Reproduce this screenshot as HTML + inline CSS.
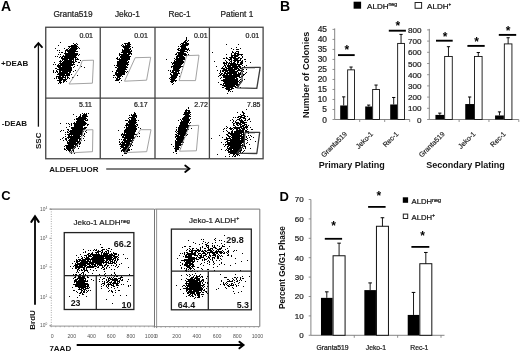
<!DOCTYPE html>
<html><head><meta charset="utf-8"><style>
html,body{margin:0;padding:0;background:#fff;}
svg{display:block;font-family:"Liberation Sans", sans-serif;filter:blur(0.3px);}
</style></head><body>
<svg width="520" height="352" viewBox="0 0 520 352">
<rect width="520" height="352" fill="#fff"/>
<text x="1" y="10.7" font-size="14" font-weight="bold" text-anchor="start" fill="#000" >A</text>
<text x="73" y="17.1" font-size="8.3" font-weight="normal" text-anchor="middle" fill="#222" stroke="#222" stroke-width="0.22" >Granta519</text>
<text x="127.4" y="17.1" font-size="8.3" font-weight="normal" text-anchor="middle" fill="#222" stroke="#222" stroke-width="0.22" >Jeko-1</text>
<text x="179.6" y="17.1" font-size="8.3" font-weight="normal" text-anchor="middle" fill="#222" stroke="#222" stroke-width="0.22" >Rec-1</text>
<text x="236.9" y="17.1" font-size="8.3" font-weight="normal" text-anchor="middle" fill="#222" stroke="#222" stroke-width="0.22" >Patient 1</text>
<text x="1" y="65.7" font-size="8" font-weight="bold" text-anchor="start" fill="#111" >+DEAB</text>
<text x="1.8" y="126.3" font-size="8" font-weight="bold" text-anchor="start" fill="#111" >-DEAB</text>
<path d="M68 58.5h1M63 69.5h1M64 70.5h1M66 60.5h1M74 55.5h1M63 76.5h1M75 50.5h1M73 54.5h1M59 74.5h1M65 65.5h1M75 49.5h1M61 74.5h1M69 78.5h1M66 63.5h1M65 61.5h1M66 73.5h1M74 51.5h1M60 79.5h1M69 55.5h1M73 51.5h1M74 52.5h1M66 72.5h1M65 63.5h1M69 62.5h1M63 76.5h1M76 45.5h1M60 54.5h1M67 55.5h1M64 62.5h1M68 57.5h1M59 81.5h1M70 64.5h1M76 46.5h1M71 52.5h1M65 67.5h1M75 58.5h1M65 63.5h1M67 65.5h1M73 60.5h1M65 70.5h1M57 69.5h1M71 56.5h1M68 57.5h1M63 70.5h1M72 59.5h1M68 65.5h1M70 55.5h1M73 55.5h1M67 65.5h1M69 59.5h1M67 65.5h1M64 72.5h1M69 56.5h1M72 49.5h1M63 72.5h1M68 53.5h1M62 63.5h1M75 51.5h1M72 51.5h1M69 57.5h1M75 44.5h1M61 75.5h1M74 47.5h1M70 55.5h1M63 65.5h1M68 67.5h1M60 72.5h1M75 49.5h1M62 58.5h1M65 58.5h1M72 57.5h1M62 74.5h1M67 58.5h1M62 76.5h1M66 56.5h1M70 55.5h1M61 57.5h1M71 50.5h1M65 60.5h1M68 66.5h1M62 79.5h1M63 64.5h1M72 65.5h1M67 57.5h1M68 46.5h1M69 47.5h1M71 67.5h1M67 61.5h1M60 73.5h1M63 65.5h1M69 51.5h1M77 46.5h1M71 52.5h1M65 79.5h1M66 63.5h1M66 50.5h1M66 71.5h1M62 72.5h1M73 47.5h1M77 46.5h1M70 54.5h1M66 73.5h1M72 52.5h1M64 62.5h1M66 68.5h1M64 64.5h1M63 80.5h1M73 55.5h1M68 60.5h1M66 69.5h1M74 50.5h1M70 53.5h1M66 72.5h1M72 49.5h1M64 74.5h1M63 64.5h1M72 52.5h1M66 67.5h1M69 53.5h1M60 76.5h1M63 67.5h1M69 65.5h1M58 78.5h1M74 49.5h1M71 65.5h1M63 73.5h1M62 60.5h1M69 59.5h1M71 62.5h1M65 64.5h1M70 64.5h1M75 47.5h1M70 58.5h1M64 66.5h1M60 74.5h1M72 51.5h1M68 61.5h1M65 70.5h1M61 79.5h1M64 66.5h1M63 72.5h1M62 76.5h1M68 50.5h1M66 59.5h1M59 74.5h1M71 53.5h1M61 74.5h1M68 57.5h1M62 65.5h1M70 61.5h1M65 69.5h1M60 64.5h1M62 73.5h1M60 70.5h1M76 53.5h1M73 47.5h1M72 48.5h1M70 56.5h1M69 55.5h1M66 65.5h1M70 69.5h1M71 56.5h1M68 68.5h1M71 63.5h1M67 55.5h1M68 73.5h1M71 59.5h1M70 64.5h1M65 60.5h1M75 50.5h1M73 50.5h1M71 50.5h1M78 55.5h1M71 57.5h1M64 67.5h1M73 51.5h1M75 47.5h1M67 72.5h1M64 73.5h1M69 67.5h1M73 59.5h1M69 50.5h1M68 57.5h1M61 68.5h1M68 62.5h1M63 80.5h1M66 70.5h1M63 64.5h1M71 52.5h1M76 48.5h1M63 67.5h1M71 52.5h1M70 59.5h1M63 56.5h1M71 58.5h1M66 69.5h1M70 61.5h1M62 66.5h1M72 48.5h1M70 53.5h1M74 47.5h1M66 66.5h1M70 56.5h1M78 47.5h1M75 53.5h1M62 67.5h1M59 76.5h1M64 79.5h1M64 67.5h1M64 79.5h1M72 64.5h1M63 67.5h1M62 71.5h1M61 77.5h1M65 60.5h1M64 61.5h1M70 52.5h1M72 57.5h1M65 63.5h1M71 53.5h1M67 58.5h1M61 64.5h1M72 62.5h1M56 70.5h1M65 62.5h1M70 60.5h1M65 57.5h1M74 50.5h1M68 71.5h1M72 48.5h1M69 60.5h1M66 56.5h1M66 68.5h1M65 68.5h1M66 68.5h1M69 69.5h1M66 69.5h1M70 67.5h1M71 58.5h1M58 76.5h1M65 68.5h1M66 69.5h1M62 62.5h1M70 66.5h1M66 65.5h1M67 66.5h1M60 71.5h1M67 63.5h1M64 71.5h1M73 46.5h1M61 78.5h1M68 48.5h1M70 66.5h1M66 56.5h1M58 65.5h1M69 52.5h1M63 64.5h1M60 82.5h1M68 54.5h1M75 45.5h1M66 58.5h1M76 57.5h1M74 51.5h1M65 80.5h1M58 76.5h1M66 71.5h1M65 60.5h1M62 78.5h1M72 56.5h1M71 45.5h1M61 68.5h1M60 68.5h1M61 63.5h1M63 64.5h1M66 58.5h1M60 65.5h1M68 61.5h1M69 63.5h1M60 67.5h1M70 51.5h1M70 56.5h1M72 51.5h1M71 48.5h1M66 71.5h1M67 70.5h1M73 52.5h1M63 71.5h1M69 73.5h1M75 56.5h1M59 78.5h1M65 67.5h1M65 75.5h1M62 67.5h1M68 63.5h1M63 72.5h1M67 57.5h1M68 57.5h1M66 53.5h1M62 69.5h1M71 46.5h1M65 80.5h1M63 80.5h1M67 73.5h1M68 62.5h1M72 58.5h1M70 66.5h1M73 55.5h1M76 45.5h1M61 68.5h1M61 78.5h1M60 74.5h1M70 50.5h1M65 57.5h1M71 56.5h1M68 70.5h1M66 54.5h1M73 64.5h1M76 49.5h1M62 70.5h1M65 64.5h1M67 62.5h1M75 50.5h1M60 75.5h1M63 63.5h1M76 43.5h1M60 61.5h1M60 79.5h1M66 73.5h1M68 62.5h1M74 52.5h1M71 58.5h1M66 70.5h1M70 58.5h1M72 46.5h1M71 52.5h1M71 52.5h1M74 54.5h1M72 64.5h1M61 78.5h1M57 80.5h1M58 78.5h1M65 65.5h1M61 82.5h1M62 76.5h1M67 61.5h1M60 71.5h1M65 73.5h1M72 53.5h1M67 62.5h1M71 54.5h1M64 80.5h1M66 62.5h1M73 62.5h1M75 51.5h1M64 69.5h1M74 52.5h1M66 63.5h1M64 62.5h1M71 52.5h1M68 54.5h1M69 62.5h1M74 47.5h1M71 57.5h1M68 67.5h1M64 48.5h1M66 67.5h1M65 53.5h1M65 69.5h1M68 54.5h1M67 63.5h1M73 59.5h1M56 77.5h1M72 53.5h1M65 66.5h1M69 46.5h1M74 51.5h1M74 46.5h1M70 52.5h1M70 50.5h1M79 54.5h1M68 57.5h1M57 72.5h1M67 56.5h1M59 77.5h1M73 48.5h1M70 56.5h1M59 73.5h1M74 48.5h1M70 52.5h1M56 78.5h1M64 62.5h1M72 50.5h1M71 61.5h1M61 78.5h1M59 77.5h1M67 62.5h1M73 50.5h1M71 70.5h1M64 63.5h1M69 61.5h1M63 77.5h1M65 59.5h1M71 54.5h1M70 56.5h1M60 76.5h1M68 65.5h1M70 65.5h1M76 48.5h1M75 44.5h1M67 64.5h1M77 53.5h1M67 54.5h1M72 51.5h1M69 64.5h1M62 75.5h1M73 54.5h1M72 53.5h1M68 66.5h1M67 73.5h1M72 50.5h1M67 63.5h1M71 53.5h1M69 54.5h1M68 60.5h1M65 58.5h1M76 46.5h1M76 51.5h1M75 56.5h1M76 48.5h1M58 77.5h1M63 79.5h1M69 53.5h1M63 71.5h1M70 72.5h1M65 59.5h1M65 73.5h1M66 66.5h1M65 66.5h1M64 62.5h1M63 74.5h1M59 78.5h1M69 66.5h1M70 67.5h1M60 68.5h1M70 53.5h1M67 60.5h1M68 52.5h1M60 70.5h1M61 77.5h1M64 67.5h1M67 51.5h1M70 53.5h1M73 51.5h1M63 61.5h1M69 53.5h1M71 67.5h1M72 61.5h1M63 59.5h1M61 65.5h1M63 74.5h1M60 70.5h1M71 52.5h1M70 52.5h1M69 62.5h1M68 46.5h1M58 64.5h1M66 55.5h1M70 64.5h1M69 57.5h1M62 59.5h1M72 53.5h1M74 51.5h1M67 61.5h1M66 61.5h1M65 70.5h1M72 61.5h1M70 57.5h1M62 77.5h1M64 69.5h1M63 68.5h1M65 60.5h1M70 58.5h1M72 49.5h1M74 46.5h1M68 69.5h1M66 68.5h1M72 56.5h1M57 74.5h1M67 67.5h1M69 53.5h1M59 75.5h1M58 78.5h1M66 74.5h1M68 66.5h1M59 75.5h1M65 58.5h1M60 79.5h1M58 80.5h1M75 56.5h1M70 48.5h1M71 46.5h1M62 73.5h1M65 67.5h1M71 55.5h1M63 76.5h1M74 64.5h1M70 54.5h1M59 76.5h1M60 63.5h1M70 58.5h1M73 54.5h1M66 62.5h1M67 72.5h1M62 74.5h1M75 54.5h1M76 43.5h1M64 60.5h1M68 56.5h1M64 57.5h1M65 54.5h1M72 52.5h1M70 63.5h1M76 53.5h1M65 67.5h1M59 80.5h1M64 60.5h1M71 62.5h1M66 67.5h1M63 67.5h1M62 78.5h1M69 63.5h1M71 45.5h1M72 56.5h1M65 68.5h1M71 50.5h1M65 64.5h1M73 64.5h1M70 68.5h1M73 64.5h1M63 62.5h1M70 51.5h1M75 49.5h1M67 54.5h1M62 69.5h1M67 49.5h1M68 75.5h1M76 47.5h1M72 55.5h1M69 59.5h1M70 52.5h1M69 55.5h1M67 67.5h1M73 46.5h1M70 65.5h1M64 66.5h1M61 68.5h1M73 56.5h1M59 79.5h1M72 54.5h1M62 71.5h1M56 68.5h1M68 65.5h1M59 71.5h1M73 54.5h1M64 57.5h1M58 67.5h1M69 61.5h1M69 62.5h1M67 64.5h1M63 62.5h1M71 61.5h1M65 56.5h1M66 60.5h1M62 68.5h1M60 75.5h1M65 73.5h1M63 67.5h1M74 51.5h1M74 50.5h1M59 67.5h1M72 46.5h1M64 67.5h1M62 69.5h1M62 76.5h1M63 56.5h1M68 67.5h1M72 55.5h1M66 63.5h1M59 69.5h1M74 46.5h1M69 55.5h1M69 63.5h1M62 72.5h1M67 67.5h1M63 67.5h1M74 57.5h1M61 58.5h1M71 49.5h1M69 61.5h1M57 74.5h1M66 70.5h1M66 54.5h1M71 54.5h1M62 66.5h1M63 68.5h1M62 75.5h1M71 53.5h1M70 54.5h1M75 61.5h1M71 53.5h1M61 67.5h1M67 69.5h1M72 56.5h1M70 65.5h1M71 68.5h1M66 58.5h1M74 52.5h1M67 72.5h1M61 77.5h1M64 71.5h1M55 64.5h1M73 47.5h1M70 71.5h1M58 69.5h1M69 53.5h1M67 64.5h1M75 47.5h1M70 69.5h1M67 50.5h1M66 65.5h1M70 63.5h1M63 61.5h1M67 61.5h1M70 71.5h1M66 75.5h1M66 69.5h1M65 50.5h1M67 61.5h1M66 68.5h1M68 57.5h1M73 49.5h1M78 59.5h1M69 57.5h1M63 64.5h1M72 52.5h1M64 66.5h1M64 66.5h1M62 74.5h1M74 49.5h1M60 79.5h1M60 68.5h1M73 47.5h1M72 54.5h1M61 73.5h1M70 66.5h1M61 80.5h1M61 68.5h1M67 65.5h1M71 69.5h1M67 74.5h1M66 64.5h1M72 59.5h1M60 74.5h1M63 61.5h1M75 48.5h1M71 54.5h1M66 69.5h1M70 54.5h1M66 68.5h1M66 61.5h1M74 50.5h1M66 72.5h1M59 79.5h1M71 59.5h1M62 59.5h1M60 72.5h1M73 59.5h1M73 63.5h1M65 68.5h1M69 56.5h1M66 55.5h1M67 65.5h1M63 77.5h1M65 56.5h1M65 72.5h1M63 75.5h1M63 75.5h1M60 69.5h1M67 68.5h1M63 59.5h1M73 59.5h1M73 50.5h1M59 73.5h1M71 64.5h1M64 77.5h1M63 67.5h1M68 77.5h1M67 55.5h1M69 60.5h1M76 46.5h1M62 56.5h1M72 59.5h1M69 57.5h1M64 69.5h1M60 69.5h1M71 54.5h1M66 56.5h1M60 71.5h1M67 58.5h1M68 51.5h1M71 67.5h1M68 51.5h1M72 48.5h1M71 51.5h1M68 60.5h1M73 54.5h1M63 77.5h1M68 57.5h1M65 63.5h1M69 58.5h1M62 79.5h1M73 53.5h1M62 68.5h1M57 69.5h1M77 54.5h1M66 72.5h1M66 67.5h1M66 67.5h1M65 62.5h1M60 70.5h1M66 61.5h1M59 79.5h1M61 72.5h1M65 55.5h1M69 54.5h1M64 74.5h1M58 80.5h1M60 79.5h1M59 63.5h1M63 70.5h1M66 64.5h1M57 76.5h1M62 59.5h1M69 61.5h1M62 66.5h1M64 72.5h1M67 58.5h1M66 69.5h1M62 70.5h1M64 56.5h1M70 55.5h1M71 51.5h1M61 80.5h1M71 50.5h1M66 61.5h1M67 69.5h1M71 64.5h1M65 73.5h1M70 64.5h1M73 51.5h1M68 67.5h1M69 64.5h1M70 59.5h1M67 63.5h1M71 55.5h1M66 79.5h1M65 68.5h1M62 71.5h1M62 71.5h1M70 55.5h1M63 73.5h1M64 59.5h1M57 69.5h1M69 59.5h1M59 66.5h1M69 60.5h1M63 73.5h1M67 71.5h1M69 72.5h1M71 55.5h1M65 62.5h1M60 69.5h1M72 47.5h1M63 71.5h1M62 57.5h1M72 51.5h1M74 47.5h1M63 77.5h1M72 48.5h1M69 59.5h1M69 53.5h1M68 57.5h1M67 51.5h1M62 74.5h1M71 65.5h1M74 48.5h1M65 69.5h1M62 64.5h1M63 80.5h1M72 48.5h1M73 53.5h1M64 70.5h1M71 49.5h1M71 61.5h1M73 49.5h1M75 45.5h1M66 68.5h1M66 65.5h1M73 46.5h1M62 76.5h1M67 59.5h1M71 55.5h1M60 73.5h1M65 55.5h1M66 60.5h1M66 61.5h1M68 61.5h1M71 63.5h1M62 60.5h1M64 70.5h1M56 71.5h1M70 49.5h1M61 72.5h1M65 51.5h1M67 50.5h1M74 48.5h1M66 65.5h1M69 57.5h1M59 74.5h1M69 74.5h1M66 64.5h1M66 57.5h1M71 67.5h1M69 63.5h1M63 69.5h1M76 47.5h1M70 56.5h1M63 77.5h1M74 47.5h1M63 63.5h1M68 68.5h1M71 55.5h1M71 47.5h1M73 45.5h1M73 54.5h1M66 61.5h1M60 78.5h1M70 60.5h1M65 68.5h1M62 60.5h1M68 66.5h1M66 72.5h1M67 69.5h1M72 64.5h1M73 51.5h1M72 56.5h1M63 81.5h1M63 70.5h1M75 57.5h1M67 76.5h1M74 52.5h1M70 70.5h1M70 63.5h1M71 49.5h1M69 67.5h1M71 55.5h1M71 56.5h1M70 56.5h1M65 75.5h1M66 69.5h1M59 77.5h1M74 49.5h1M70 61.5h1M73 45.5h1M67 58.5h1M68 57.5h1M67 57.5h1M67 65.5h1M74 53.5h1M74 62.5h1M70 65.5h1M71 61.5h1M67 72.5h1M72 62.5h1M66 62.5h1M62 78.5h1M65 70.5h1M74 46.5h1M71 50.5h1M69 54.5h1M69 57.5h1M68 51.5h1M70 60.5h1M63 72.5h1M60 78.5h1M73 51.5h1M71 58.5h1M60 74.5h1M69 57.5h1M63 58.5h1M69 47.5h1M57 69.5h1M77 48.5h1M62 59.5h1M65 71.5h1M75 55.5h1M74 44.5h1M70 69.5h1M76 55.5h1M76 47.5h1M76 61.5h1M64 74.5h1M64 63.5h1M64 73.5h1M71 50.5h1M62 63.5h1M64 58.5h1M74 66.5h1M62 68.5h1M61 75.5h1M64 64.5h1M73 50.5h1M63 69.5h1M70 54.5h1M58 77.5h1M65 55.5h1M61 70.5h1M71 57.5h1M73 67.5h1M71 63.5h1M75 56.5h1M70 61.5h1M67 61.5h1M67 53.5h1M63 71.5h1M65 52.5h1M67 60.5h1M63 82.5h1M66 67.5h1M74 53.5h1M73 46.5h1M69 49.5h1M60 76.5h1M62 72.5h1M69 68.5h1M77 51.5h1M65 61.5h1M68 58.5h1M67 61.5h1M68 57.5h1M60 68.5h1M64 70.5h1M73 51.5h1M69 60.5h1M64 58.5h1M67 62.5h1M70 48.5h1M72 59.5h1M63 63.5h1M73 47.5h1M61 74.5h1M65 62.5h1M70 50.5h1M57 71.5h1M75 56.5h1M63 73.5h1M69 59.5h1M67 78.5h1M66 65.5h1M68 64.5h1M61 75.5h1M77 46.5h1M73 52.5h1M62 76.5h1M66 63.5h1M72 53.5h1M75 51.5h1M60 61.5h1M67 61.5h1M62 69.5h1M74 45.5h1M60 62.5h1M69 65.5h1M69 52.5h1M72 49.5h1M63 67.5h1M66 53.5h1M63 69.5h1M70 46.5h1M58 76.5h1M68 57.5h1M69 57.5h1M73 49.5h1M66 64.5h1M76 54.5h1M66 67.5h1M62 63.5h1M70 52.5h1M68 56.5h1M63 71.5h1M63 67.5h1M63 64.5h1M68 73.5h1M65 67.5h1M72 48.5h1M64 67.5h1M69 57.5h1M66 75.5h1M60 82.5h1M74 53.5h1M53 70.5h1M74 49.5h1M67 71.5h1M75 60.5h1M73 48.5h1M60 64.5h1M69 62.5h1M62 70.5h1M57 71.5h1M67 58.5h1M76 48.5h1M70 65.5h1M73 53.5h1M66 57.5h1M76 59.5h1M58 76.5h1M75 44.5h1M60 65.5h1M76 49.5h1M74 49.5h1M71 60.5h1M69 59.5h1M72 52.5h1M66 66.5h1M66 53.5h1M66 72.5h1M67 71.5h1M69 54.5h1M64 70.5h1M61 77.5h1M73 61.5h1M72 54.5h1M69 58.5h1M70 53.5h1M61 63.5h1M58 80.5h1M60 78.5h1M72 50.5h1M69 58.5h1M67 68.5h1M68 64.5h1M60 80.5h1M71 58.5h1M62 74.5h1M64 70.5h1M66 69.5h1M61 61.5h1M71 64.5h1M64 58.5h1M72 58.5h1M70 57.5h1M69 68.5h1M68 61.5h1M70 50.5h1M67 72.5h1M69 59.5h1M70 58.5h1M64 70.5h1M69 67.5h1M77 44.5h1M61 78.5h1M64 58.5h1M60 77.5h1M71 54.5h1M68 74.5h1M70 59.5h1M71 52.5h1M65 76.5h1M70 54.5h1M63 71.5h1M72 52.5h1M58 73.5h1M67 70.5h1M66 68.5h1M63 70.5h1M67 54.5h1M75 46.5h1M69 70.5h1M66 59.5h1M65 59.5h1M63 75.5h1M56 76.5h1M64 53.5h1M68 56.5h1M72 48.5h1M74 46.5h1M63 66.5h1M66 68.5h1M69 56.5h1M68 56.5h1M69 55.5h1M72 56.5h1M67 70.5h1M73 57.5h1M74 50.5h1M53 71.5h1M62 66.5h1M72 49.5h1M64 71.5h1M59 68.5h1M75 54.5h1M72 53.5h1M70 53.5h1M67 64.5h1M74 45.5h1M73 45.5h1M71 57.5h1M63 67.5h1M58 73.5h1M72 49.5h1M71 52.5h1M68 53.5h1M63 79.5h1M59 72.5h1M67 75.5h1M66 72.5h1M68 55.5h1M70 56.5h1M65 75.5h1M69 57.5h1M68 53.5h1M67 64.5h1M65 80.5h1M59 68.5h1M60 81.5h1M71 53.5h1M67 61.5h1M69 55.5h1M59 80.5h1M62 79.5h1M75 48.5h1M63 63.5h1M69 71.5h1M59 70.5h1M69 64.5h1M68 61.5h1M74 55.5h1M72 55.5h1M75 50.5h1M60 78.5h1M74 51.5h1M62 76.5h1M75 59.5h1M58 78.5h1M65 77.5h1M62 77.5h1M66 66.5h1M69 55.5h1M70 60.5h1M66 54.5h1M58 74.5h1M73 52.5h1M61 63.5h1M65 78.5h1M69 56.5h1M72 52.5h1M70 57.5h1M62 77.5h1M65 66.5h1M64 67.5h1M65 66.5h1M65 76.5h1M69 68.5h1M66 74.5h1M66 68.5h1M74 46.5h1M65 55.5h1M75 49.5h1M67 71.5h1M68 58.5h1M65 73.5h1M75 53.5h1M74 46.5h1M72 59.5h1M62 76.5h1M73 43.5h1M66 60.5h1M68 57.5h1M63 76.5h1M69 52.5h1M69 55.5h1M65 59.5h1M71 54.5h1M67 63.5h1M71 62.5h1M69 66.5h1M67 64.5h1M62 76.5h1M72 51.5h1M75 46.5h1M58 66.5h1M66 62.5h1M65 57.5h1M57 65.5h1M66 81.5h1M53 64.5h1M64 81.5h1M57 65.5h1M60 78.5h1M79 62.5h1M54 62.5h1M59 61.5h1M70 72.5h1M69 59.5h1M65 59.5h1M69 56.5h1M66 53.5h1M69 57.5h1M67 77.5h1M73 46.5h1M72 50.5h1M76 51.5h1M77 65.5h1M62 64.5h1M68 64.5h1M63 63.5h1M63 62.5h1M64 63.5h1M58 76.5h1M59 57.5h1M61 52.5h1M72 45.5h1M58 83.5h1M71 69.5h1M60 71.5h1M62 71.5h1M66 71.5h1M73 57.5h1M70 54.5h1M64 67.5h1M79 48.5h1M62 68.5h1M65 59.5h1M62 52.5h1M63 76.5h1M64 65.5h1M75 70.5h1M63 66.5h1M67 72.5h1M74 55.5h1M73 71.5h1M56 70.5h1M76 59.5h1M67 61.5h1M69 55.5h1M58 78.5h1M66 59.5h1M67 58.5h1M59 52.5h1M72 56.5h1M66 63.5h1M65 54.5h1M64 68.5h1M80 60.5h1M62 77.5h1M68 54.5h1M77 59.5h1M59 68.5h1M61 73.5h1M60 69.5h1M68 55.5h1M64 75.5h1M68 67.5h1M61 65.5h1M63 68.5h1M68 61.5h1M63 65.5h1M63 69.5h1M65 57.5h1M60 67.5h1M63 72.5h1M61 61.5h1M75 45.5h1M73 45.5h1M60 63.5h1M70 49.5h1M59 74.5h1M59 79.5h1M72 52.5h1M65 63.5h1M70 48.5h1M68 77.5h1M66 74.5h1M70 56.5h1M67 73.5h1M71 56.5h1M63 67.5h1M63 72.5h1M77 75.5h1M65 77.5h1M75 56.5h1M61 69.5h1M72 58.5h1M73 77.5h1M66 70.5h1M69 72.5h1M75 56.5h1M64 75.5h1M77 58.5h1M63 72.5h1M64 73.5h1M65 58.5h1M81 66.5h1M72 53.5h1M70 56.5h1M75 60.5h1M66 56.5h1M69 57.5h1M57 76.5h1M62 73.5h1M61 70.5h1M66 71.5h1M70 52.5h1M61 67.5h1M60 74.5h1M64 67.5h1M71 49.5h1M75 53.5h1M66 73.5h1M70 55.5h1M61 58.5h1M64 73.5h1M54 78.5h1M63 72.5h1M72 50.5h1M70 50.5h1M68 50.5h1M63 61.5h1M78 62.5h1M66 60.5h1M58 80.5h1M64 77.5h1M74 49.5h1M73 62.5h1M63 55.5h1M59 65.5h1M84 67.5h1M74 45.5h1M73 46.5h1M63 72.5h1M74 56.5h1M60 60.5h1M59 82.5h1M59 78.5h1M63 77.5h1M66 66.5h1M65 58.5h1M62 60.5h1M55 56.5h1M70 69.5h1M55 68.5h1M61 70.5h1M71 74.5h1M63 66.5h1M72 58.5h1M72 49.5h1M70 65.5h1M73 48.5h1M62 65.5h1M76 54.5h1M60 73.5h1M55 72.5h1M64 64.5h1M70 62.5h1M60 62.5h1M68 69.5h1M73 58.5h1M72 77.5h1M62 64.5h1M69 65.5h1M58 64.5h1M59 50.5h1M53 72.5h1M63 58.5h1M60 65.5h1M60 42.5h1M62 66.5h1M61 75.5h1M58 45.5h1M67 77.5h1M59 68.5h1M63 58.5h1M66 50.5h1M58 74.5h1M60 66.5h1M57 69.5h1M64 62.5h1M59 57.5h1M56 71.5h1M64 56.5h1M63 72.5h1M57 50.5h1M64 56.5h1M61 52.5h1M69 75.5h1M66 49.5h1M58 54.5h1M59 70.5h1M57 66.5h1M60 83.5h1M60 80.5h1M62 69.5h1M60 70.5h1M55 48.5h1M57 56.5h1M65 61.5h1M64 62.5h1M59 52.5h1M60 56.5h1M59 57.5h1" stroke="#000" stroke-width="1" fill="none" opacity="1.0"/>
<path d="M129 53.5h1M127 55.5h1M127 60.5h1M121 59.5h1M118 75.5h1M129 46.5h1M120 72.5h1M128 49.5h1M123 61.5h1M124 54.5h1M129 54.5h1M123 70.5h1M118 62.5h1M123 55.5h1M124 56.5h1M118 80.5h1M123 60.5h1M126 43.5h1M123 66.5h1M124 57.5h1M121 75.5h1M122 67.5h1M120 76.5h1M122 70.5h1M129 46.5h1M124 53.5h1M126 61.5h1M127 49.5h1M124 49.5h1M122 61.5h1M116 80.5h1M122 66.5h1M127 54.5h1M123 51.5h1M124 63.5h1M126 51.5h1M119 65.5h1M126 58.5h1M120 62.5h1M117 71.5h1M120 74.5h1M121 72.5h1M126 46.5h1M127 56.5h1M124 66.5h1M118 73.5h1M126 69.5h1M119 74.5h1M120 74.5h1M117 59.5h1M125 59.5h1M124 53.5h1M126 56.5h1M121 54.5h1M128 56.5h1M124 68.5h1M128 62.5h1M116 58.5h1M127 51.5h1M127 49.5h1M123 45.5h1M120 64.5h1M128 44.5h1M129 52.5h1M122 58.5h1M123 63.5h1M123 60.5h1M126 53.5h1M124 55.5h1M125 62.5h1M127 56.5h1M123 52.5h1M123 71.5h1M128 42.5h1M119 71.5h1M128 54.5h1M126 52.5h1M125 58.5h1M128 52.5h1M127 52.5h1M125 51.5h1M125 48.5h1M129 47.5h1M129 44.5h1M126 54.5h1M120 70.5h1M119 78.5h1M124 59.5h1M120 59.5h1M128 46.5h1M125 57.5h1M126 57.5h1M127 44.5h1M119 69.5h1M120 73.5h1M122 61.5h1M125 52.5h1M122 71.5h1M124 60.5h1M128 61.5h1M117 80.5h1M125 68.5h1M124 67.5h1M131 54.5h1M121 67.5h1M128 45.5h1M124 69.5h1M119 68.5h1M120 66.5h1M128 48.5h1M124 61.5h1M117 68.5h1M126 52.5h1M121 66.5h1M127 47.5h1M122 65.5h1M124 55.5h1M129 49.5h1M126 55.5h1M119 72.5h1M119 73.5h1M127 55.5h1M128 51.5h1M119 82.5h1M120 69.5h1M122 67.5h1M129 58.5h1M120 70.5h1M128 59.5h1M123 69.5h1M126 48.5h1M123 51.5h1M127 54.5h1M122 60.5h1M121 61.5h1M118 61.5h1M127 59.5h1M128 46.5h1M125 56.5h1M123 64.5h1M120 74.5h1M123 61.5h1M126 57.5h1M125 52.5h1M124 43.5h1M120 75.5h1M126 54.5h1M118 77.5h1M123 73.5h1M122 54.5h1M117 57.5h1M128 58.5h1M120 74.5h1M119 61.5h1M128 43.5h1M126 55.5h1M118 67.5h1M127 52.5h1M125 71.5h1M128 56.5h1M123 60.5h1M123 63.5h1M125 48.5h1M122 65.5h1M127 47.5h1M122 55.5h1M119 64.5h1M127 64.5h1M124 59.5h1M122 55.5h1M123 57.5h1M129 54.5h1M129 57.5h1M118 73.5h1M127 49.5h1M122 72.5h1M124 54.5h1M118 68.5h1M121 60.5h1M122 65.5h1M120 63.5h1M118 68.5h1M123 59.5h1M122 71.5h1M126 56.5h1M124 55.5h1M122 76.5h1M123 55.5h1M123 62.5h1M123 51.5h1M129 46.5h1M122 64.5h1M121 54.5h1M117 77.5h1M130 53.5h1M121 74.5h1M123 64.5h1M129 47.5h1M125 46.5h1M119 69.5h1M117 73.5h1M120 64.5h1M120 69.5h1M125 61.5h1M126 60.5h1M129 50.5h1M131 54.5h1M118 73.5h1M126 51.5h1M124 63.5h1M119 66.5h1M123 58.5h1M128 46.5h1M126 46.5h1M126 57.5h1M128 53.5h1M118 69.5h1M115 67.5h1M124 59.5h1M122 57.5h1M125 55.5h1M124 54.5h1M125 57.5h1M128 56.5h1M119 78.5h1M118 74.5h1M124 51.5h1M119 54.5h1M117 62.5h1M119 66.5h1M124 60.5h1M127 44.5h1M128 43.5h1M117 65.5h1M116 71.5h1M119 59.5h1M119 77.5h1M119 58.5h1M122 71.5h1M121 59.5h1M123 65.5h1M123 64.5h1M126 57.5h1M125 65.5h1M117 73.5h1M127 43.5h1M116 79.5h1M120 65.5h1M122 70.5h1M122 62.5h1M126 51.5h1M122 69.5h1M118 72.5h1M128 50.5h1M117 64.5h1M127 51.5h1M121 71.5h1M124 52.5h1M128 43.5h1M124 64.5h1M122 59.5h1M117 64.5h1M118 66.5h1M123 69.5h1M124 52.5h1M126 63.5h1M128 56.5h1M123 57.5h1M118 79.5h1M126 46.5h1M121 64.5h1M122 58.5h1M123 64.5h1M116 74.5h1M119 71.5h1M125 56.5h1M121 71.5h1M115 74.5h1M117 63.5h1M120 61.5h1M125 52.5h1M121 68.5h1M122 66.5h1M130 53.5h1M122 68.5h1M128 47.5h1M118 75.5h1M124 64.5h1M127 51.5h1M118 79.5h1M117 78.5h1M124 63.5h1M130 46.5h1M116 78.5h1M119 54.5h1M126 57.5h1M123 65.5h1M117 77.5h1M120 66.5h1M131 53.5h1M123 56.5h1M120 61.5h1M121 61.5h1M123 63.5h1M122 58.5h1M121 62.5h1M122 66.5h1M122 59.5h1M120 70.5h1M127 46.5h1M122 56.5h1M123 61.5h1M121 57.5h1M122 70.5h1M117 71.5h1M122 61.5h1M124 46.5h1M126 47.5h1M121 55.5h1M127 60.5h1M126 51.5h1M125 59.5h1M115 73.5h1M119 63.5h1M123 60.5h1M120 59.5h1M125 64.5h1M122 59.5h1M125 55.5h1M122 67.5h1M125 53.5h1M128 50.5h1M121 61.5h1M121 69.5h1M121 75.5h1M125 57.5h1M125 54.5h1M126 50.5h1M124 59.5h1M121 72.5h1M126 48.5h1M119 59.5h1M119 73.5h1M120 70.5h1M123 66.5h1M124 59.5h1M128 57.5h1M126 45.5h1M124 51.5h1M123 65.5h1M125 48.5h1M125 57.5h1M122 64.5h1M116 70.5h1M128 49.5h1M123 72.5h1M125 54.5h1M118 63.5h1M128 49.5h1M117 74.5h1M125 52.5h1M125 58.5h1M119 65.5h1M122 50.5h1M119 73.5h1M122 62.5h1M122 57.5h1M120 65.5h1M122 69.5h1M118 76.5h1M123 56.5h1M119 68.5h1M129 43.5h1M123 62.5h1M125 51.5h1M125 47.5h1M120 67.5h1M120 66.5h1M122 65.5h1M126 61.5h1M125 62.5h1M125 61.5h1M117 79.5h1M118 74.5h1M120 73.5h1M121 62.5h1M126 48.5h1M124 52.5h1M120 69.5h1M125 52.5h1M127 62.5h1M127 51.5h1M126 47.5h1M121 71.5h1M118 74.5h1M123 69.5h1M123 67.5h1M126 72.5h1M119 62.5h1M124 58.5h1M126 51.5h1M126 51.5h1M120 74.5h1M120 60.5h1M119 66.5h1M125 55.5h1M124 65.5h1M124 50.5h1M125 45.5h1M124 66.5h1M123 66.5h1M121 73.5h1M121 58.5h1M121 66.5h1M123 62.5h1M126 53.5h1M118 74.5h1M128 43.5h1M124 65.5h1M124 54.5h1M117 75.5h1M125 52.5h1M117 76.5h1M123 61.5h1M119 73.5h1M121 64.5h1M128 55.5h1M118 77.5h1M123 57.5h1M128 51.5h1M118 73.5h1M124 57.5h1M126 49.5h1M118 74.5h1M125 51.5h1M123 62.5h1M126 43.5h1M123 56.5h1M125 56.5h1M125 57.5h1M128 45.5h1M124 73.5h1M126 55.5h1M124 57.5h1M118 75.5h1M125 55.5h1M124 60.5h1M122 61.5h1M126 64.5h1M121 57.5h1M122 69.5h1M121 70.5h1M123 52.5h1M129 43.5h1M125 57.5h1M118 71.5h1M130 56.5h1M124 61.5h1M124 56.5h1M120 66.5h1M123 55.5h1M121 67.5h1M125 54.5h1M120 59.5h1M119 63.5h1M123 54.5h1M125 51.5h1M124 56.5h1M122 57.5h1M122 68.5h1M119 78.5h1M123 60.5h1M117 61.5h1M117 79.5h1M123 66.5h1M127 48.5h1M123 62.5h1M121 67.5h1M116 75.5h1M119 53.5h1M119 78.5h1M119 68.5h1M124 61.5h1M121 65.5h1M120 67.5h1M123 70.5h1M121 56.5h1M125 53.5h1M119 65.5h1M127 47.5h1M127 49.5h1M125 58.5h1M124 58.5h1M116 73.5h1M121 68.5h1M123 67.5h1M128 51.5h1M124 74.5h1M121 70.5h1M119 64.5h1M119 70.5h1M127 48.5h1M128 52.5h1M117 69.5h1M123 67.5h1M127 50.5h1M121 60.5h1M124 62.5h1M126 45.5h1M121 68.5h1M119 72.5h1M124 58.5h1M122 55.5h1M124 61.5h1M120 54.5h1M119 69.5h1M117 76.5h1M129 53.5h1M125 57.5h1M118 74.5h1M120 61.5h1M125 53.5h1M122 58.5h1M121 80.5h1M113 75.5h1M124 59.5h1M113 77.5h1M127 55.5h1M123 53.5h1M124 70.5h1M122 60.5h1M122 72.5h1M121 67.5h1M125 63.5h1M127 47.5h1M114 65.5h1M121 60.5h1M116 75.5h1M123 68.5h1M123 64.5h1M119 74.5h1M121 70.5h1M126 51.5h1M119 69.5h1M129 56.5h1M123 63.5h1M126 50.5h1M123 51.5h1M117 77.5h1M120 68.5h1M127 47.5h1M121 61.5h1M119 73.5h1M126 45.5h1M121 68.5h1M120 56.5h1M123 54.5h1M125 49.5h1M124 65.5h1M125 57.5h1M127 48.5h1M118 69.5h1M123 58.5h1M122 70.5h1M126 62.5h1M124 48.5h1M123 56.5h1M124 59.5h1M121 69.5h1M119 73.5h1M125 58.5h1M121 57.5h1M129 49.5h1M118 65.5h1M121 66.5h1M120 72.5h1M126 59.5h1M127 55.5h1M125 60.5h1M127 55.5h1M119 72.5h1M124 63.5h1M128 57.5h1M120 62.5h1M123 52.5h1M121 57.5h1M128 55.5h1M129 46.5h1M118 72.5h1M124 60.5h1M125 58.5h1M126 61.5h1M123 47.5h1M122 60.5h1M121 64.5h1M123 63.5h1M121 69.5h1M123 59.5h1M127 50.5h1M117 58.5h1M127 71.5h1M126 56.5h1M121 72.5h1M119 69.5h1M126 52.5h1M123 74.5h1M125 69.5h1M118 77.5h1M116 73.5h1M122 66.5h1M124 54.5h1M121 72.5h1M123 51.5h1M126 50.5h1M119 76.5h1M125 51.5h1M125 63.5h1M121 58.5h1M117 74.5h1M126 49.5h1M122 70.5h1M119 72.5h1M117 78.5h1M129 45.5h1M119 74.5h1M124 54.5h1M126 52.5h1M121 66.5h1M119 76.5h1M127 49.5h1M125 50.5h1M120 67.5h1M122 61.5h1M125 56.5h1M124 60.5h1M127 43.5h1M126 50.5h1M119 76.5h1M126 60.5h1M128 45.5h1M127 64.5h1M119 75.5h1M123 66.5h1M122 60.5h1M120 61.5h1M119 74.5h1M126 56.5h1M119 76.5h1M123 61.5h1M117 78.5h1M123 54.5h1M120 69.5h1M122 68.5h1M124 66.5h1M112 71.5h1M121 70.5h1M126 61.5h1M122 72.5h1M119 75.5h1M123 67.5h1M122 58.5h1M124 56.5h1M119 77.5h1M125 46.5h1M123 55.5h1M123 61.5h1M117 69.5h1M118 76.5h1M120 56.5h1M121 69.5h1M121 66.5h1M118 73.5h1M116 78.5h1M119 68.5h1M116 65.5h1M123 57.5h1M120 70.5h1M125 65.5h1M122 60.5h1M118 76.5h1M129 53.5h1M124 71.5h1M119 70.5h1M126 60.5h1M126 61.5h1M126 53.5h1M123 54.5h1M119 65.5h1M121 70.5h1M130 56.5h1M118 75.5h1M129 52.5h1M127 64.5h1M119 62.5h1M119 69.5h1M127 60.5h1M121 75.5h1M123 65.5h1M121 67.5h1M125 59.5h1M118 70.5h1M128 64.5h1M119 63.5h1M120 56.5h1M122 66.5h1M127 60.5h1M122 61.5h1M120 70.5h1M125 48.5h1M121 66.5h1M120 61.5h1M124 50.5h1M124 48.5h1M118 73.5h1M126 66.5h1M124 56.5h1M124 60.5h1M127 67.5h1M120 64.5h1M120 62.5h1M128 47.5h1M117 68.5h1M126 54.5h1M122 72.5h1M125 47.5h1M119 71.5h1M127 64.5h1M121 58.5h1M118 70.5h1M126 51.5h1M124 56.5h1M120 61.5h1M125 67.5h1M117 77.5h1M126 54.5h1M122 60.5h1M124 57.5h1M124 49.5h1M127 55.5h1M124 53.5h1M127 59.5h1M122 55.5h1M123 56.5h1M123 65.5h1M118 77.5h1M125 49.5h1M125 54.5h1M118 64.5h1M128 46.5h1M125 43.5h1M124 60.5h1M126 62.5h1M123 67.5h1M125 59.5h1M123 57.5h1M121 70.5h1M122 61.5h1M125 54.5h1M121 66.5h1M122 44.5h1M120 76.5h1M119 76.5h1M128 50.5h1M125 47.5h1M121 73.5h1M124 60.5h1M118 59.5h1M119 60.5h1M120 71.5h1M119 68.5h1M120 71.5h1M117 78.5h1M120 78.5h1M122 49.5h1M117 71.5h1M116 79.5h1M121 56.5h1M123 57.5h1M121 67.5h1M118 64.5h1M123 63.5h1M125 66.5h1M127 57.5h1M130 53.5h1M120 76.5h1M119 74.5h1M125 69.5h1M125 58.5h1M128 59.5h1M122 63.5h1M119 54.5h1M125 47.5h1M124 57.5h1M123 66.5h1M122 62.5h1M120 76.5h1M118 65.5h1M126 46.5h1M119 79.5h1M123 62.5h1M125 55.5h1M128 54.5h1M127 58.5h1M119 66.5h1M125 55.5h1M117 66.5h1M121 68.5h1M123 63.5h1M116 72.5h1M123 71.5h1M130 52.5h1M122 67.5h1M122 70.5h1M124 69.5h1M124 54.5h1M121 74.5h1M122 68.5h1M119 59.5h1M122 55.5h1M120 64.5h1M123 69.5h1M125 55.5h1M124 66.5h1M121 64.5h1M123 50.5h1M127 67.5h1M132 47.5h1M122 65.5h1M120 69.5h1M126 61.5h1M118 67.5h1M117 79.5h1M123 50.5h1M126 56.5h1M122 67.5h1M118 75.5h1M118 70.5h1M119 59.5h1M117 75.5h1M122 74.5h1M124 54.5h1M127 58.5h1M119 65.5h1M122 64.5h1M122 59.5h1M122 62.5h1M122 69.5h1M121 52.5h1M129 47.5h1M118 79.5h1M128 45.5h1M124 59.5h1M127 47.5h1M128 49.5h1M127 47.5h1M119 68.5h1M119 73.5h1M121 74.5h1M126 53.5h1M127 48.5h1M124 58.5h1M125 52.5h1M128 42.5h1M122 51.5h1M120 70.5h1M124 65.5h1M125 52.5h1M121 60.5h1M126 57.5h1M121 69.5h1M129 42.5h1M125 59.5h1M121 71.5h1M126 51.5h1M122 58.5h1M120 78.5h1M118 76.5h1M118 70.5h1M126 51.5h1M127 58.5h1M115 77.5h1M123 70.5h1M120 70.5h1M127 64.5h1M122 68.5h1M124 56.5h1M120 78.5h1M121 75.5h1M118 75.5h1M122 65.5h1M119 69.5h1M123 69.5h1M119 60.5h1M125 52.5h1M120 54.5h1M122 68.5h1M119 55.5h1M118 67.5h1M119 75.5h1M121 64.5h1M119 71.5h1M115 80.5h1M123 58.5h1M117 65.5h1M128 45.5h1M126 59.5h1M124 64.5h1M128 43.5h1M124 66.5h1M121 71.5h1M128 51.5h1M128 48.5h1M124 58.5h1M124 50.5h1M123 46.5h1M128 49.5h1M121 67.5h1M130 49.5h1M115 72.5h1M123 67.5h1M119 64.5h1M122 63.5h1M122 57.5h1M128 46.5h1M119 72.5h1M128 48.5h1M127 47.5h1M123 64.5h1M123 70.5h1M128 47.5h1M121 66.5h1M123 71.5h1M121 66.5h1M125 57.5h1M120 69.5h1M120 64.5h1M122 46.5h1M121 73.5h1M117 70.5h1M120 76.5h1M128 59.5h1M118 66.5h1M122 70.5h1M125 54.5h1M125 57.5h1M124 49.5h1M125 53.5h1M119 74.5h1M128 56.5h1M126 67.5h1M124 59.5h1M124 55.5h1M130 51.5h1M121 65.5h1M122 64.5h1M123 60.5h1M125 59.5h1M124 63.5h1M120 65.5h1M123 58.5h1M127 65.5h1M129 51.5h1M127 50.5h1M125 55.5h1M122 61.5h1M127 54.5h1M122 60.5h1M118 77.5h1M127 45.5h1M124 53.5h1M122 63.5h1M127 47.5h1M121 63.5h1M124 58.5h1M126 50.5h1M122 58.5h1M128 43.5h1M127 48.5h1M126 58.5h1M125 64.5h1M119 76.5h1M121 64.5h1M124 56.5h1M130 48.5h1M128 51.5h1M122 55.5h1M122 65.5h1M122 59.5h1M118 74.5h1M115 77.5h1M122 64.5h1M120 57.5h1M119 70.5h1M129 53.5h1M125 64.5h1M117 75.5h1M120 63.5h1M121 60.5h1M125 44.5h1M125 48.5h1M125 53.5h1M123 54.5h1M124 64.5h1M124 56.5h1M124 55.5h1M126 64.5h1M124 62.5h1M121 67.5h1M127 62.5h1M130 44.5h1M119 68.5h1M120 74.5h1M124 54.5h1M123 52.5h1M124 72.5h1M126 64.5h1M120 61.5h1M126 55.5h1M117 66.5h1M126 59.5h1M120 71.5h1M123 58.5h1M124 68.5h1M124 57.5h1M126 51.5h1M124 64.5h1M124 54.5h1M120 75.5h1M120 71.5h1M128 49.5h1M122 68.5h1M124 64.5h1M121 60.5h1M129 56.5h1M123 58.5h1M127 63.5h1M124 52.5h1M121 65.5h1M123 57.5h1M124 68.5h1M124 53.5h1M126 54.5h1M119 61.5h1M122 58.5h1M122 66.5h1M118 77.5h1M116 70.5h1M121 70.5h1M127 44.5h1M125 69.5h1M129 59.5h1M118 70.5h1M120 59.5h1M121 56.5h1M126 51.5h1M120 62.5h1M126 49.5h1M118 75.5h1M126 67.5h1M114 75.5h1M123 61.5h1M121 55.5h1M118 67.5h1M131 50.5h1M121 73.5h1M118 70.5h1M120 73.5h1M120 67.5h1M123 72.5h1M124 51.5h1M124 62.5h1M127 46.5h1M120 69.5h1M120 65.5h1M118 66.5h1M123 60.5h1M122 72.5h1M123 52.5h1M121 60.5h1M120 71.5h1M119 60.5h1M126 62.5h1M123 68.5h1M121 45.5h1M116 73.5h1M116 67.5h1M120 75.5h1M126 64.5h1M125 44.5h1M117 69.5h1M120 66.5h1M124 51.5h1M123 69.5h1M126 62.5h1M127 52.5h1M125 66.5h1M125 66.5h1M124 54.5h1M119 67.5h1M117 68.5h1M127 55.5h1M122 73.5h1M130 46.5h1M123 54.5h1M123 55.5h1M124 59.5h1M128 59.5h1M126 55.5h1M122 64.5h1M122 52.5h1M121 71.5h1M119 76.5h1M124 47.5h1M131 51.5h1M118 62.5h1M128 54.5h1M124 54.5h1M124 59.5h1M118 63.5h1M122 55.5h1" stroke="#000" stroke-width="1" fill="none" opacity="1.0"/>
<path d="M180 49.5h1M171 81.5h1M182 46.5h1M182 52.5h1M175 67.5h1M171 62.5h1M178 69.5h1M175 67.5h1M171 77.5h1M172 71.5h1M172 76.5h1M172 72.5h1M177 65.5h1M179 61.5h1M174 73.5h1M182 52.5h1M176 64.5h1M179 63.5h1M182 50.5h1M175 73.5h1M176 71.5h1M181 52.5h1M180 65.5h1M181 59.5h1M178 60.5h1M176 77.5h1M182 61.5h1M174 64.5h1M178 48.5h1M178 58.5h1M186 42.5h1M184 49.5h1M186 42.5h1M175 69.5h1M180 64.5h1M175 74.5h1M184 42.5h1M178 64.5h1M182 59.5h1M173 72.5h1M181 50.5h1M171 80.5h1M175 78.5h1M184 49.5h1M184 51.5h1M172 77.5h1M184 44.5h1M185 49.5h1M178 59.5h1M178 69.5h1M173 78.5h1M182 51.5h1M186 42.5h1M182 57.5h1M176 76.5h1M178 59.5h1M186 49.5h1M173 72.5h1M178 58.5h1M172 64.5h1M179 64.5h1M178 71.5h1M177 58.5h1M175 68.5h1M175 69.5h1M171 78.5h1M185 41.5h1M172 80.5h1M179 57.5h1M178 55.5h1M179 60.5h1M184 47.5h1M173 67.5h1M185 42.5h1M183 51.5h1M171 66.5h1M176 70.5h1M177 75.5h1M174 66.5h1M181 62.5h1M175 71.5h1M184 50.5h1M180 56.5h1M177 57.5h1M171 75.5h1M187 52.5h1M181 46.5h1M182 48.5h1M178 71.5h1M175 72.5h1M181 54.5h1M171 72.5h1M178 58.5h1M173 71.5h1M175 59.5h1M178 64.5h1M176 73.5h1M180 52.5h1M177 62.5h1M178 66.5h1M183 53.5h1M173 71.5h1M176 74.5h1M178 68.5h1M175 71.5h1M175 62.5h1M181 58.5h1M177 69.5h1M184 55.5h1M174 69.5h1M187 45.5h1M183 47.5h1M184 47.5h1M186 39.5h1M177 66.5h1M186 49.5h1M177 60.5h1M182 55.5h1M179 58.5h1M182 52.5h1M180 53.5h1M174 76.5h1M177 52.5h1M175 71.5h1M179 65.5h1M173 81.5h1M178 52.5h1M177 57.5h1M175 68.5h1M184 58.5h1M181 51.5h1M174 74.5h1M175 68.5h1M182 53.5h1M176 61.5h1M185 44.5h1M179 62.5h1M176 73.5h1M180 52.5h1M175 75.5h1M185 54.5h1M177 70.5h1M185 45.5h1M178 48.5h1M179 68.5h1M178 73.5h1M179 66.5h1M181 58.5h1M179 64.5h1M176 80.5h1M184 41.5h1M183 44.5h1M178 68.5h1M176 71.5h1M178 48.5h1M177 67.5h1M178 64.5h1M176 60.5h1M183 49.5h1M185 42.5h1M172 71.5h1M176 72.5h1M173 83.5h1M182 63.5h1M176 61.5h1M177 56.5h1M176 69.5h1M175 72.5h1M178 54.5h1M179 55.5h1M175 78.5h1M180 59.5h1M178 69.5h1M181 54.5h1M179 66.5h1M175 68.5h1M183 46.5h1M174 67.5h1M178 49.5h1M181 51.5h1M175 61.5h1M179 58.5h1M183 50.5h1M180 59.5h1M175 73.5h1M182 49.5h1M181 54.5h1M184 54.5h1M178 60.5h1M182 50.5h1M180 44.5h1M180 50.5h1M181 60.5h1M173 71.5h1M177 58.5h1M181 62.5h1M181 47.5h1M178 69.5h1M183 46.5h1M173 74.5h1M181 43.5h1M183 57.5h1M181 43.5h1M177 57.5h1M186 45.5h1M179 52.5h1M178 65.5h1M174 75.5h1M174 73.5h1M179 53.5h1M180 51.5h1M185 43.5h1M181 47.5h1M185 44.5h1M174 76.5h1M181 57.5h1M180 59.5h1M185 45.5h1M172 82.5h1M182 55.5h1M172 81.5h1M181 57.5h1M175 64.5h1M180 46.5h1M178 64.5h1M185 48.5h1M181 48.5h1M173 66.5h1M181 51.5h1M181 57.5h1M175 75.5h1M181 51.5h1M173 70.5h1M173 76.5h1M178 66.5h1M179 59.5h1M181 61.5h1M182 47.5h1M182 57.5h1M185 51.5h1M173 72.5h1M181 48.5h1M173 81.5h1M188 54.5h1M175 74.5h1M177 65.5h1M178 71.5h1M172 78.5h1M176 58.5h1M176 62.5h1M188 40.5h1M173 67.5h1M177 55.5h1M176 73.5h1M180 58.5h1M183 57.5h1M180 51.5h1M172 76.5h1M176 66.5h1M170 81.5h1M181 53.5h1M185 40.5h1M180 62.5h1M176 69.5h1M172 79.5h1M183 50.5h1M181 61.5h1M181 61.5h1M185 42.5h1M181 50.5h1M173 74.5h1M171 75.5h1M175 70.5h1M184 45.5h1M187 43.5h1M178 65.5h1M184 49.5h1M182 61.5h1M173 65.5h1M176 64.5h1M178 62.5h1M179 60.5h1M173 73.5h1M176 74.5h1M180 62.5h1M181 56.5h1M183 52.5h1M171 79.5h1M182 57.5h1M179 54.5h1M173 63.5h1M172 81.5h1M184 48.5h1M176 64.5h1M176 56.5h1M182 44.5h1M173 76.5h1M171 66.5h1M186 44.5h1M179 67.5h1M182 49.5h1M182 57.5h1M181 51.5h1M175 62.5h1M180 61.5h1M182 53.5h1M175 63.5h1M176 58.5h1M180 51.5h1M182 59.5h1M176 65.5h1M175 81.5h1M173 74.5h1M176 73.5h1M181 57.5h1M176 66.5h1M185 45.5h1M180 50.5h1M179 58.5h1M172 72.5h1M175 54.5h1M184 46.5h1M171 80.5h1M174 67.5h1M184 49.5h1M176 67.5h1M174 75.5h1M183 59.5h1M179 62.5h1M176 71.5h1M183 43.5h1M174 77.5h1M176 73.5h1M172 75.5h1M178 66.5h1M181 57.5h1M174 72.5h1M173 77.5h1M188 44.5h1M172 78.5h1M173 76.5h1M185 42.5h1M174 75.5h1M175 59.5h1M178 66.5h1M185 47.5h1M176 75.5h1M175 66.5h1M183 42.5h1M184 49.5h1M176 61.5h1M176 68.5h1M182 49.5h1M172 81.5h1M172 76.5h1M174 78.5h1M180 51.5h1M187 50.5h1M183 53.5h1M177 60.5h1M176 62.5h1M180 55.5h1M182 48.5h1M175 65.5h1M179 67.5h1M186 43.5h1M174 66.5h1M179 63.5h1M173 77.5h1M174 78.5h1M175 65.5h1M183 62.5h1M181 54.5h1M185 55.5h1M177 61.5h1M177 74.5h1M177 66.5h1M175 80.5h1M178 61.5h1M173 71.5h1M183 43.5h1M180 53.5h1M179 65.5h1M184 47.5h1M177 65.5h1M174 79.5h1M177 75.5h1M173 70.5h1M176 73.5h1M187 49.5h1M175 68.5h1M181 50.5h1M184 48.5h1M173 77.5h1M175 68.5h1M173 77.5h1M180 67.5h1M181 60.5h1M172 77.5h1M174 62.5h1M173 69.5h1M172 80.5h1M178 58.5h1M172 77.5h1M184 50.5h1M175 68.5h1M182 47.5h1M174 75.5h1M177 73.5h1M183 49.5h1M180 61.5h1M178 62.5h1M181 63.5h1M171 79.5h1M174 67.5h1M181 50.5h1M175 80.5h1M182 62.5h1M184 41.5h1M179 56.5h1M179 62.5h1M181 55.5h1M177 70.5h1M174 70.5h1M172 72.5h1M182 55.5h1M179 68.5h1M181 45.5h1M174 60.5h1M176 66.5h1M177 52.5h1M184 47.5h1M176 59.5h1M181 58.5h1M182 49.5h1M185 44.5h1M177 69.5h1M186 37.5h1M174 68.5h1M178 70.5h1M175 61.5h1M176 74.5h1M173 74.5h1M182 47.5h1M184 49.5h1M177 69.5h1M182 55.5h1M174 65.5h1M183 42.5h1M179 61.5h1M180 60.5h1M171 82.5h1M180 65.5h1M178 61.5h1M183 53.5h1M175 76.5h1M178 64.5h1M181 53.5h1M177 71.5h1M173 80.5h1M186 42.5h1M182 47.5h1M177 69.5h1M185 54.5h1M176 67.5h1M183 50.5h1M173 75.5h1M181 59.5h1M176 54.5h1M187 44.5h1M178 65.5h1M177 63.5h1M178 64.5h1M181 63.5h1M183 51.5h1M184 48.5h1M177 73.5h1M185 44.5h1M182 55.5h1M183 58.5h1M178 66.5h1M178 59.5h1M182 57.5h1M178 73.5h1M176 67.5h1M179 63.5h1M180 60.5h1M176 72.5h1M174 73.5h1M181 53.5h1M186 51.5h1M183 52.5h1M180 54.5h1M185 48.5h1M183 49.5h1M181 64.5h1M173 66.5h1M178 63.5h1M182 57.5h1M178 55.5h1M173 74.5h1M185 46.5h1M176 69.5h1M176 66.5h1M172 80.5h1M179 52.5h1M177 60.5h1M183 59.5h1M183 43.5h1M183 51.5h1M183 46.5h1M175 75.5h1M185 45.5h1M183 52.5h1M180 64.5h1M177 67.5h1M172 70.5h1M179 55.5h1M183 59.5h1M178 69.5h1M181 51.5h1M173 67.5h1M177 60.5h1M177 75.5h1M179 67.5h1M174 80.5h1M173 66.5h1M174 65.5h1M183 45.5h1M171 76.5h1M180 58.5h1M177 59.5h1M184 49.5h1M180 54.5h1M178 58.5h1M181 59.5h1M178 64.5h1M173 78.5h1M174 72.5h1M173 78.5h1M179 48.5h1M174 61.5h1M177 62.5h1M181 56.5h1M188 43.5h1M180 60.5h1M173 73.5h1M180 54.5h1M181 48.5h1M181 53.5h1M174 74.5h1M181 54.5h1M182 52.5h1M178 70.5h1M182 57.5h1M177 58.5h1M176 74.5h1M173 71.5h1M182 54.5h1M178 65.5h1M183 58.5h1M176 67.5h1M180 57.5h1M176 66.5h1M174 79.5h1M180 59.5h1M186 38.5h1M181 61.5h1M188 44.5h1M184 57.5h1M182 62.5h1M183 44.5h1M185 43.5h1M181 55.5h1M174 63.5h1M187 45.5h1M175 61.5h1M182 53.5h1M174 65.5h1M179 60.5h1M174 79.5h1M178 66.5h1M178 56.5h1M179 55.5h1M175 76.5h1M180 56.5h1M181 54.5h1M179 66.5h1M174 58.5h1M181 55.5h1M183 58.5h1M186 49.5h1M182 56.5h1M182 48.5h1M184 50.5h1M181 66.5h1M172 77.5h1M173 73.5h1M179 58.5h1M174 72.5h1M174 61.5h1M170 74.5h1M174 67.5h1M172 78.5h1M179 63.5h1M178 58.5h1M175 73.5h1M176 76.5h1M189 50.5h1M178 70.5h1M176 62.5h1M183 54.5h1M177 66.5h1M175 74.5h1M184 51.5h1M177 69.5h1M183 43.5h1M175 65.5h1M173 79.5h1M182 55.5h1M186 54.5h1M179 65.5h1M182 49.5h1M173 75.5h1M177 62.5h1M177 56.5h1M174 66.5h1M180 53.5h1M182 51.5h1M176 63.5h1M174 75.5h1M184 44.5h1M184 45.5h1M178 60.5h1M183 49.5h1M180 57.5h1M171 67.5h1M175 73.5h1M174 75.5h1M183 43.5h1M176 70.5h1M172 78.5h1M182 53.5h1M180 50.5h1M173 80.5h1M178 64.5h1M171 74.5h1M174 70.5h1M173 81.5h1M183 50.5h1M177 67.5h1M181 46.5h1M174 72.5h1M177 67.5h1M180 58.5h1M179 61.5h1M181 50.5h1M174 72.5h1M179 56.5h1M181 48.5h1M181 46.5h1M180 50.5h1M176 59.5h1M180 59.5h1M184 49.5h1M173 81.5h1M181 48.5h1M180 51.5h1M185 44.5h1M177 63.5h1M179 59.5h1M185 40.5h1M179 50.5h1M186 48.5h1M180 49.5h1M175 59.5h1M176 72.5h1M177 57.5h1M183 53.5h1M175 73.5h1M173 78.5h1M173 76.5h1M177 56.5h1M180 50.5h1M176 69.5h1M181 53.5h1M171 77.5h1M182 45.5h1M175 67.5h1M177 64.5h1M181 56.5h1M185 49.5h1M175 70.5h1M180 67.5h1M174 78.5h1M176 74.5h1M173 72.5h1M184 49.5h1M180 63.5h1M179 48.5h1M185 48.5h1M177 67.5h1M186 45.5h1M176 68.5h1M183 56.5h1M179 57.5h1M180 53.5h1M185 46.5h1M179 65.5h1M171 78.5h1M183 56.5h1M178 69.5h1M181 62.5h1M177 61.5h1M179 68.5h1M176 72.5h1M184 50.5h1M183 46.5h1M178 60.5h1M184 41.5h1M176 64.5h1M186 43.5h1M173 74.5h1M180 53.5h1M181 56.5h1M176 68.5h1M172 66.5h1M180 51.5h1M175 68.5h1M173 83.5h1M179 65.5h1M175 65.5h1M177 58.5h1M173 74.5h1M180 59.5h1M174 70.5h1M184 49.5h1M177 57.5h1M178 66.5h1M184 54.5h1M169 78.5h1M183 47.5h1M182 54.5h1M177 69.5h1M176 70.5h1M185 42.5h1M175 72.5h1M184 44.5h1M174 75.5h1M172 84.5h1M184 51.5h1M173 80.5h1M173 73.5h1M181 51.5h1M179 67.5h1M175 65.5h1M183 53.5h1M173 70.5h1M184 59.5h1M174 80.5h1M183 45.5h1M182 48.5h1M173 62.5h1M182 49.5h1M186 44.5h1M179 63.5h1M185 42.5h1M179 70.5h1M181 57.5h1M185 45.5h1M172 79.5h1M174 76.5h1M188 49.5h1M186 42.5h1M178 50.5h1M183 48.5h1M186 48.5h1M176 75.5h1M181 49.5h1M177 68.5h1M174 64.5h1M185 45.5h1M181 48.5h1M181 50.5h1M182 46.5h1M177 60.5h1M178 72.5h1M180 67.5h1M180 53.5h1M174 75.5h1M185 55.5h1M181 53.5h1M171 81.5h1M175 66.5h1M175 77.5h1M179 62.5h1M177 65.5h1M180 54.5h1M173 72.5h1M186 42.5h1M175 67.5h1M175 70.5h1M176 56.5h1M179 52.5h1M182 48.5h1M172 79.5h1M174 65.5h1M177 62.5h1M172 79.5h1M172 63.5h1M177 68.5h1M180 55.5h1M171 75.5h1M178 61.5h1M175 73.5h1M176 69.5h1M182 51.5h1M182 52.5h1M181 58.5h1M177 57.5h1M183 45.5h1M178 66.5h1M172 79.5h1M180 51.5h1M179 57.5h1M176 63.5h1M177 65.5h1M176 57.5h1M174 62.5h1M182 43.5h1M184 45.5h1M179 73.5h1M185 48.5h1M182 59.5h1M179 60.5h1M185 53.5h1M174 75.5h1M183 49.5h1M184 53.5h1M178 53.5h1M181 43.5h1M171 76.5h1M181 63.5h1M179 66.5h1M181 55.5h1M181 51.5h1M177 65.5h1M184 47.5h1M175 65.5h1M185 47.5h1M175 63.5h1M185 49.5h1M174 73.5h1M175 64.5h1M175 70.5h1M178 55.5h1M176 66.5h1M173 66.5h1M183 45.5h1M177 65.5h1M176 71.5h1M175 67.5h1M185 49.5h1M170 77.5h1M173 76.5h1M175 70.5h1M173 77.5h1M183 47.5h1M175 76.5h1M180 58.5h1M175 67.5h1M186 54.5h1M183 47.5h1M184 44.5h1M183 54.5h1M180 53.5h1M179 57.5h1M177 71.5h1M178 54.5h1M179 55.5h1M182 58.5h1M183 62.5h1M174 74.5h1M179 58.5h1M175 76.5h1M175 62.5h1M179 55.5h1M175 66.5h1M173 63.5h1M178 46.5h1M175 68.5h1M184 51.5h1M180 60.5h1M182 61.5h1M170 70.5h1M174 72.5h1M182 60.5h1M179 54.5h1M175 64.5h1M184 46.5h1M176 67.5h1M180 61.5h1M175 70.5h1M185 51.5h1M186 42.5h1M179 62.5h1M178 60.5h1M185 45.5h1M181 49.5h1M181 59.5h1M181 61.5h1M179 66.5h1M176 61.5h1M178 64.5h1M179 63.5h1M178 68.5h1M171 76.5h1M180 52.5h1M180 57.5h1M182 60.5h1M175 68.5h1M176 74.5h1M184 46.5h1M177 75.5h1M182 54.5h1M172 70.5h1M181 51.5h1M177 68.5h1M187 41.5h1M176 72.5h1M179 58.5h1M179 52.5h1M176 69.5h1M186 40.5h1M185 49.5h1M179 66.5h1M182 43.5h1M177 49.5h1M173 74.5h1M184 45.5h1M171 78.5h1M172 78.5h1M183 57.5h1M185 47.5h1M174 63.5h1M172 82.5h1M178 63.5h1M177 64.5h1M178 67.5h1M176 72.5h1M177 57.5h1M183 46.5h1M179 56.5h1M178 55.5h1M176 74.5h1M179 76.5h1M179 63.5h1M175 69.5h1M183 42.5h1M176 53.5h1M174 78.5h1M183 53.5h1M173 68.5h1M183 50.5h1M176 58.5h1M186 55.5h1M178 63.5h1M172 81.5h1M188 48.5h1M168 70.5h1M182 56.5h1M176 70.5h1M176 65.5h1M179 60.5h1M182 66.5h1M174 66.5h1M175 63.5h1M182 69.5h1M183 61.5h1M173 79.5h1M175 78.5h1M178 63.5h1M177 62.5h1M176 68.5h1M174 76.5h1M175 65.5h1M172 64.5h1M173 77.5h1M175 75.5h1M173 76.5h1M179 67.5h1M182 54.5h1M180 66.5h1M178 65.5h1M182 50.5h1M177 71.5h1M180 67.5h1M182 46.5h1M170 79.5h1M187 49.5h1M176 61.5h1M180 62.5h1M173 74.5h1M183 50.5h1M175 80.5h1M181 72.5h1M170 73.5h1M170 71.5h1M166 59.5h1M183 54.5h1" stroke="#000" stroke-width="1" fill="none" opacity="1.0"/>
<path d="M236 65.5h1M229 79.5h1M228 69.5h1M233 74.5h1M230 84.5h1M226 83.5h1M230 79.5h1M236 74.5h1M230 86.5h1M231 74.5h1M235 64.5h1M229 71.5h1M234 63.5h1M235 63.5h1M227 78.5h1M230 81.5h1M233 82.5h1M236 76.5h1M223 66.5h1M225 82.5h1M237 71.5h1M233 77.5h1M230 86.5h1M225 76.5h1M231 77.5h1M238 57.5h1M234 75.5h1M233 58.5h1M228 79.5h1M231 81.5h1M229 87.5h1M239 70.5h1M222 80.5h1M234 57.5h1M240 62.5h1M231 58.5h1M236 58.5h1M240 67.5h1M226 88.5h1M235 69.5h1M242 70.5h1M225 76.5h1M224 64.5h1M239 65.5h1M229 76.5h1M237 51.5h1M236 58.5h1M236 79.5h1M230 73.5h1M236 78.5h1M235 76.5h1M231 75.5h1M239 57.5h1M234 72.5h1M229 83.5h1M240 87.5h1M222 70.5h1M230 59.5h1M226 85.5h1M228 81.5h1M236 60.5h1M233 62.5h1M243 75.5h1M228 81.5h1M227 70.5h1M230 82.5h1M228 79.5h1M234 57.5h1M236 74.5h1M230 86.5h1M238 72.5h1M226 77.5h1M232 81.5h1M231 79.5h1M227 83.5h1M225 66.5h1M228 87.5h1M226 73.5h1M238 58.5h1M232 80.5h1M232 82.5h1M246 72.5h1M237 76.5h1M222 70.5h1M234 77.5h1M231 80.5h1M233 74.5h1M229 74.5h1M237 70.5h1M218 76.5h1M229 59.5h1M237 61.5h1M231 80.5h1M236 74.5h1M234 58.5h1M230 70.5h1M237 67.5h1M230 83.5h1M224 69.5h1M237 70.5h1M230 61.5h1M239 57.5h1M230 82.5h1M231 86.5h1M233 86.5h1M231 57.5h1M237 62.5h1M235 59.5h1M232 68.5h1M230 81.5h1M231 64.5h1M234 65.5h1M237 56.5h1M229 72.5h1M240 54.5h1M234 67.5h1M232 56.5h1M233 78.5h1M237 60.5h1M224 83.5h1M232 78.5h1M229 75.5h1M234 71.5h1M231 74.5h1M235 68.5h1M230 83.5h1M225 60.5h1M230 80.5h1M232 82.5h1M237 66.5h1M238 75.5h1M238 52.5h1M238 75.5h1M237 68.5h1M229 74.5h1M227 81.5h1M239 70.5h1M238 55.5h1M224 68.5h1M226 78.5h1M240 54.5h1M235 64.5h1M223 79.5h1M234 74.5h1M234 81.5h1M236 71.5h1M232 70.5h1M233 62.5h1M230 69.5h1M229 73.5h1M235 64.5h1M242 80.5h1M246 65.5h1M229 82.5h1M226 67.5h1M234 62.5h1M229 77.5h1M229 79.5h1M228 59.5h1M233 65.5h1M230 68.5h1M230 80.5h1M224 72.5h1M229 86.5h1M229 62.5h1M227 79.5h1M233 58.5h1M229 75.5h1M230 68.5h1M229 74.5h1M235 54.5h1M234 55.5h1M227 84.5h1M231 68.5h1M239 82.5h1M235 77.5h1M227 87.5h1M226 67.5h1M235 81.5h1M233 67.5h1M238 51.5h1M236 78.5h1M223 70.5h1M227 83.5h1M235 63.5h1M241 62.5h1M232 69.5h1M230 82.5h1M232 69.5h1M231 75.5h1M230 84.5h1M233 58.5h1M236 49.5h1M230 75.5h1M237 63.5h1M239 67.5h1M229 86.5h1M233 63.5h1M237 75.5h1M234 73.5h1M238 64.5h1M229 83.5h1M231 69.5h1M233 79.5h1M233 64.5h1M232 87.5h1M230 63.5h1M237 58.5h1M232 73.5h1M227 71.5h1M228 85.5h1M227 70.5h1M227 86.5h1M233 62.5h1M245 73.5h1M227 70.5h1M234 75.5h1M230 71.5h1M235 68.5h1M234 56.5h1M228 73.5h1M240 68.5h1M239 65.5h1M223 81.5h1M234 60.5h1M230 74.5h1M225 69.5h1M233 72.5h1M233 77.5h1M230 81.5h1M231 84.5h1M241 71.5h1M227 86.5h1M238 74.5h1M243 71.5h1M226 54.5h1M233 64.5h1M235 82.5h1M237 58.5h1M229 71.5h1M237 79.5h1M238 65.5h1M225 67.5h1M234 79.5h1M230 80.5h1M233 73.5h1M228 65.5h1M233 78.5h1M236 58.5h1M227 72.5h1M232 67.5h1M236 83.5h1M240 72.5h1M224 81.5h1M236 65.5h1M229 77.5h1M231 65.5h1M235 64.5h1M241 54.5h1M236 69.5h1M226 83.5h1M232 72.5h1M235 67.5h1M233 86.5h1M230 79.5h1M233 69.5h1M236 58.5h1M237 64.5h1M225 63.5h1M240 64.5h1M231 81.5h1M235 60.5h1M227 70.5h1M235 65.5h1M243 67.5h1M228 78.5h1M232 52.5h1M237 58.5h1M228 90.5h1M234 65.5h1M224 75.5h1M234 71.5h1M232 84.5h1M214 61.5h1M231 81.5h1M231 89.5h1M231 58.5h1M226 58.5h1M236 56.5h1M235 87.5h1M231 83.5h1M244 66.5h1M233 75.5h1M230 77.5h1M230 64.5h1M239 73.5h1M225 77.5h1M228 79.5h1M232 63.5h1M230 85.5h1M230 81.5h1M224 82.5h1M227 70.5h1M242 67.5h1M235 61.5h1M233 70.5h1M231 68.5h1M234 68.5h1M230 64.5h1M234 85.5h1M236 73.5h1M231 77.5h1M236 74.5h1M232 68.5h1M229 79.5h1M234 81.5h1M233 67.5h1M227 78.5h1M242 65.5h1M234 61.5h1M235 71.5h1M241 64.5h1M226 73.5h1M229 81.5h1M238 64.5h1M236 51.5h1M232 63.5h1M230 77.5h1M237 49.5h1M235 54.5h1M233 76.5h1M236 55.5h1M240 74.5h1M237 54.5h1M237 83.5h1M235 61.5h1M242 61.5h1M232 68.5h1M236 79.5h1M229 86.5h1M236 84.5h1M229 68.5h1M227 89.5h1M234 73.5h1M226 79.5h1M237 81.5h1M237 51.5h1M235 72.5h1M232 87.5h1M231 87.5h1M227 83.5h1M225 73.5h1M226 62.5h1M226 86.5h1M231 63.5h1M228 72.5h1M232 81.5h1M226 71.5h1M225 69.5h1M234 68.5h1M242 65.5h1M226 87.5h1M231 73.5h1M231 76.5h1M236 78.5h1M237 71.5h1M230 74.5h1M232 85.5h1M232 76.5h1M230 89.5h1M236 85.5h1M221 77.5h1M225 73.5h1M227 65.5h1M227 68.5h1M230 83.5h1M233 70.5h1M241 70.5h1M234 85.5h1M235 64.5h1M229 81.5h1M233 81.5h1M229 88.5h1M228 83.5h1M237 63.5h1M230 71.5h1M231 76.5h1M232 70.5h1M227 82.5h1M228 76.5h1M230 81.5h1M235 57.5h1M233 52.5h1M242 56.5h1M242 65.5h1M240 73.5h1M240 60.5h1M235 58.5h1M230 61.5h1M228 67.5h1M223 79.5h1M232 66.5h1M223 76.5h1M231 80.5h1M233 72.5h1M227 84.5h1M229 73.5h1M230 81.5h1M236 66.5h1M227 89.5h1M241 68.5h1M226 89.5h1M230 66.5h1M228 83.5h1M230 78.5h1M233 73.5h1M238 53.5h1M232 67.5h1M239 76.5h1M223 75.5h1M233 72.5h1M234 62.5h1M225 85.5h1M224 86.5h1M231 79.5h1M238 70.5h1M229 89.5h1M232 71.5h1M232 65.5h1M231 65.5h1M229 78.5h1M230 87.5h1M235 80.5h1M232 81.5h1M228 75.5h1M238 55.5h1M235 79.5h1M227 58.5h1M233 74.5h1M228 78.5h1M238 49.5h1M226 70.5h1M229 62.5h1M233 66.5h1M234 55.5h1M229 71.5h1M229 66.5h1M232 79.5h1M239 66.5h1M236 47.5h1M235 65.5h1M235 54.5h1M231 79.5h1M235 80.5h1M230 83.5h1M234 60.5h1M227 70.5h1M239 57.5h1M240 72.5h1M224 64.5h1M238 55.5h1M231 72.5h1M228 63.5h1M239 77.5h1M235 71.5h1M235 87.5h1M229 66.5h1M228 80.5h1M223 80.5h1M235 60.5h1M224 70.5h1M231 67.5h1M236 77.5h1M232 82.5h1M234 81.5h1M233 70.5h1M234 77.5h1M229 80.5h1M225 79.5h1M234 73.5h1M230 81.5h1M226 89.5h1M226 84.5h1M239 67.5h1M224 80.5h1M228 72.5h1M232 78.5h1M231 84.5h1M233 70.5h1M224 75.5h1M232 86.5h1M233 66.5h1M224 75.5h1M234 83.5h1M228 89.5h1M223 84.5h1M219 73.5h1M232 68.5h1M227 81.5h1M236 58.5h1M231 77.5h1M234 54.5h1M236 60.5h1M235 61.5h1M226 81.5h1M232 84.5h1M233 69.5h1M236 53.5h1M235 65.5h1M230 63.5h1M228 69.5h1M234 62.5h1M227 72.5h1M239 74.5h1M236 56.5h1M236 69.5h1M242 69.5h1M240 60.5h1M237 85.5h1M229 67.5h1M241 55.5h1M229 74.5h1M231 70.5h1M235 65.5h1M236 56.5h1M235 58.5h1M236 59.5h1M241 63.5h1M231 48.5h1M224 81.5h1M225 84.5h1M235 63.5h1M233 69.5h1M233 75.5h1M242 67.5h1M231 78.5h1M225 82.5h1M238 54.5h1M239 80.5h1M242 73.5h1M233 65.5h1M229 88.5h1M231 81.5h1M234 77.5h1M228 88.5h1M228 80.5h1M240 54.5h1M240 70.5h1M229 83.5h1M230 69.5h1M234 53.5h1M226 75.5h1M226 69.5h1M229 80.5h1M229 69.5h1M236 58.5h1M233 58.5h1M227 78.5h1M228 85.5h1M223 62.5h1M233 74.5h1M231 72.5h1M238 73.5h1M235 53.5h1M230 75.5h1M229 65.5h1M237 84.5h1M233 73.5h1M236 78.5h1M232 65.5h1M235 73.5h1M231 57.5h1M231 64.5h1M234 60.5h1M227 76.5h1M237 63.5h1M239 54.5h1M232 86.5h1M226 88.5h1M228 80.5h1M230 79.5h1M236 66.5h1M225 80.5h1M232 67.5h1M234 81.5h1M232 75.5h1M232 69.5h1M225 82.5h1M230 71.5h1M235 72.5h1M234 82.5h1M226 63.5h1M232 80.5h1M227 88.5h1M231 60.5h1M242 54.5h1M236 67.5h1M226 86.5h1M225 84.5h1M229 87.5h1M226 67.5h1M228 83.5h1M230 87.5h1M225 78.5h1M232 73.5h1M235 67.5h1M232 57.5h1M233 76.5h1M234 74.5h1M233 75.5h1M229 71.5h1M238 61.5h1M230 74.5h1M235 63.5h1M231 78.5h1M231 76.5h1M222 71.5h1M239 60.5h1M234 74.5h1M233 70.5h1M234 74.5h1M233 60.5h1M229 80.5h1M232 79.5h1M222 67.5h1M229 69.5h1M228 75.5h1M228 81.5h1M228 76.5h1M226 80.5h1M231 78.5h1M238 53.5h1M231 82.5h1M230 91.5h1M231 83.5h1M239 73.5h1M241 61.5h1M229 73.5h1M227 76.5h1M235 52.5h1M232 63.5h1M231 85.5h1M235 71.5h1M234 66.5h1M233 55.5h1M229 73.5h1M231 72.5h1M229 87.5h1M217 70.5h1M236 59.5h1M230 85.5h1M229 69.5h1M236 82.5h1M233 79.5h1M234 78.5h1M223 85.5h1M236 72.5h1M230 82.5h1M233 71.5h1M220 75.5h1M224 73.5h1M232 64.5h1M225 82.5h1M234 84.5h1M227 70.5h1M237 64.5h1M237 55.5h1M238 86.5h1M230 80.5h1M237 80.5h1M229 74.5h1M225 80.5h1M232 79.5h1M240 58.5h1M228 79.5h1M235 79.5h1M234 74.5h1M233 66.5h1M233 73.5h1M230 82.5h1M229 73.5h1M229 87.5h1M237 55.5h1M230 66.5h1M223 58.5h1M237 61.5h1M227 85.5h1M237 59.5h1M227 72.5h1M230 86.5h1M232 67.5h1M229 77.5h1M231 74.5h1M235 66.5h1M224 65.5h1M239 69.5h1M235 77.5h1M234 68.5h1M224 73.5h1M235 75.5h1M235 57.5h1M241 64.5h1M230 68.5h1M229 79.5h1M238 66.5h1M222 68.5h1M229 74.5h1M233 65.5h1M221 80.5h1M228 67.5h1M235 63.5h1M231 82.5h1M236 82.5h1M238 62.5h1M231 55.5h1M234 79.5h1M235 69.5h1M235 60.5h1M225 77.5h1M242 65.5h1M242 60.5h1M229 89.5h1M228 70.5h1M231 56.5h1M231 59.5h1M230 89.5h1M225 65.5h1M239 64.5h1M231 72.5h1M234 68.5h1M235 75.5h1M243 74.5h1M233 82.5h1M229 82.5h1M237 55.5h1M234 64.5h1M231 78.5h1M231 77.5h1M226 81.5h1M235 63.5h1M227 65.5h1M238 69.5h1M236 49.5h1M229 62.5h1M231 86.5h1M238 60.5h1M233 70.5h1M224 74.5h1M225 76.5h1M233 76.5h1M238 84.5h1M231 81.5h1M231 82.5h1M238 55.5h1M229 66.5h1M238 68.5h1M227 86.5h1M235 60.5h1M226 79.5h1M225 75.5h1M229 69.5h1M229 63.5h1M234 57.5h1M234 86.5h1M237 53.5h1M227 84.5h1M237 55.5h1M228 75.5h1M240 63.5h1M232 85.5h1M232 65.5h1M230 78.5h1M229 84.5h1M225 88.5h1M228 66.5h1M232 67.5h1M227 76.5h1M235 59.5h1M232 85.5h1M229 82.5h1M232 81.5h1M241 70.5h1M228 79.5h1M240 70.5h1M226 83.5h1M231 57.5h1M231 78.5h1M234 59.5h1M224 77.5h1M236 79.5h1M237 67.5h1M226 81.5h1M230 77.5h1M231 76.5h1M225 86.5h1M230 84.5h1M229 60.5h1M232 51.5h1M233 88.5h1M228 78.5h1M230 64.5h1M230 76.5h1M227 84.5h1M243 69.5h1M237 60.5h1M236 71.5h1M231 87.5h1M242 76.5h1M222 85.5h1M237 67.5h1M230 82.5h1M229 85.5h1M233 84.5h1M234 74.5h1M223 76.5h1M229 87.5h1M235 56.5h1M233 85.5h1M222 87.5h1M236 69.5h1M231 81.5h1M233 80.5h1M236 60.5h1M224 63.5h1M236 68.5h1M231 76.5h1M230 65.5h1M236 75.5h1M230 80.5h1M241 68.5h1M236 78.5h1M226 76.5h1M236 71.5h1M234 65.5h1M235 59.5h1M230 77.5h1M238 68.5h1M230 63.5h1M236 65.5h1M227 62.5h1M234 70.5h1M225 76.5h1M230 58.5h1M232 70.5h1M226 80.5h1M236 77.5h1M232 55.5h1M237 82.5h1M235 75.5h1M231 76.5h1M231 86.5h1M234 67.5h1M236 87.5h1M235 68.5h1M228 77.5h1M230 84.5h1M230 74.5h1M234 63.5h1M229 72.5h1M231 65.5h1M237 67.5h1M235 58.5h1M236 71.5h1M232 65.5h1M233 64.5h1M232 63.5h1M240 66.5h1M237 82.5h1M233 66.5h1M233 83.5h1M225 84.5h1M226 70.5h1M231 86.5h1M226 61.5h1M237 87.5h1M237 74.5h1M236 84.5h1M234 62.5h1M231 54.5h1M229 67.5h1M226 84.5h1M233 82.5h1M226 74.5h1M227 80.5h1M241 61.5h1M231 55.5h1M228 76.5h1M236 80.5h1M245 61.5h1M233 49.5h1M220 72.5h1M233 57.5h1M233 71.5h1M232 73.5h1M227 82.5h1M225 73.5h1M237 68.5h1M229 72.5h1M227 85.5h1M230 82.5h1M241 58.5h1M235 64.5h1M241 81.5h1M235 55.5h1M236 67.5h1M221 73.5h1M234 55.5h1M235 57.5h1M228 77.5h1M227 85.5h1M227 85.5h1M228 66.5h1M228 81.5h1M236 58.5h1M236 64.5h1M226 77.5h1M231 73.5h1M227 76.5h1M240 48.5h1M235 87.5h1M236 60.5h1M238 53.5h1M228 84.5h1M232 82.5h1M229 81.5h1M225 76.5h1M235 83.5h1M244 59.5h1M232 84.5h1M231 76.5h1M237 58.5h1M242 57.5h1M227 85.5h1M231 87.5h1M231 79.5h1M224 62.5h1M228 86.5h1M236 66.5h1M232 80.5h1M231 74.5h1M228 64.5h1M234 69.5h1M234 68.5h1M234 76.5h1M242 62.5h1M234 67.5h1M236 77.5h1M231 84.5h1M244 79.5h1M231 84.5h1M246 69.5h1M227 76.5h1M225 81.5h1M237 60.5h1M235 57.5h1M236 82.5h1M238 60.5h1M234 80.5h1M227 77.5h1M235 61.5h1M237 71.5h1M230 68.5h1M233 69.5h1M239 70.5h1M235 58.5h1M229 87.5h1M238 73.5h1M237 64.5h1M231 53.5h1M235 65.5h1M234 67.5h1M236 64.5h1M244 74.5h1M236 80.5h1M229 89.5h1M230 68.5h1M237 70.5h1M230 86.5h1M239 75.5h1M234 71.5h1M232 88.5h1M231 62.5h1M231 74.5h1M234 65.5h1M227 85.5h1M234 75.5h1M229 78.5h1M233 60.5h1M229 71.5h1M230 80.5h1M224 85.5h1M232 85.5h1M234 75.5h1M233 82.5h1M240 59.5h1M233 76.5h1M233 62.5h1M234 85.5h1M229 78.5h1M230 86.5h1M226 83.5h1M233 81.5h1M232 69.5h1M232 72.5h1M234 79.5h1M228 73.5h1M237 74.5h1M229 79.5h1M233 76.5h1M238 74.5h1M228 70.5h1M231 88.5h1M229 70.5h1M230 75.5h1M231 83.5h1M229 77.5h1M230 72.5h1M233 71.5h1M224 83.5h1M227 81.5h1M228 67.5h1M224 70.5h1M231 80.5h1M228 85.5h1M226 74.5h1M224 82.5h1M226 69.5h1M231 69.5h1M225 71.5h1M233 80.5h1M232 78.5h1M231 81.5h1M223 68.5h1M227 86.5h1M234 75.5h1M228 91.5h1M227 78.5h1M227 68.5h1M231 77.5h1M222 73.5h1M234 85.5h1M231 78.5h1M226 83.5h1M232 73.5h1M219 73.5h1M225 78.5h1M231 78.5h1M236 72.5h1M225 80.5h1M224 83.5h1M229 75.5h1M230 75.5h1M227 75.5h1M226 80.5h1M236 76.5h1M226 79.5h1M223 83.5h1M228 76.5h1M235 76.5h1M232 76.5h1M229 85.5h1M224 76.5h1M229 77.5h1M241 76.5h1M232 82.5h1M234 79.5h1M223 71.5h1M228 82.5h1M227 79.5h1M237 83.5h1M228 80.5h1M229 77.5h1M228 72.5h1M218 82.5h1M234 83.5h1M222 73.5h1M227 77.5h1M223 79.5h1M227 76.5h1M228 79.5h1M228 75.5h1M235 74.5h1M225 83.5h1M228 68.5h1M232 80.5h1M228 73.5h1M227 77.5h1M237 74.5h1M233 78.5h1M226 74.5h1M231 78.5h1M226 70.5h1M231 72.5h1M224 76.5h1M233 80.5h1M231 73.5h1M231 87.5h1M230 75.5h1M230 81.5h1M226 68.5h1M230 72.5h1M232 72.5h1M231 71.5h1M226 69.5h1M232 75.5h1M225 73.5h1M227 85.5h1M226 77.5h1M227 78.5h1M229 66.5h1M232 85.5h1M234 85.5h1M231 71.5h1M227 72.5h1M233 73.5h1M234 84.5h1M226 70.5h1M225 72.5h1M229 69.5h1M237 78.5h1M228 81.5h1M229 72.5h1M232 83.5h1M225 78.5h1M225 73.5h1M229 80.5h1M233 83.5h1M228 83.5h1M227 80.5h1M223 84.5h1M236 77.5h1M224 79.5h1M235 86.5h1M227 76.5h1M234 73.5h1M236 71.5h1M226 74.5h1M232 67.5h1M232 72.5h1M235 71.5h1M228 76.5h1M234 70.5h1M230 76.5h1M225 77.5h1M234 81.5h1M235 82.5h1M229 85.5h1M229 76.5h1M233 70.5h1M236 81.5h1M225 79.5h1M234 75.5h1M238 81.5h1M226 87.5h1M232 79.5h1M230 75.5h1M231 78.5h1M235 72.5h1M223 87.5h1M227 71.5h1M224 72.5h1M228 82.5h1M237 76.5h1M225 71.5h1M228 82.5h1M227 83.5h1M231 69.5h1M228 80.5h1M226 82.5h1M226 87.5h1M229 80.5h1M225 81.5h1M220 78.5h1M234 81.5h1M230 86.5h1M227 81.5h1M229 74.5h1M232 77.5h1M226 87.5h1M230 71.5h1M227 74.5h1M234 74.5h1M220 84.5h1M224 73.5h1M235 75.5h1M225 77.5h1M226 80.5h1M225 80.5h1M220 71.5h1M229 71.5h1M232 70.5h1M231 83.5h1M225 76.5h1M227 78.5h1M236 77.5h1M229 70.5h1M226 69.5h1M233 71.5h1M228 87.5h1M222 75.5h1M226 80.5h1M233 72.5h1M229 90.5h1M229 78.5h1M232 69.5h1M226 75.5h1M223 79.5h1M229 82.5h1M227 75.5h1M229 80.5h1M227 79.5h1M226 78.5h1M224 75.5h1M231 79.5h1M237 83.5h1M224 77.5h1M234 75.5h1M232 91.5h1M227 81.5h1M225 80.5h1M232 70.5h1M228 83.5h1M228 69.5h1M228 83.5h1M237 79.5h1M223 75.5h1M231 74.5h1M237 78.5h1M230 75.5h1M238 68.5h1M230 82.5h1M230 69.5h1M233 76.5h1M227 75.5h1M230 85.5h1M232 69.5h1M227 82.5h1M231 79.5h1M234 62.5h1M225 70.5h1M229 74.5h1M231 72.5h1M227 78.5h1M234 80.5h1M235 82.5h1M227 73.5h1M231 80.5h1M227 76.5h1M229 80.5h1M231 77.5h1M229 77.5h1M230 75.5h1M228 80.5h1M234 78.5h1M233 72.5h1M227 66.5h1M232 82.5h1M240 81.5h1M228 77.5h1M235 83.5h1M240 77.5h1M229 76.5h1M233 75.5h1M221 84.5h1M235 86.5h1M232 76.5h1M233 74.5h1M230 82.5h1M234 82.5h1M234 80.5h1M233 70.5h1M229 79.5h1M229 78.5h1M230 76.5h1M229 79.5h1M226 76.5h1M225 79.5h1M229 77.5h1M226 76.5h1M228 86.5h1M225 77.5h1M224 80.5h1M228 82.5h1M229 72.5h1M238 76.5h1M229 73.5h1M234 76.5h1M232 71.5h1M231 82.5h1M228 77.5h1M232 71.5h1M232 80.5h1M224 72.5h1M232 70.5h1M229 79.5h1M223 77.5h1M227 73.5h1M233 81.5h1M233 79.5h1M229 78.5h1M238 44.5h1M233 83.5h1M240 79.5h1M233 78.5h1M233 76.5h1M227 62.5h1M226 64.5h1M229 57.5h1M227 93.5h1M216 66.5h1M235 71.5h1M245 59.5h1M244 67.5h1M228 75.5h1M223 74.5h1M226 57.5h1M234 79.5h1M227 62.5h1M237 53.5h1M233 80.5h1M220 74.5h1M221 68.5h1M237 62.5h1M237 79.5h1M230 67.5h1M242 63.5h1M230 76.5h1M228 73.5h1M230 57.5h1M235 84.5h1M212 52.5h1M231 61.5h1M231 74.5h1M223 69.5h1M223 79.5h1M240 77.5h1M226 44.5h1M228 85.5h1M238 65.5h1M220 70.5h1M250 62.5h1M224 58.5h1M225 77.5h1M219 75.5h1M225 73.5h1M223 63.5h1M226 88.5h1M221 74.5h1" stroke="#000" stroke-width="1" fill="none" opacity="1.0"/>
<path d="M79 129.5h1M77 124.5h1M72 139.5h1M78 126.5h1M80 138.5h1M73 143.5h1M79 140.5h1M74 138.5h1M70 148.5h1M75 134.5h1M77 131.5h1M87 120.5h1M82 131.5h1M75 139.5h1M74 122.5h1M73 137.5h1M73 147.5h1M78 133.5h1M80 122.5h1M82 125.5h1M75 140.5h1M76 127.5h1M77 132.5h1M77 139.5h1M78 136.5h1M77 130.5h1M81 118.5h1M72 143.5h1M81 126.5h1M79 130.5h1M81 132.5h1M72 140.5h1M81 121.5h1M76 133.5h1M78 132.5h1M71 137.5h1M82 130.5h1M76 131.5h1M81 133.5h1M77 145.5h1M71 133.5h1M77 133.5h1M75 142.5h1M80 125.5h1M74 143.5h1M83 114.5h1M83 124.5h1M73 144.5h1M78 127.5h1M80 115.5h1M80 130.5h1M71 133.5h1M82 131.5h1M76 144.5h1M77 123.5h1M75 126.5h1M73 145.5h1M81 132.5h1M73 143.5h1M78 133.5h1M73 142.5h1M78 143.5h1M76 139.5h1M69 143.5h1M86 116.5h1M79 137.5h1M82 120.5h1M76 133.5h1M83 131.5h1M80 129.5h1M78 129.5h1M78 141.5h1M82 118.5h1M77 131.5h1M66 147.5h1M76 131.5h1M88 124.5h1M66 148.5h1M68 143.5h1M84 121.5h1M68 148.5h1M84 118.5h1M85 124.5h1M78 126.5h1M72 139.5h1M85 117.5h1M77 136.5h1M77 144.5h1M80 124.5h1M86 113.5h1M74 135.5h1M75 126.5h1M77 124.5h1M81 118.5h1M77 144.5h1M75 143.5h1M70 150.5h1M76 134.5h1M72 142.5h1M85 118.5h1M74 138.5h1M67 143.5h1M73 139.5h1M74 125.5h1M79 123.5h1M73 134.5h1M70 133.5h1M76 122.5h1M79 127.5h1M79 131.5h1M73 146.5h1M82 117.5h1M77 125.5h1M70 148.5h1M78 138.5h1M84 122.5h1M69 151.5h1M79 120.5h1M76 141.5h1M75 139.5h1M80 121.5h1M70 138.5h1M71 143.5h1M82 128.5h1M82 130.5h1M78 126.5h1M77 132.5h1M86 120.5h1M79 119.5h1M79 124.5h1M80 122.5h1M76 138.5h1M78 119.5h1M83 120.5h1M73 130.5h1M75 143.5h1M78 128.5h1M72 139.5h1M84 119.5h1M72 143.5h1M79 121.5h1M85 117.5h1M79 124.5h1M84 117.5h1M83 128.5h1M77 121.5h1M80 129.5h1M72 149.5h1M87 125.5h1M71 130.5h1M78 137.5h1M86 127.5h1M74 143.5h1M75 136.5h1M69 149.5h1M69 137.5h1M84 124.5h1M75 126.5h1M80 115.5h1M85 115.5h1M85 120.5h1M75 144.5h1M82 127.5h1M77 124.5h1M78 127.5h1M78 126.5h1M75 128.5h1M82 123.5h1M78 123.5h1M77 131.5h1M76 144.5h1M70 149.5h1M82 118.5h1M84 121.5h1M67 147.5h1M73 145.5h1M84 122.5h1M75 141.5h1M81 117.5h1M71 151.5h1M84 114.5h1M77 137.5h1M69 144.5h1M75 127.5h1M82 131.5h1M79 126.5h1M70 146.5h1M76 124.5h1M80 120.5h1M75 146.5h1M72 147.5h1M76 133.5h1M79 116.5h1M78 136.5h1M74 143.5h1M84 123.5h1M70 145.5h1M82 122.5h1M71 141.5h1M73 129.5h1M70 131.5h1M73 147.5h1M71 142.5h1M81 122.5h1M73 127.5h1M75 147.5h1M76 130.5h1M68 137.5h1M70 137.5h1M75 130.5h1M82 126.5h1M77 136.5h1M79 132.5h1M71 141.5h1M77 137.5h1M76 133.5h1M82 127.5h1M70 141.5h1M70 142.5h1M74 131.5h1M75 130.5h1M80 119.5h1M77 136.5h1M79 122.5h1M75 124.5h1M74 134.5h1M77 125.5h1M77 119.5h1M80 126.5h1M72 145.5h1M82 118.5h1M84 124.5h1M71 132.5h1M74 144.5h1M84 116.5h1M70 139.5h1M85 119.5h1M69 142.5h1M78 129.5h1M75 140.5h1M79 124.5h1M80 121.5h1M80 131.5h1M73 149.5h1M76 129.5h1M80 136.5h1M80 127.5h1M73 131.5h1M82 124.5h1M74 139.5h1M70 144.5h1M73 144.5h1M77 133.5h1M80 119.5h1M75 131.5h1M74 144.5h1M83 120.5h1M85 122.5h1M82 119.5h1M82 122.5h1M75 128.5h1M79 143.5h1M73 144.5h1M82 123.5h1M79 137.5h1M77 138.5h1M75 130.5h1M74 135.5h1M81 133.5h1M81 123.5h1M76 131.5h1M78 128.5h1M81 132.5h1M69 142.5h1M78 129.5h1M72 150.5h1M80 134.5h1M80 119.5h1M79 127.5h1M75 139.5h1M78 132.5h1M81 121.5h1M78 124.5h1M76 132.5h1M81 123.5h1M70 149.5h1M78 142.5h1M78 132.5h1M79 134.5h1M79 133.5h1M83 115.5h1M77 140.5h1M78 125.5h1M77 140.5h1M84 119.5h1M83 116.5h1M81 128.5h1M74 135.5h1M72 149.5h1M74 130.5h1M75 137.5h1M74 148.5h1M74 134.5h1M68 136.5h1M68 147.5h1M85 115.5h1M74 137.5h1M80 116.5h1M73 138.5h1M81 119.5h1M80 114.5h1M73 137.5h1M77 129.5h1M78 126.5h1M78 126.5h1M79 137.5h1M74 127.5h1M77 127.5h1M81 132.5h1M76 135.5h1M80 117.5h1M81 125.5h1M64 146.5h1M73 135.5h1M81 127.5h1M74 126.5h1M80 131.5h1M83 118.5h1M74 138.5h1M78 148.5h1M79 133.5h1M77 133.5h1M77 120.5h1M75 125.5h1M77 129.5h1M80 125.5h1M77 136.5h1M74 130.5h1M82 116.5h1M71 148.5h1M80 116.5h1M72 144.5h1M82 126.5h1M74 136.5h1M77 133.5h1M80 126.5h1M80 127.5h1M82 122.5h1M72 141.5h1M78 126.5h1M77 128.5h1M79 132.5h1M71 138.5h1M81 133.5h1M64 148.5h1M81 126.5h1M77 146.5h1M82 119.5h1M74 143.5h1M82 121.5h1M84 140.5h1M74 147.5h1M79 140.5h1M81 120.5h1M81 123.5h1M84 113.5h1M70 147.5h1M74 132.5h1M80 125.5h1M74 132.5h1M82 125.5h1M76 136.5h1M75 142.5h1M74 134.5h1M77 135.5h1M87 124.5h1M79 135.5h1M81 128.5h1M71 151.5h1M82 130.5h1M83 129.5h1M69 148.5h1M79 124.5h1M72 145.5h1M82 132.5h1M74 146.5h1M78 126.5h1M74 144.5h1M81 127.5h1M73 139.5h1M80 122.5h1M71 130.5h1M77 122.5h1M80 118.5h1M79 142.5h1M70 149.5h1M79 136.5h1M81 125.5h1M73 140.5h1M84 127.5h1M78 129.5h1M80 132.5h1M75 140.5h1M77 127.5h1M70 145.5h1M76 139.5h1M72 141.5h1M81 134.5h1M80 121.5h1M74 144.5h1M81 124.5h1M71 146.5h1M77 136.5h1M69 149.5h1M74 132.5h1M78 124.5h1M74 141.5h1M75 139.5h1M76 144.5h1M83 119.5h1M79 134.5h1M83 122.5h1M71 146.5h1M80 133.5h1M72 138.5h1M66 145.5h1M67 129.5h1M75 135.5h1M80 134.5h1M83 115.5h1M61 130.5h1M81 133.5h1M77 143.5h1M83 114.5h1M73 145.5h1M76 145.5h1M84 113.5h1M80 120.5h1M73 144.5h1M75 143.5h1M77 132.5h1M78 132.5h1M83 120.5h1M76 137.5h1M80 129.5h1M70 140.5h1M78 117.5h1M74 135.5h1M77 126.5h1M68 136.5h1M73 150.5h1M76 128.5h1M78 137.5h1M76 127.5h1M74 142.5h1M76 136.5h1M81 125.5h1M77 131.5h1M72 142.5h1M79 126.5h1M74 153.5h1M82 130.5h1M74 132.5h1M79 127.5h1M77 122.5h1M82 134.5h1M73 147.5h1M78 129.5h1M73 132.5h1M71 139.5h1M75 133.5h1M71 143.5h1M76 131.5h1M76 132.5h1M69 142.5h1M75 139.5h1M78 129.5h1M78 135.5h1M68 146.5h1M78 136.5h1M77 141.5h1M80 127.5h1M76 126.5h1M71 140.5h1M77 131.5h1M74 142.5h1M81 126.5h1M74 140.5h1M71 132.5h1M74 136.5h1M74 139.5h1M77 127.5h1M75 140.5h1M76 143.5h1M68 144.5h1M75 141.5h1M76 127.5h1M81 117.5h1M70 148.5h1M85 123.5h1M74 143.5h1M72 141.5h1M78 138.5h1M79 127.5h1M82 122.5h1M73 132.5h1M70 140.5h1M67 145.5h1M81 130.5h1M78 121.5h1M75 147.5h1M67 148.5h1M80 125.5h1M84 115.5h1M68 143.5h1M68 136.5h1M79 123.5h1M87 116.5h1M81 135.5h1M73 130.5h1M81 121.5h1M77 130.5h1M81 133.5h1M79 131.5h1M76 127.5h1M83 138.5h1M76 141.5h1M79 120.5h1M72 150.5h1M73 146.5h1M79 138.5h1M67 149.5h1M77 132.5h1M72 138.5h1M80 123.5h1M81 122.5h1M79 131.5h1M80 119.5h1M80 134.5h1M70 145.5h1M75 141.5h1M82 120.5h1M81 125.5h1M72 148.5h1M83 116.5h1M71 152.5h1M69 148.5h1M83 119.5h1M76 134.5h1M71 141.5h1M70 130.5h1M70 143.5h1M70 143.5h1M72 139.5h1M74 148.5h1M83 114.5h1M76 139.5h1M87 124.5h1M75 128.5h1M80 128.5h1M77 139.5h1M78 128.5h1M81 123.5h1M73 147.5h1M86 130.5h1M75 131.5h1M73 146.5h1M79 129.5h1M80 142.5h1M80 139.5h1M86 123.5h1M78 134.5h1M79 131.5h1M84 114.5h1M81 120.5h1M83 114.5h1M82 122.5h1M79 134.5h1M81 125.5h1M71 133.5h1M85 116.5h1M86 132.5h1M79 126.5h1M78 122.5h1M82 132.5h1M75 128.5h1M77 132.5h1M76 138.5h1M72 138.5h1M75 129.5h1M72 147.5h1M73 131.5h1M75 140.5h1M79 130.5h1M70 139.5h1M81 129.5h1M76 125.5h1M76 137.5h1M72 137.5h1M76 126.5h1M81 119.5h1M76 136.5h1M82 124.5h1M78 134.5h1M73 133.5h1M75 136.5h1M68 132.5h1M75 143.5h1M75 138.5h1M72 144.5h1M80 123.5h1M68 138.5h1M77 135.5h1M71 146.5h1M74 137.5h1M76 143.5h1M71 145.5h1M83 115.5h1M81 133.5h1M71 144.5h1M77 125.5h1M70 130.5h1M82 118.5h1M83 115.5h1M67 148.5h1M72 147.5h1M74 127.5h1M76 133.5h1M78 130.5h1M78 138.5h1M74 138.5h1M72 142.5h1M75 145.5h1M71 153.5h1M75 138.5h1M69 144.5h1M78 134.5h1M78 121.5h1M75 146.5h1M74 142.5h1M81 118.5h1M85 123.5h1M76 124.5h1M73 148.5h1M83 116.5h1M77 129.5h1M76 122.5h1M74 123.5h1M79 128.5h1M69 143.5h1M83 124.5h1M73 141.5h1M79 131.5h1M88 113.5h1M72 130.5h1M74 140.5h1M82 118.5h1M79 133.5h1M72 142.5h1M77 128.5h1M78 123.5h1M79 124.5h1M77 122.5h1M79 132.5h1M65 139.5h1M72 146.5h1M84 118.5h1M76 135.5h1M79 125.5h1M80 132.5h1M78 135.5h1M83 123.5h1M70 146.5h1M78 132.5h1M71 145.5h1M75 132.5h1M74 146.5h1M82 115.5h1M79 125.5h1M69 141.5h1M68 140.5h1M83 128.5h1M82 125.5h1M81 125.5h1M71 135.5h1M81 121.5h1M81 129.5h1M71 128.5h1M80 131.5h1M81 125.5h1M75 147.5h1M73 132.5h1M84 129.5h1M80 124.5h1M71 147.5h1M82 127.5h1M84 136.5h1M79 135.5h1M84 128.5h1M73 141.5h1M78 135.5h1M82 128.5h1M80 116.5h1M76 136.5h1M72 146.5h1M82 122.5h1M78 143.5h1M76 140.5h1M77 134.5h1M79 128.5h1M76 136.5h1M71 133.5h1M84 115.5h1M80 120.5h1M67 149.5h1M71 152.5h1M80 119.5h1M74 130.5h1M79 117.5h1M80 134.5h1M79 140.5h1M81 124.5h1M75 133.5h1M82 124.5h1M83 121.5h1M80 124.5h1M74 141.5h1M78 118.5h1M85 114.5h1M81 119.5h1M76 131.5h1M79 125.5h1M70 136.5h1M76 137.5h1M83 123.5h1M65 145.5h1M70 136.5h1M78 142.5h1M80 117.5h1M77 137.5h1M80 132.5h1M79 142.5h1M74 137.5h1M74 131.5h1M78 123.5h1M78 123.5h1M69 137.5h1M69 142.5h1M73 135.5h1M75 131.5h1M82 126.5h1M78 136.5h1M72 143.5h1M67 142.5h1M82 123.5h1M72 140.5h1M76 122.5h1M71 142.5h1M69 146.5h1M76 134.5h1M77 134.5h1M86 120.5h1M71 141.5h1M83 118.5h1M71 137.5h1M75 131.5h1M75 125.5h1M80 124.5h1M81 125.5h1M74 136.5h1M79 138.5h1M83 117.5h1M83 123.5h1M70 145.5h1M74 138.5h1M85 124.5h1M74 129.5h1M83 120.5h1M69 135.5h1M82 119.5h1M83 123.5h1M87 119.5h1M77 139.5h1M77 132.5h1M70 147.5h1M71 142.5h1M81 122.5h1M72 145.5h1M82 131.5h1M78 123.5h1M76 127.5h1M77 140.5h1M80 130.5h1M71 142.5h1M71 144.5h1M74 142.5h1M71 145.5h1M76 128.5h1M73 143.5h1M82 126.5h1M75 127.5h1M73 136.5h1M72 148.5h1M72 129.5h1M78 126.5h1M83 123.5h1M76 128.5h1M78 134.5h1M83 138.5h1M77 137.5h1M74 130.5h1M85 131.5h1M79 134.5h1M82 128.5h1M83 120.5h1M69 145.5h1M79 127.5h1M73 141.5h1M84 128.5h1M83 128.5h1M78 127.5h1M78 132.5h1M73 145.5h1M83 129.5h1M84 121.5h1M80 117.5h1M77 142.5h1M77 123.5h1M82 117.5h1M75 125.5h1M74 135.5h1M82 126.5h1M80 125.5h1M75 144.5h1M80 133.5h1M79 126.5h1M75 131.5h1M79 139.5h1M73 146.5h1M80 134.5h1M86 116.5h1M74 136.5h1M81 118.5h1M80 127.5h1M75 131.5h1M76 129.5h1M78 123.5h1M77 131.5h1M76 131.5h1M70 150.5h1M75 140.5h1M82 129.5h1M78 132.5h1M71 148.5h1M75 140.5h1M75 138.5h1M80 127.5h1M69 149.5h1M81 122.5h1M77 123.5h1M76 143.5h1M76 137.5h1M72 147.5h1M70 137.5h1M77 125.5h1M80 121.5h1M68 136.5h1M84 122.5h1M83 122.5h1M81 121.5h1M77 141.5h1M66 146.5h1M78 121.5h1M77 140.5h1M78 136.5h1M80 125.5h1M75 139.5h1M78 130.5h1M81 120.5h1M75 131.5h1M71 139.5h1M75 137.5h1M73 139.5h1M82 126.5h1M75 123.5h1M75 136.5h1M76 130.5h1M68 150.5h1M69 149.5h1M83 128.5h1M79 142.5h1M66 140.5h1M81 129.5h1M67 146.5h1M79 119.5h1M69 144.5h1M68 144.5h1M76 143.5h1M79 140.5h1M67 141.5h1M79 132.5h1M82 122.5h1M74 135.5h1M69 148.5h1M75 134.5h1M79 125.5h1M75 128.5h1M75 136.5h1M80 126.5h1M79 126.5h1M73 130.5h1M81 127.5h1M71 133.5h1M71 140.5h1M70 137.5h1M69 133.5h1M77 132.5h1M75 130.5h1M79 138.5h1M80 121.5h1M82 126.5h1M68 148.5h1M69 145.5h1M78 134.5h1M71 141.5h1M70 141.5h1M77 130.5h1M82 129.5h1M80 127.5h1M85 115.5h1M84 136.5h1M75 143.5h1M71 142.5h1M81 123.5h1M79 120.5h1M81 119.5h1M80 136.5h1M81 126.5h1M74 129.5h1M69 148.5h1M74 126.5h1M80 143.5h1M80 121.5h1M73 130.5h1M83 128.5h1M80 125.5h1M69 145.5h1M73 132.5h1M80 119.5h1M81 121.5h1M82 119.5h1M74 141.5h1M72 136.5h1M76 129.5h1M79 129.5h1M83 128.5h1M77 146.5h1M74 148.5h1M78 121.5h1M73 137.5h1M82 125.5h1M76 126.5h1M72 131.5h1M73 128.5h1M83 117.5h1M75 129.5h1M72 139.5h1M71 136.5h1M71 147.5h1M80 120.5h1M76 125.5h1M73 130.5h1M80 117.5h1M77 135.5h1M84 117.5h1M77 126.5h1M74 131.5h1M85 127.5h1M82 125.5h1M86 118.5h1M84 118.5h1M70 149.5h1M81 123.5h1M83 129.5h1M79 144.5h1M83 120.5h1M81 123.5h1M81 130.5h1M85 117.5h1M76 134.5h1M78 125.5h1M72 138.5h1M86 115.5h1M69 150.5h1M80 123.5h1M80 122.5h1M72 133.5h1M76 139.5h1M80 125.5h1M76 138.5h1M84 125.5h1M76 132.5h1M75 138.5h1M75 131.5h1M78 136.5h1M82 123.5h1M83 125.5h1M82 133.5h1M72 133.5h1M81 135.5h1M76 123.5h1M69 144.5h1M69 135.5h1M79 141.5h1M77 127.5h1M79 133.5h1M75 132.5h1M79 141.5h1M79 119.5h1M82 119.5h1M73 130.5h1M82 119.5h1M73 151.5h1M80 127.5h1M75 139.5h1M81 127.5h1M72 138.5h1M70 137.5h1M79 120.5h1M74 134.5h1M76 144.5h1M78 128.5h1M70 145.5h1M72 144.5h1M76 127.5h1M73 146.5h1M72 149.5h1M76 127.5h1M82 134.5h1M70 140.5h1M83 120.5h1M74 137.5h1M77 138.5h1M78 137.5h1M77 133.5h1M77 134.5h1M70 137.5h1M82 113.5h1M82 120.5h1M74 142.5h1M72 139.5h1M78 134.5h1M82 127.5h1M79 118.5h1M80 127.5h1M77 145.5h1M71 145.5h1M79 127.5h1M73 141.5h1M77 136.5h1M76 118.5h1M80 129.5h1M72 141.5h1M78 134.5h1M76 129.5h1M70 147.5h1M76 138.5h1M77 141.5h1M69 151.5h1M72 146.5h1M77 124.5h1M80 123.5h1M73 144.5h1M83 135.5h1M75 129.5h1M75 138.5h1M71 142.5h1M72 147.5h1M73 134.5h1M80 132.5h1M68 146.5h1M78 143.5h1M76 135.5h1M74 138.5h1M72 144.5h1M82 122.5h1M83 119.5h1M82 129.5h1M73 141.5h1M68 149.5h1M72 131.5h1M78 124.5h1M71 138.5h1M75 144.5h1M68 147.5h1M73 136.5h1M76 135.5h1M80 138.5h1M76 122.5h1M80 124.5h1M84 121.5h1M78 119.5h1M79 133.5h1M69 131.5h1M79 126.5h1M68 148.5h1M77 129.5h1M79 129.5h1M73 151.5h1M73 134.5h1M85 124.5h1M79 140.5h1M69 139.5h1M78 131.5h1M86 114.5h1M85 120.5h1M73 148.5h1M74 135.5h1M73 138.5h1M75 143.5h1M77 126.5h1M81 125.5h1M74 139.5h1M72 138.5h1M79 146.5h1M78 130.5h1M84 134.5h1M72 150.5h1M74 147.5h1M73 135.5h1M81 119.5h1M81 122.5h1M72 144.5h1M72 134.5h1M85 128.5h1M85 131.5h1M70 152.5h1M79 128.5h1M72 141.5h1M72 134.5h1M82 123.5h1M74 138.5h1M82 126.5h1M82 126.5h1M84 133.5h1M71 145.5h1M79 129.5h1M77 130.5h1M81 125.5h1M79 120.5h1M84 129.5h1M78 123.5h1M72 140.5h1M70 133.5h1M74 131.5h1M68 123.5h1M63 140.5h1M77 137.5h1M81 117.5h1M69 135.5h1M81 128.5h1M73 132.5h1M77 121.5h1M77 120.5h1M68 143.5h1M79 136.5h1M73 129.5h1M79 140.5h1M78 128.5h1M76 140.5h1M77 126.5h1M66 139.5h1M77 135.5h1M68 134.5h1M71 147.5h1M77 135.5h1M78 121.5h1M71 131.5h1M74 125.5h1M71 144.5h1M72 127.5h1M73 114.5h1M68 130.5h1M76 138.5h1M69 146.5h1M76 121.5h1M76 124.5h1M74 128.5h1M81 140.5h1M69 131.5h1M64 149.5h1M68 145.5h1M73 137.5h1M71 134.5h1M72 143.5h1M75 130.5h1M71 132.5h1M69 136.5h1M77 124.5h1M78 123.5h1M73 139.5h1M81 128.5h1M68 144.5h1M79 129.5h1M80 124.5h1M67 143.5h1M66 127.5h1M76 129.5h1M76 130.5h1M74 143.5h1M69 124.5h1M77 132.5h1M70 139.5h1M72 139.5h1M84 116.5h1M78 125.5h1M75 136.5h1M76 131.5h1M68 135.5h1M79 122.5h1M75 127.5h1M82 116.5h1M76 116.5h1M71 144.5h1M71 141.5h1M79 120.5h1M71 136.5h1M78 133.5h1M79 123.5h1M80 125.5h1M77 129.5h1M79 117.5h1M72 140.5h1M78 131.5h1M71 135.5h1M77 131.5h1M78 124.5h1M79 135.5h1M67 149.5h1M73 134.5h1M77 119.5h1M71 133.5h1M77 131.5h1M80 131.5h1M74 119.5h1M80 116.5h1M78 126.5h1M68 148.5h1M78 117.5h1M74 124.5h1M70 139.5h1M76 133.5h1M79 126.5h1M68 143.5h1M69 147.5h1M78 122.5h1M73 132.5h1M81 121.5h1M79 121.5h1M79 127.5h1M77 130.5h1M78 119.5h1M65 149.5h1M73 135.5h1M74 132.5h1M81 133.5h1M75 133.5h1M73 135.5h1M77 118.5h1M76 124.5h1M75 135.5h1M73 123.5h1M68 132.5h1M72 142.5h1M78 127.5h1M79 117.5h1M77 126.5h1M78 120.5h1M73 133.5h1M75 140.5h1M75 138.5h1M81 140.5h1M81 131.5h1M71 142.5h1M68 143.5h1M78 135.5h1M80 121.5h1M77 128.5h1M71 145.5h1M74 133.5h1M76 123.5h1M76 134.5h1M68 142.5h1M75 124.5h1M83 116.5h1M68 137.5h1M76 119.5h1M76 144.5h1M76 136.5h1M70 139.5h1M81 118.5h1M66 150.5h1M77 119.5h1M73 128.5h1M70 130.5h1M80 123.5h1M79 135.5h1M81 130.5h1M73 136.5h1M79 137.5h1M71 141.5h1M82 121.5h1M79 136.5h1M67 145.5h1M68 147.5h1M80 118.5h1M74 126.5h1M79 122.5h1M82 125.5h1M81 131.5h1M66 148.5h1M70 141.5h1M85 124.5h1M71 135.5h1M71 138.5h1M84 124.5h1M70 139.5h1M73 143.5h1M71 140.5h1M71 125.5h1M80 124.5h1M69 126.5h1M71 124.5h1M77 139.5h1M73 142.5h1M75 130.5h1M78 134.5h1M78 137.5h1M79 126.5h1M71 127.5h1M72 128.5h1M72 146.5h1M79 122.5h1M77 139.5h1M67 141.5h1M73 140.5h1M71 123.5h1M80 125.5h1M79 124.5h1M77 138.5h1M65 134.5h1M66 138.5h1M70 134.5h1M73 140.5h1M82 131.5h1M79 133.5h1M66 138.5h1M74 129.5h1M75 143.5h1M80 126.5h1M68 134.5h1M71 145.5h1M74 140.5h1M79 131.5h1M71 139.5h1M74 138.5h1M80 127.5h1M69 146.5h1M73 145.5h1M73 143.5h1M66 140.5h1M69 137.5h1M70 130.5h1M73 138.5h1M67 132.5h1M69 139.5h1M69 134.5h1M65 136.5h1M60 123.5h1M63 137.5h1M60 131.5h1M67 137.5h1M72 132.5h1M69 148.5h1M75 144.5h1M68 150.5h1M76 131.5h1M73 139.5h1M69 134.5h1M73 130.5h1M65 139.5h1M63 130.5h1M69 151.5h1M72 134.5h1M69 140.5h1M70 132.5h1M67 134.5h1M65 132.5h1M69 145.5h1M70 143.5h1M65 138.5h1M72 131.5h1M73 136.5h1M60 139.5h1M68 129.5h1M62 138.5h1M66 123.5h1M67 131.5h1M69 131.5h1M69 133.5h1" stroke="#000" stroke-width="1" fill="none" opacity="1.0"/>
<path d="M130 122.5h1M129 128.5h1M131 134.5h1M129 129.5h1M124 139.5h1M131 129.5h1M127 135.5h1M129 129.5h1M128 126.5h1M130 138.5h1M125 142.5h1M129 136.5h1M127 128.5h1M131 121.5h1M125 120.5h1M125 151.5h1M134 138.5h1M124 131.5h1M127 150.5h1M135 121.5h1M133 129.5h1M131 122.5h1M129 129.5h1M128 147.5h1M132 119.5h1M122 145.5h1M128 130.5h1M132 123.5h1M126 143.5h1M133 116.5h1M132 123.5h1M127 152.5h1M135 115.5h1M133 124.5h1M125 137.5h1M128 132.5h1M134 122.5h1M129 139.5h1M128 140.5h1M131 123.5h1M122 145.5h1M123 151.5h1M131 122.5h1M135 130.5h1M132 115.5h1M126 136.5h1M133 138.5h1M129 130.5h1M126 137.5h1M132 132.5h1M132 118.5h1M130 130.5h1M131 122.5h1M133 124.5h1M125 145.5h1M132 126.5h1M126 132.5h1M126 137.5h1M126 143.5h1M126 137.5h1M125 150.5h1M132 121.5h1M122 134.5h1M127 150.5h1M129 127.5h1M132 131.5h1M131 131.5h1M130 131.5h1M131 131.5h1M133 124.5h1M127 132.5h1M133 128.5h1M124 141.5h1M134 128.5h1M126 137.5h1M127 144.5h1M129 131.5h1M127 146.5h1M129 131.5h1M130 127.5h1M124 147.5h1M135 115.5h1M126 151.5h1M129 123.5h1M119 144.5h1M124 150.5h1M128 132.5h1M129 134.5h1M124 149.5h1M129 128.5h1M129 130.5h1M128 133.5h1M124 141.5h1M126 133.5h1M123 144.5h1M122 146.5h1M134 116.5h1M128 145.5h1M132 133.5h1M129 126.5h1M132 125.5h1M130 121.5h1M127 139.5h1M129 129.5h1M134 133.5h1M127 135.5h1M124 145.5h1M132 117.5h1M124 141.5h1M132 129.5h1M128 148.5h1M129 125.5h1M128 124.5h1M126 134.5h1M121 146.5h1M131 125.5h1M136 117.5h1M133 114.5h1M132 123.5h1M132 125.5h1M129 120.5h1M126 140.5h1M130 120.5h1M127 142.5h1M128 137.5h1M127 136.5h1M127 120.5h1M127 130.5h1M125 147.5h1M126 134.5h1M130 136.5h1M129 136.5h1M131 130.5h1M130 127.5h1M129 139.5h1M128 131.5h1M124 145.5h1M135 116.5h1M128 125.5h1M122 142.5h1M126 147.5h1M131 136.5h1M132 127.5h1M135 136.5h1M133 119.5h1M121 146.5h1M127 132.5h1M121 145.5h1M131 124.5h1M130 129.5h1M132 139.5h1M133 136.5h1M131 127.5h1M135 120.5h1M125 152.5h1M129 128.5h1M123 147.5h1M127 125.5h1M128 134.5h1M131 123.5h1M129 125.5h1M125 146.5h1M126 136.5h1M132 141.5h1M125 131.5h1M131 134.5h1M124 142.5h1M133 115.5h1M132 126.5h1M122 136.5h1M125 141.5h1M129 138.5h1M129 121.5h1M128 122.5h1M119 142.5h1M125 141.5h1M127 124.5h1M124 147.5h1M126 137.5h1M134 117.5h1M132 135.5h1M126 126.5h1M126 133.5h1M133 114.5h1M136 122.5h1M127 134.5h1M126 131.5h1M129 119.5h1M128 137.5h1M123 142.5h1M129 124.5h1M134 119.5h1M134 114.5h1M134 115.5h1M131 128.5h1M124 142.5h1M123 143.5h1M131 121.5h1M124 138.5h1M134 123.5h1M132 126.5h1M128 137.5h1M133 119.5h1M127 134.5h1M127 138.5h1M134 123.5h1M124 134.5h1M129 134.5h1M129 142.5h1M128 126.5h1M126 142.5h1M130 130.5h1M130 127.5h1M125 151.5h1M129 136.5h1M129 132.5h1M126 141.5h1M126 131.5h1M127 144.5h1M130 128.5h1M130 124.5h1M126 140.5h1M133 138.5h1M125 139.5h1M131 135.5h1M124 140.5h1M130 121.5h1M128 150.5h1M124 137.5h1M124 148.5h1M133 136.5h1M129 119.5h1M125 145.5h1M126 144.5h1M131 121.5h1M135 116.5h1M131 128.5h1M124 148.5h1M130 135.5h1M128 134.5h1M121 144.5h1M128 138.5h1M126 153.5h1M133 127.5h1M128 139.5h1M125 131.5h1M123 150.5h1M132 128.5h1M131 126.5h1M136 116.5h1M126 138.5h1M121 147.5h1M128 121.5h1M131 127.5h1M132 130.5h1M126 140.5h1M131 128.5h1M130 131.5h1M129 140.5h1M123 144.5h1M123 145.5h1M124 141.5h1M128 136.5h1M129 132.5h1M123 140.5h1M133 119.5h1M127 144.5h1M125 138.5h1M130 131.5h1M123 143.5h1M126 144.5h1M125 132.5h1M129 133.5h1M122 142.5h1M121 150.5h1M126 149.5h1M134 114.5h1M128 129.5h1M132 131.5h1M122 133.5h1M133 124.5h1M132 127.5h1M126 137.5h1M131 126.5h1M135 118.5h1M130 135.5h1M125 147.5h1M132 124.5h1M129 144.5h1M123 149.5h1M134 119.5h1M127 127.5h1M127 151.5h1M132 128.5h1M129 125.5h1M131 130.5h1M133 117.5h1M133 123.5h1M125 135.5h1M130 135.5h1M132 124.5h1M124 149.5h1M133 121.5h1M128 131.5h1M130 131.5h1M130 134.5h1M123 146.5h1M132 118.5h1M134 133.5h1M127 133.5h1M132 124.5h1M125 136.5h1M129 121.5h1M132 135.5h1M132 133.5h1M131 118.5h1M122 133.5h1M124 141.5h1M133 140.5h1M133 124.5h1M132 124.5h1M129 129.5h1M128 135.5h1M127 140.5h1M135 121.5h1M134 118.5h1M133 131.5h1M125 144.5h1M131 143.5h1M126 145.5h1M130 126.5h1M128 125.5h1M126 136.5h1M128 142.5h1M130 139.5h1M128 128.5h1M126 136.5h1M131 143.5h1M128 136.5h1M136 115.5h1M130 129.5h1M122 147.5h1M130 124.5h1M126 128.5h1M124 143.5h1M131 119.5h1M129 127.5h1M130 120.5h1M125 129.5h1M128 135.5h1M132 126.5h1M125 148.5h1M129 145.5h1M131 137.5h1M123 151.5h1M127 141.5h1M132 124.5h1M133 126.5h1M132 118.5h1M130 146.5h1M131 125.5h1M128 146.5h1M128 128.5h1M128 132.5h1M124 139.5h1M125 146.5h1M134 112.5h1M128 131.5h1M131 133.5h1M128 132.5h1M132 125.5h1M123 143.5h1M121 151.5h1M129 149.5h1M130 137.5h1M130 132.5h1M122 149.5h1M130 135.5h1M132 123.5h1M132 124.5h1M133 129.5h1M133 135.5h1M127 146.5h1M132 117.5h1M128 129.5h1M133 121.5h1M123 144.5h1M128 132.5h1M126 134.5h1M133 123.5h1M135 122.5h1M128 139.5h1M131 137.5h1M125 145.5h1M131 129.5h1M132 128.5h1M125 141.5h1M128 140.5h1M124 145.5h1M124 140.5h1M130 132.5h1M134 122.5h1M134 130.5h1M123 137.5h1M128 141.5h1M133 135.5h1M133 126.5h1M133 117.5h1M121 142.5h1M135 119.5h1M122 144.5h1M129 143.5h1M130 121.5h1M130 127.5h1M129 119.5h1M126 145.5h1M132 136.5h1M131 127.5h1M131 127.5h1M129 132.5h1M133 114.5h1M132 131.5h1M124 134.5h1M126 135.5h1M129 131.5h1M126 129.5h1M127 124.5h1M127 137.5h1M126 127.5h1M134 131.5h1M132 132.5h1M129 145.5h1M132 136.5h1M126 151.5h1M126 135.5h1M131 132.5h1M128 142.5h1M129 137.5h1M127 134.5h1M129 115.5h1M133 122.5h1M131 124.5h1M135 118.5h1M126 127.5h1M131 119.5h1M123 140.5h1M129 131.5h1M128 141.5h1M127 139.5h1M136 120.5h1M129 144.5h1M130 135.5h1M130 140.5h1M128 131.5h1M128 139.5h1M135 123.5h1M131 121.5h1M128 144.5h1M134 134.5h1M131 135.5h1M138 127.5h1M133 118.5h1M131 128.5h1M129 124.5h1M132 135.5h1M134 119.5h1M130 130.5h1M131 140.5h1M128 131.5h1M133 122.5h1M128 147.5h1M123 136.5h1M130 136.5h1M132 133.5h1M125 132.5h1M127 151.5h1M132 128.5h1M125 142.5h1M133 121.5h1M130 125.5h1M128 143.5h1M135 125.5h1M129 135.5h1M126 138.5h1M132 120.5h1M132 123.5h1M128 139.5h1M130 123.5h1M134 130.5h1M121 139.5h1M130 134.5h1M132 140.5h1M133 116.5h1M132 142.5h1M134 115.5h1M128 143.5h1M132 128.5h1M125 136.5h1M132 125.5h1M129 136.5h1M128 145.5h1M132 127.5h1M131 123.5h1M128 145.5h1M137 124.5h1M133 127.5h1M132 121.5h1M130 131.5h1M127 143.5h1M126 137.5h1M122 149.5h1M125 142.5h1M135 130.5h1M132 137.5h1M129 139.5h1M130 135.5h1M136 124.5h1M129 147.5h1M132 122.5h1M126 146.5h1M125 150.5h1M130 123.5h1M125 149.5h1M134 121.5h1M131 131.5h1M132 126.5h1M129 138.5h1M133 122.5h1M128 140.5h1M126 146.5h1M131 124.5h1M129 136.5h1M127 135.5h1M132 125.5h1M129 133.5h1M132 127.5h1M128 138.5h1M124 143.5h1M135 123.5h1M126 130.5h1M129 130.5h1M128 140.5h1M125 145.5h1M131 135.5h1M133 124.5h1M128 147.5h1M129 122.5h1M128 139.5h1M129 141.5h1M129 137.5h1M127 123.5h1M133 130.5h1M131 133.5h1M128 125.5h1M135 118.5h1M123 135.5h1M125 151.5h1M124 150.5h1M129 131.5h1M132 123.5h1M125 142.5h1M131 122.5h1M133 126.5h1M125 130.5h1M126 148.5h1M130 132.5h1M133 134.5h1M129 138.5h1M134 137.5h1M130 144.5h1M130 129.5h1M129 142.5h1M130 122.5h1M131 132.5h1M130 134.5h1M126 140.5h1M131 140.5h1M127 136.5h1M130 134.5h1M132 132.5h1M133 119.5h1M129 128.5h1M129 132.5h1M129 126.5h1M134 131.5h1M135 115.5h1M132 130.5h1M128 133.5h1M129 124.5h1M133 124.5h1M128 130.5h1M125 147.5h1M126 136.5h1M128 127.5h1M130 136.5h1M130 126.5h1M126 141.5h1M134 122.5h1M120 143.5h1M130 141.5h1M129 132.5h1M128 124.5h1M124 137.5h1M122 155.5h1M128 140.5h1M122 143.5h1M128 142.5h1M127 139.5h1M126 145.5h1M124 144.5h1M131 125.5h1M129 139.5h1M134 118.5h1M126 134.5h1M131 120.5h1M130 126.5h1M131 144.5h1M130 126.5h1M132 136.5h1M129 133.5h1M135 131.5h1M133 129.5h1M131 129.5h1M125 146.5h1M131 135.5h1M134 126.5h1M129 129.5h1M133 123.5h1M131 118.5h1M125 134.5h1M124 144.5h1M132 138.5h1M127 144.5h1M127 135.5h1M130 145.5h1M129 124.5h1M123 149.5h1M129 131.5h1M124 150.5h1M126 145.5h1M130 126.5h1M127 145.5h1M127 139.5h1M128 137.5h1M132 119.5h1M129 126.5h1M125 149.5h1M130 129.5h1M125 146.5h1M125 141.5h1M127 124.5h1M127 136.5h1M126 120.5h1M129 135.5h1M134 126.5h1M124 140.5h1M123 139.5h1M125 138.5h1M131 127.5h1M129 130.5h1M124 147.5h1M123 135.5h1M129 133.5h1M131 125.5h1M130 129.5h1M125 149.5h1M134 119.5h1M127 141.5h1M127 127.5h1M128 143.5h1M132 125.5h1M127 141.5h1M131 135.5h1M123 142.5h1M125 147.5h1M133 128.5h1M128 130.5h1M127 142.5h1M133 118.5h1M129 136.5h1M126 134.5h1M131 142.5h1M131 118.5h1M127 141.5h1M123 148.5h1M132 131.5h1M124 135.5h1M131 117.5h1M129 138.5h1M124 139.5h1M123 147.5h1M132 118.5h1M130 134.5h1M132 128.5h1M124 132.5h1M132 122.5h1M126 153.5h1M126 151.5h1M132 128.5h1M124 138.5h1M136 115.5h1M131 120.5h1M127 141.5h1M131 130.5h1M129 131.5h1M133 126.5h1M126 144.5h1M132 122.5h1M127 134.5h1M124 147.5h1M126 135.5h1M123 146.5h1M134 125.5h1M134 129.5h1M130 129.5h1M127 128.5h1M128 132.5h1M126 143.5h1M129 125.5h1M131 125.5h1M128 139.5h1M125 132.5h1M121 147.5h1M134 121.5h1M125 150.5h1M129 139.5h1M127 133.5h1M124 147.5h1M132 140.5h1M127 147.5h1M132 135.5h1M125 153.5h1M127 134.5h1M125 147.5h1M126 123.5h1M134 128.5h1M125 125.5h1M131 129.5h1M125 141.5h1M129 142.5h1M134 122.5h1M125 147.5h1M129 131.5h1M131 129.5h1M125 149.5h1M129 136.5h1M128 144.5h1M135 123.5h1M124 145.5h1M127 149.5h1M126 133.5h1M132 131.5h1M126 136.5h1M136 126.5h1M133 123.5h1M131 133.5h1M136 129.5h1M130 141.5h1M136 126.5h1M129 122.5h1M132 120.5h1M130 132.5h1M129 129.5h1M131 123.5h1M131 121.5h1M129 123.5h1M135 128.5h1M129 143.5h1M131 128.5h1M133 133.5h1M131 118.5h1M139 133.5h1M131 124.5h1M134 127.5h1M127 135.5h1M134 120.5h1M132 134.5h1M136 120.5h1M128 130.5h1M133 118.5h1M130 126.5h1M128 150.5h1M128 133.5h1M125 140.5h1M122 147.5h1M124 127.5h1M127 125.5h1M133 124.5h1M124 138.5h1M125 142.5h1M131 121.5h1M124 138.5h1M128 127.5h1M132 127.5h1M123 151.5h1M129 139.5h1M134 118.5h1M126 130.5h1M128 131.5h1M132 133.5h1M128 149.5h1M126 129.5h1M132 129.5h1M131 138.5h1M132 145.5h1M128 133.5h1M127 148.5h1M133 114.5h1M135 123.5h1M128 143.5h1M126 127.5h1M130 125.5h1M125 144.5h1M125 150.5h1M131 126.5h1M130 133.5h1M129 139.5h1M124 140.5h1M132 116.5h1M130 135.5h1M128 125.5h1M127 134.5h1M125 145.5h1M133 137.5h1M134 116.5h1M135 123.5h1M130 137.5h1M123 146.5h1M134 133.5h1M128 131.5h1M134 129.5h1M124 151.5h1M132 119.5h1M122 141.5h1M126 146.5h1M130 128.5h1M129 150.5h1M125 142.5h1M125 146.5h1M131 123.5h1M129 128.5h1M126 151.5h1M134 128.5h1M127 129.5h1M127 133.5h1M131 124.5h1M124 140.5h1M131 135.5h1M126 145.5h1M131 122.5h1M133 122.5h1M128 141.5h1M132 121.5h1M130 129.5h1M133 126.5h1M135 114.5h1M125 139.5h1M127 147.5h1M130 117.5h1M124 150.5h1M133 129.5h1M138 120.5h1M124 153.5h1M131 130.5h1M137 124.5h1M136 124.5h1M131 130.5h1M128 138.5h1M121 144.5h1M131 134.5h1M129 128.5h1M135 115.5h1M126 130.5h1M126 134.5h1M133 131.5h1M126 149.5h1M137 136.5h1M134 125.5h1M132 142.5h1M126 146.5h1M125 145.5h1M125 147.5h1M128 137.5h1M132 128.5h1M137 125.5h1M128 140.5h1M123 147.5h1M125 148.5h1M124 134.5h1M127 145.5h1M128 118.5h1M126 124.5h1M132 126.5h1M131 132.5h1M122 150.5h1M130 129.5h1M133 123.5h1M133 125.5h1M128 125.5h1M133 117.5h1M123 134.5h1M125 137.5h1M124 144.5h1M128 137.5h1M131 134.5h1M130 126.5h1M131 123.5h1M128 137.5h1M130 127.5h1M129 128.5h1M128 147.5h1M128 138.5h1M126 150.5h1M128 124.5h1M129 123.5h1M129 130.5h1M126 136.5h1M126 144.5h1M127 140.5h1M135 113.5h1M135 129.5h1M123 149.5h1M126 145.5h1M134 121.5h1M136 117.5h1M128 127.5h1M129 136.5h1M128 136.5h1M128 142.5h1M135 126.5h1M127 132.5h1M132 119.5h1M131 129.5h1M134 121.5h1M127 123.5h1M138 132.5h1M126 141.5h1M127 134.5h1M126 143.5h1M133 123.5h1M127 141.5h1M133 132.5h1M129 133.5h1M127 138.5h1M126 138.5h1M124 152.5h1M135 129.5h1M130 133.5h1M132 134.5h1M133 121.5h1M131 141.5h1M131 124.5h1M120 146.5h1M127 134.5h1M126 142.5h1M130 129.5h1M130 137.5h1M124 148.5h1M123 146.5h1M132 129.5h1M130 128.5h1M135 127.5h1M130 132.5h1M128 141.5h1M128 135.5h1M132 119.5h1M135 118.5h1M129 131.5h1M124 141.5h1M134 122.5h1M127 137.5h1M130 126.5h1M134 122.5h1M123 143.5h1M131 130.5h1M129 133.5h1M128 138.5h1M133 118.5h1M134 113.5h1M125 142.5h1M128 138.5h1M125 146.5h1M133 129.5h1M128 129.5h1M134 126.5h1M132 139.5h1M122 147.5h1M130 143.5h1M128 142.5h1M131 124.5h1M130 129.5h1M132 135.5h1M131 115.5h1M129 142.5h1M132 128.5h1M127 146.5h1M122 137.5h1M121 134.5h1M128 141.5h1M127 127.5h1M126 123.5h1M126 144.5h1M126 132.5h1M122 136.5h1M127 131.5h1M126 132.5h1M124 130.5h1M136 134.5h1M124 131.5h1M134 132.5h1M135 134.5h1M134 125.5h1M127 130.5h1M125 132.5h1M131 114.5h1M129 117.5h1M120 144.5h1M129 124.5h1M127 139.5h1M130 141.5h1M121 135.5h1M131 137.5h1M124 131.5h1M139 136.5h1M136 126.5h1M131 149.5h1M133 120.5h1M124 133.5h1M119 139.5h1M133 119.5h1M119 144.5h1M133 125.5h1M128 142.5h1M127 125.5h1M135 127.5h1M133 119.5h1M127 142.5h1M135 119.5h1M124 132.5h1M128 133.5h1M126 125.5h1M129 139.5h1M122 141.5h1M130 145.5h1M127 148.5h1M124 135.5h1M122 150.5h1M128 132.5h1M135 129.5h1M124 152.5h1M128 138.5h1M140 128.5h1M130 130.5h1M124 147.5h1M129 131.5h1M127 143.5h1M120 148.5h1M136 128.5h1M124 131.5h1M119 141.5h1M133 131.5h1M136 120.5h1M129 133.5h1M123 140.5h1M118 130.5h1M128 145.5h1M129 121.5h1M133 123.5h1M126 132.5h1M134 124.5h1" stroke="#000" stroke-width="1" fill="none" opacity="1.0"/>
<path d="M183 125.5h1M181 131.5h1M178 137.5h1M186 120.5h1M180 131.5h1M188 112.5h1M188 110.5h1M184 123.5h1M175 146.5h1M178 144.5h1M181 122.5h1M178 142.5h1M182 118.5h1M185 118.5h1M179 139.5h1M188 113.5h1M180 137.5h1M184 127.5h1M184 126.5h1M178 135.5h1M175 148.5h1M184 113.5h1M176 151.5h1M182 139.5h1M175 142.5h1M181 132.5h1M180 136.5h1M178 136.5h1M182 123.5h1M185 127.5h1M180 131.5h1M178 144.5h1M179 134.5h1M178 136.5h1M186 124.5h1M176 141.5h1M186 115.5h1M186 119.5h1M183 124.5h1M188 129.5h1M186 112.5h1M185 119.5h1M177 137.5h1M178 143.5h1M180 119.5h1M181 125.5h1M182 122.5h1M182 133.5h1M182 124.5h1M183 133.5h1M176 127.5h1M176 148.5h1M177 137.5h1M177 142.5h1M184 128.5h1M186 119.5h1M182 132.5h1M175 146.5h1M175 148.5h1M184 126.5h1M180 128.5h1M181 130.5h1M178 144.5h1M186 120.5h1M184 116.5h1M184 122.5h1M181 127.5h1M176 144.5h1M180 141.5h1M181 132.5h1M184 126.5h1M185 134.5h1M184 123.5h1M188 120.5h1M182 130.5h1M176 146.5h1M184 129.5h1M184 122.5h1M176 147.5h1M187 120.5h1M186 115.5h1M180 136.5h1M177 149.5h1M182 125.5h1M178 141.5h1M180 132.5h1M185 113.5h1M182 127.5h1M179 129.5h1M181 121.5h1M177 144.5h1M181 126.5h1M177 145.5h1M176 148.5h1M183 131.5h1M181 142.5h1M182 136.5h1M182 131.5h1M184 127.5h1M183 117.5h1M184 127.5h1M181 134.5h1M187 114.5h1M182 125.5h1M184 125.5h1M183 136.5h1M180 127.5h1M188 111.5h1M175 147.5h1M178 127.5h1M179 136.5h1M179 141.5h1M181 134.5h1M177 145.5h1M183 128.5h1M178 146.5h1M179 131.5h1M179 127.5h1M181 131.5h1M177 149.5h1M186 125.5h1M179 132.5h1M181 128.5h1M188 117.5h1M186 121.5h1M186 118.5h1M180 136.5h1M181 134.5h1M183 121.5h1M190 118.5h1M178 139.5h1M182 124.5h1M185 119.5h1M183 134.5h1M179 137.5h1M182 119.5h1M178 147.5h1M186 115.5h1M186 123.5h1M181 127.5h1M188 112.5h1M181 141.5h1M187 117.5h1M183 134.5h1M178 142.5h1M180 139.5h1M184 124.5h1M178 137.5h1M185 127.5h1M183 127.5h1M176 138.5h1M183 119.5h1M186 124.5h1M181 136.5h1M178 138.5h1M182 135.5h1M177 144.5h1M182 126.5h1M182 134.5h1M183 131.5h1M186 130.5h1M184 133.5h1M183 129.5h1M185 117.5h1M183 129.5h1M183 128.5h1M185 134.5h1M183 134.5h1M184 119.5h1M178 136.5h1M187 120.5h1M188 120.5h1M179 139.5h1M176 142.5h1M186 114.5h1M176 149.5h1M177 140.5h1M178 134.5h1M183 120.5h1M183 133.5h1M184 116.5h1M188 114.5h1M176 141.5h1M174 148.5h1M177 136.5h1M187 117.5h1M185 129.5h1M185 116.5h1M180 123.5h1M182 142.5h1M182 133.5h1M183 135.5h1M181 123.5h1M182 134.5h1M180 128.5h1M189 113.5h1M177 144.5h1M185 116.5h1M178 135.5h1M183 132.5h1M182 122.5h1M184 118.5h1M178 139.5h1M186 114.5h1M176 142.5h1M188 118.5h1M179 144.5h1M178 147.5h1M184 113.5h1M178 128.5h1M178 130.5h1M180 135.5h1M177 144.5h1M187 118.5h1M186 116.5h1M188 125.5h1M183 125.5h1M188 121.5h1M177 141.5h1M185 114.5h1M185 121.5h1M182 133.5h1M177 146.5h1M183 131.5h1M187 118.5h1M178 144.5h1M185 119.5h1M187 121.5h1M181 128.5h1M179 138.5h1M185 119.5h1M185 112.5h1M188 111.5h1M183 119.5h1M185 118.5h1M175 149.5h1M181 133.5h1M188 119.5h1M179 145.5h1M183 126.5h1M188 119.5h1M181 122.5h1M183 131.5h1M185 131.5h1M181 126.5h1M186 120.5h1M179 133.5h1M183 122.5h1M184 124.5h1M179 138.5h1M180 133.5h1M177 135.5h1M176 145.5h1M182 135.5h1M175 150.5h1M182 130.5h1M173 146.5h1M185 117.5h1M188 120.5h1M182 140.5h1M185 120.5h1M176 138.5h1M185 118.5h1M187 119.5h1M184 124.5h1M179 142.5h1M180 125.5h1M187 114.5h1M181 138.5h1M185 115.5h1M181 127.5h1M184 134.5h1M178 140.5h1M178 139.5h1M181 131.5h1M187 113.5h1M184 114.5h1M177 143.5h1M181 142.5h1M182 126.5h1M180 143.5h1M178 144.5h1M177 144.5h1M182 134.5h1M180 140.5h1M185 124.5h1M180 133.5h1M181 133.5h1M186 120.5h1M185 119.5h1M189 115.5h1M179 127.5h1M178 135.5h1M184 118.5h1M188 112.5h1M184 121.5h1M183 133.5h1M185 116.5h1M181 130.5h1M176 144.5h1M178 143.5h1M181 141.5h1M179 136.5h1M181 135.5h1M185 115.5h1M179 138.5h1M186 121.5h1M180 140.5h1M179 132.5h1M180 130.5h1M182 138.5h1M182 121.5h1M186 119.5h1M183 120.5h1M184 128.5h1M186 130.5h1M177 142.5h1M184 126.5h1M175 147.5h1M188 111.5h1M183 128.5h1M178 141.5h1M184 127.5h1M178 144.5h1M185 124.5h1M182 128.5h1M175 131.5h1M186 110.5h1M181 135.5h1M182 133.5h1M181 134.5h1M182 137.5h1M180 133.5h1M181 130.5h1M186 114.5h1M182 138.5h1M183 131.5h1M190 114.5h1M187 119.5h1M187 121.5h1M184 119.5h1M182 139.5h1M180 132.5h1M187 115.5h1M179 139.5h1M179 139.5h1M181 132.5h1M183 124.5h1M180 129.5h1M176 150.5h1M184 132.5h1M183 133.5h1M180 132.5h1M181 142.5h1M185 120.5h1M185 113.5h1M179 130.5h1M176 134.5h1M184 128.5h1M183 126.5h1M179 138.5h1M186 116.5h1M178 142.5h1M184 137.5h1M179 133.5h1M182 128.5h1M177 145.5h1M187 125.5h1M175 145.5h1M185 121.5h1M179 143.5h1M185 116.5h1M182 130.5h1M175 151.5h1M180 145.5h1M185 115.5h1M182 138.5h1M185 119.5h1M177 135.5h1M187 113.5h1M183 118.5h1M180 127.5h1M183 133.5h1M183 131.5h1M186 131.5h1M180 136.5h1M183 125.5h1M180 131.5h1M188 116.5h1M188 107.5h1M175 151.5h1M186 119.5h1M176 136.5h1M185 119.5h1M182 131.5h1M185 125.5h1M177 140.5h1M183 129.5h1M176 129.5h1M184 121.5h1M184 125.5h1M189 111.5h1M188 121.5h1M182 133.5h1M180 136.5h1M177 148.5h1M185 134.5h1M187 115.5h1M182 135.5h1M183 136.5h1M183 119.5h1M183 123.5h1M179 139.5h1M177 137.5h1M185 119.5h1M186 126.5h1M181 135.5h1M184 121.5h1M186 114.5h1M182 133.5h1M178 143.5h1M176 141.5h1M179 142.5h1M175 143.5h1M184 117.5h1M188 118.5h1M179 139.5h1M183 130.5h1M178 142.5h1M178 133.5h1M181 132.5h1M180 122.5h1M180 148.5h1M183 117.5h1M186 120.5h1M177 145.5h1M184 116.5h1M185 126.5h1M181 130.5h1M181 126.5h1M184 112.5h1M182 126.5h1M182 140.5h1M180 144.5h1M180 126.5h1M183 135.5h1M186 117.5h1M182 132.5h1M184 131.5h1M177 137.5h1M188 108.5h1M183 139.5h1M182 127.5h1M185 119.5h1M183 118.5h1M184 124.5h1M179 144.5h1M187 125.5h1M188 113.5h1M185 118.5h1M179 137.5h1M183 132.5h1M185 118.5h1M186 114.5h1M179 125.5h1M186 114.5h1M188 110.5h1M186 115.5h1M185 121.5h1M188 117.5h1M183 114.5h1M185 121.5h1M178 141.5h1M179 125.5h1M186 118.5h1M178 141.5h1M175 141.5h1M182 129.5h1M182 132.5h1M177 143.5h1M187 115.5h1M176 143.5h1M185 122.5h1M181 133.5h1M181 136.5h1M176 141.5h1M182 144.5h1M181 124.5h1M183 138.5h1M180 136.5h1M178 143.5h1M186 123.5h1M178 138.5h1M178 131.5h1M181 141.5h1M190 112.5h1M189 123.5h1M185 123.5h1M176 132.5h1M187 115.5h1M186 122.5h1M185 123.5h1M180 142.5h1M181 139.5h1M182 136.5h1M183 127.5h1M180 127.5h1M186 115.5h1M185 124.5h1M186 124.5h1M179 147.5h1M181 136.5h1M178 136.5h1M188 113.5h1M179 132.5h1M185 124.5h1M178 136.5h1M179 145.5h1M178 147.5h1M182 126.5h1M185 125.5h1M185 125.5h1M183 126.5h1M186 119.5h1M177 147.5h1M178 132.5h1M187 110.5h1M189 123.5h1M186 122.5h1M178 129.5h1M181 136.5h1M183 133.5h1M180 137.5h1M188 114.5h1M187 123.5h1M187 128.5h1M184 135.5h1M181 134.5h1M185 112.5h1M173 152.5h1M185 126.5h1M179 141.5h1M180 137.5h1M181 142.5h1M179 132.5h1M175 144.5h1M184 118.5h1M178 143.5h1M177 137.5h1M184 125.5h1M177 144.5h1M178 141.5h1M183 126.5h1M184 117.5h1M178 145.5h1M184 131.5h1M177 133.5h1M183 123.5h1M187 116.5h1M185 120.5h1M180 124.5h1M185 119.5h1M182 125.5h1M186 126.5h1M186 124.5h1M188 122.5h1M179 134.5h1M185 126.5h1M186 113.5h1M186 120.5h1M178 140.5h1M178 134.5h1M180 132.5h1M179 140.5h1M176 153.5h1M177 136.5h1M187 134.5h1M187 116.5h1M185 121.5h1M188 111.5h1M185 119.5h1M182 128.5h1M184 134.5h1M179 129.5h1M186 121.5h1M189 112.5h1M184 134.5h1M182 118.5h1M177 147.5h1M177 131.5h1M178 138.5h1M179 139.5h1M182 131.5h1M181 131.5h1M181 137.5h1M185 128.5h1M183 129.5h1M185 116.5h1M185 119.5h1M185 124.5h1M180 142.5h1M183 127.5h1M177 137.5h1M176 145.5h1M185 120.5h1M186 112.5h1M181 130.5h1M183 125.5h1M183 132.5h1M178 147.5h1M176 142.5h1M185 132.5h1M183 138.5h1M178 138.5h1M177 145.5h1M180 132.5h1M185 116.5h1M176 139.5h1M176 130.5h1M186 118.5h1M185 132.5h1M178 135.5h1M186 121.5h1M180 131.5h1M183 127.5h1M178 142.5h1M176 150.5h1M184 129.5h1M187 117.5h1M183 131.5h1M180 144.5h1M180 127.5h1M183 123.5h1M188 119.5h1M177 138.5h1M184 130.5h1M185 121.5h1M183 135.5h1M180 139.5h1M183 125.5h1M177 145.5h1M175 141.5h1M180 140.5h1M181 133.5h1M185 129.5h1M181 136.5h1M184 117.5h1M178 144.5h1M176 150.5h1M181 133.5h1M184 131.5h1M176 149.5h1M177 145.5h1M183 118.5h1M183 134.5h1M183 137.5h1M178 140.5h1M177 138.5h1M188 110.5h1M189 120.5h1M186 131.5h1M179 141.5h1M183 121.5h1M179 133.5h1M179 132.5h1M179 133.5h1M179 143.5h1M183 128.5h1M186 116.5h1M184 126.5h1M185 125.5h1M188 121.5h1M182 124.5h1M181 144.5h1M182 139.5h1M182 125.5h1M184 129.5h1M185 117.5h1M184 131.5h1M185 125.5h1M185 117.5h1M188 119.5h1M180 139.5h1M179 132.5h1M180 135.5h1M187 121.5h1M182 134.5h1M182 127.5h1M185 120.5h1M187 118.5h1M187 126.5h1M180 133.5h1M185 126.5h1M181 138.5h1M185 130.5h1M189 116.5h1M178 137.5h1M184 125.5h1M181 137.5h1M185 126.5h1M186 127.5h1M182 136.5h1M182 124.5h1M176 141.5h1M181 134.5h1M179 144.5h1M185 113.5h1M178 141.5h1M180 140.5h1M187 114.5h1M185 129.5h1M179 133.5h1M176 150.5h1M181 133.5h1M187 127.5h1M179 128.5h1M187 122.5h1M175 141.5h1M189 110.5h1M183 129.5h1M178 135.5h1M183 122.5h1M182 132.5h1M185 128.5h1M185 123.5h1M180 127.5h1M178 139.5h1M184 134.5h1M184 123.5h1M176 134.5h1M183 121.5h1M176 138.5h1M185 114.5h1M179 145.5h1M180 131.5h1M184 120.5h1M179 140.5h1M185 119.5h1M185 118.5h1M176 139.5h1M184 119.5h1M185 125.5h1M187 116.5h1M175 150.5h1M173 152.5h1M180 129.5h1M187 115.5h1M179 137.5h1M182 130.5h1M188 114.5h1M180 126.5h1M181 127.5h1M183 121.5h1M180 144.5h1M177 144.5h1M182 128.5h1M186 109.5h1M186 123.5h1M183 128.5h1M186 116.5h1M187 113.5h1M185 111.5h1M183 128.5h1M188 116.5h1M183 123.5h1M187 115.5h1M182 135.5h1M175 148.5h1M177 147.5h1M187 124.5h1M177 137.5h1M187 128.5h1M181 140.5h1M175 142.5h1M185 113.5h1M183 130.5h1M182 132.5h1M183 122.5h1M186 126.5h1M183 133.5h1M178 149.5h1M182 118.5h1M187 112.5h1M183 142.5h1M181 121.5h1M179 142.5h1M187 117.5h1M188 116.5h1M180 132.5h1M176 138.5h1M183 124.5h1M183 134.5h1M178 148.5h1M184 120.5h1M178 147.5h1M186 124.5h1M182 126.5h1M181 127.5h1M178 142.5h1M183 129.5h1M186 130.5h1M187 115.5h1M179 139.5h1M185 130.5h1M176 146.5h1M175 146.5h1M181 135.5h1M177 139.5h1M175 134.5h1M184 124.5h1M183 121.5h1M180 129.5h1M179 141.5h1M186 124.5h1M184 124.5h1M179 138.5h1M175 144.5h1M178 139.5h1M180 138.5h1M182 136.5h1M180 142.5h1M188 114.5h1M184 120.5h1M180 131.5h1M177 138.5h1M188 113.5h1M175 146.5h1M186 116.5h1M179 142.5h1M188 113.5h1M176 150.5h1M181 124.5h1M188 110.5h1M187 115.5h1M183 132.5h1M179 136.5h1M182 126.5h1M181 124.5h1M180 126.5h1M184 123.5h1M182 129.5h1M179 139.5h1M176 141.5h1M188 121.5h1M176 138.5h1M187 116.5h1M181 131.5h1M183 128.5h1M182 131.5h1M181 127.5h1M188 114.5h1M179 140.5h1M187 116.5h1M182 129.5h1M176 145.5h1M189 125.5h1M187 113.5h1M179 134.5h1M186 135.5h1M185 113.5h1M180 140.5h1M188 127.5h1M178 144.5h1M182 134.5h1M184 127.5h1M175 144.5h1M186 121.5h1M184 133.5h1M187 113.5h1M177 140.5h1M179 144.5h1M189 116.5h1M186 118.5h1M182 124.5h1M179 142.5h1M177 141.5h1M175 143.5h1M179 143.5h1M182 125.5h1M179 126.5h1M187 114.5h1M177 144.5h1M185 120.5h1M181 139.5h1M180 134.5h1M187 115.5h1M184 125.5h1M184 129.5h1M177 139.5h1M186 113.5h1M180 144.5h1M188 120.5h1M184 125.5h1M180 138.5h1M180 125.5h1M185 131.5h1M179 142.5h1M182 124.5h1M188 115.5h1M186 114.5h1M184 121.5h1M183 128.5h1M185 123.5h1M185 133.5h1M185 122.5h1M185 114.5h1M184 125.5h1M182 124.5h1M178 133.5h1M182 121.5h1M178 138.5h1M176 132.5h1M184 124.5h1M183 121.5h1M184 130.5h1M176 139.5h1M180 135.5h1M181 124.5h1M187 112.5h1M178 140.5h1M182 136.5h1M185 122.5h1M187 114.5h1M175 148.5h1M182 129.5h1M181 126.5h1M175 147.5h1M180 129.5h1M175 148.5h1M185 118.5h1M181 120.5h1M185 122.5h1M181 130.5h1M185 120.5h1M188 120.5h1M190 125.5h1M176 135.5h1M177 142.5h1M183 123.5h1M177 140.5h1M178 142.5h1M178 142.5h1M184 126.5h1M186 119.5h1M188 114.5h1M188 111.5h1M177 147.5h1M180 132.5h1M183 128.5h1M188 116.5h1M183 127.5h1M187 129.5h1M178 147.5h1M186 111.5h1M182 124.5h1M185 110.5h1M180 145.5h1M186 129.5h1M182 141.5h1M181 129.5h1M180 125.5h1M176 142.5h1M182 138.5h1M186 124.5h1M186 133.5h1M183 124.5h1M188 119.5h1M191 128.5h1M171 144.5h1M183 123.5h1M187 114.5h1M188 116.5h1M184 117.5h1M187 124.5h1M175 136.5h1M185 125.5h1M183 127.5h1M177 133.5h1M188 114.5h1M188 126.5h1M182 125.5h1M175 140.5h1M186 118.5h1M187 112.5h1M179 134.5h1M190 122.5h1M181 138.5h1M189 119.5h1M178 120.5h1M178 128.5h1M185 114.5h1M178 135.5h1M179 130.5h1M184 123.5h1M189 115.5h1M190 116.5h1M180 133.5h1M181 134.5h1M190 122.5h1M175 137.5h1" stroke="#000" stroke-width="1" fill="none" opacity="1.0"/>
<path d="M235 150.5h1M232 142.5h1M231 151.5h1M243 130.5h1M231 149.5h1M242 129.5h1M235 153.5h1M245 116.5h1M243 125.5h1M231 146.5h1M239 116.5h1M244 127.5h1M237 138.5h1M244 144.5h1M243 136.5h1M243 121.5h1M241 127.5h1M237 133.5h1M238 136.5h1M235 140.5h1M236 140.5h1M243 125.5h1M239 137.5h1M239 133.5h1M228 149.5h1M229 148.5h1M231 146.5h1M227 143.5h1M229 156.5h1M233 138.5h1M235 121.5h1M236 129.5h1M237 125.5h1M228 143.5h1M237 133.5h1M231 134.5h1M239 129.5h1M230 138.5h1M233 143.5h1M236 151.5h1M235 128.5h1M239 140.5h1M242 145.5h1M244 128.5h1M230 143.5h1M246 122.5h1M246 136.5h1M242 121.5h1M245 139.5h1M241 149.5h1M228 140.5h1M242 126.5h1M240 133.5h1M237 131.5h1M239 124.5h1M241 133.5h1M244 150.5h1M236 138.5h1M239 147.5h1M233 139.5h1M243 122.5h1M243 129.5h1M230 143.5h1M229 154.5h1M236 154.5h1M243 127.5h1M245 118.5h1M247 127.5h1M237 136.5h1M242 142.5h1M236 145.5h1M232 146.5h1M237 133.5h1M243 125.5h1M234 137.5h1M232 152.5h1M242 147.5h1M238 131.5h1M236 152.5h1M237 150.5h1M242 117.5h1M239 129.5h1M231 150.5h1M236 124.5h1M242 134.5h1M243 133.5h1M241 116.5h1M246 130.5h1M233 154.5h1M238 117.5h1M231 146.5h1M242 134.5h1M227 143.5h1M238 143.5h1M241 131.5h1M245 130.5h1M230 147.5h1M242 139.5h1M235 155.5h1M231 147.5h1M238 142.5h1M232 156.5h1M230 143.5h1M235 151.5h1M241 122.5h1M230 139.5h1M234 152.5h1M234 146.5h1M236 149.5h1M237 144.5h1M234 140.5h1M231 143.5h1M244 134.5h1M238 151.5h1M231 145.5h1M243 127.5h1M239 137.5h1M234 150.5h1M239 143.5h1M233 149.5h1M243 151.5h1M236 131.5h1M242 125.5h1M233 123.5h1M238 139.5h1M242 111.5h1M230 120.5h1M234 142.5h1M235 151.5h1M233 139.5h1M236 142.5h1M240 120.5h1M233 153.5h1M225 145.5h1M239 137.5h1M232 135.5h1M236 140.5h1M240 124.5h1M235 140.5h1M241 134.5h1M237 123.5h1M233 145.5h1M250 127.5h1M246 127.5h1M239 142.5h1M234 152.5h1M239 146.5h1M238 127.5h1M230 141.5h1M235 141.5h1M240 116.5h1M238 140.5h1M230 144.5h1M241 120.5h1M233 151.5h1M243 137.5h1M243 117.5h1M233 149.5h1M236 127.5h1M247 131.5h1M236 140.5h1M234 152.5h1M240 126.5h1M235 147.5h1M236 130.5h1M245 127.5h1M243 142.5h1M240 123.5h1M243 136.5h1M238 132.5h1M230 152.5h1M239 137.5h1M242 147.5h1M239 142.5h1M232 133.5h1M239 147.5h1M241 138.5h1M237 143.5h1M240 144.5h1M232 148.5h1M240 131.5h1M236 150.5h1M234 141.5h1M233 137.5h1M238 145.5h1M247 142.5h1M228 138.5h1M233 147.5h1M228 143.5h1M239 124.5h1M229 148.5h1M233 151.5h1M231 137.5h1M232 147.5h1M234 127.5h1M242 142.5h1M236 139.5h1M236 141.5h1M236 134.5h1M236 141.5h1M231 153.5h1M236 140.5h1M230 138.5h1M236 153.5h1M235 139.5h1M233 146.5h1M239 141.5h1M242 123.5h1M237 151.5h1M233 133.5h1M232 147.5h1M230 152.5h1M226 141.5h1M235 134.5h1M229 151.5h1M239 131.5h1M226 134.5h1M233 154.5h1M238 145.5h1M229 145.5h1M244 117.5h1M232 153.5h1M239 133.5h1M234 138.5h1M222 137.5h1M230 140.5h1M238 152.5h1M236 145.5h1M239 120.5h1M240 124.5h1M238 133.5h1M234 153.5h1M237 141.5h1M236 132.5h1M241 141.5h1M242 129.5h1M237 124.5h1M235 142.5h1M237 122.5h1M236 142.5h1M234 123.5h1M238 140.5h1M250 139.5h1M241 131.5h1M241 117.5h1M232 132.5h1M228 132.5h1M233 120.5h1M233 134.5h1M234 131.5h1M242 130.5h1M240 114.5h1M236 128.5h1M237 125.5h1M237 146.5h1M237 134.5h1M241 128.5h1M237 145.5h1M244 137.5h1M234 150.5h1M234 142.5h1M233 154.5h1M244 128.5h1M242 115.5h1M237 153.5h1M243 128.5h1M231 152.5h1M237 140.5h1M232 146.5h1M233 155.5h1M243 126.5h1M234 146.5h1M243 132.5h1M232 119.5h1M237 133.5h1M236 140.5h1M230 127.5h1M235 138.5h1M236 123.5h1M234 134.5h1M241 117.5h1M237 154.5h1M233 136.5h1M230 142.5h1M240 143.5h1M245 120.5h1M236 151.5h1M231 128.5h1M237 138.5h1M238 136.5h1M244 129.5h1M232 146.5h1M239 139.5h1M221 142.5h1M235 127.5h1M237 130.5h1M239 119.5h1M240 135.5h1M234 133.5h1M238 127.5h1M234 153.5h1M232 152.5h1M233 117.5h1M240 121.5h1M236 137.5h1M237 135.5h1M245 148.5h1M235 142.5h1M243 132.5h1M239 132.5h1M239 127.5h1M244 146.5h1M231 149.5h1M236 150.5h1M240 117.5h1M235 147.5h1M242 115.5h1M241 137.5h1M240 126.5h1M237 152.5h1M234 148.5h1M233 142.5h1M239 128.5h1M239 151.5h1M240 141.5h1M230 138.5h1M244 128.5h1M225 142.5h1M235 151.5h1M238 144.5h1M235 144.5h1M238 137.5h1M234 147.5h1M232 145.5h1M237 119.5h1M235 131.5h1M235 135.5h1M236 134.5h1M227 140.5h1M243 141.5h1M237 152.5h1M248 119.5h1M236 145.5h1M241 145.5h1M234 137.5h1M236 148.5h1M238 135.5h1M234 128.5h1M235 137.5h1M236 139.5h1M230 150.5h1M236 146.5h1M236 143.5h1M232 141.5h1M230 143.5h1M236 152.5h1M236 151.5h1M237 130.5h1M238 144.5h1M240 132.5h1M230 147.5h1M234 150.5h1M233 147.5h1M239 139.5h1M233 138.5h1M230 139.5h1M235 126.5h1M232 131.5h1M241 124.5h1M233 124.5h1M237 147.5h1M236 139.5h1M244 135.5h1M242 139.5h1M233 142.5h1M239 146.5h1M241 145.5h1M238 145.5h1M237 146.5h1M232 150.5h1M240 127.5h1M240 150.5h1M234 132.5h1M243 128.5h1M232 153.5h1M240 114.5h1M242 131.5h1M248 125.5h1M244 136.5h1M250 121.5h1M245 126.5h1M241 148.5h1M236 144.5h1M237 133.5h1M239 133.5h1M240 127.5h1M241 120.5h1M236 139.5h1M233 152.5h1M239 127.5h1M234 128.5h1M231 132.5h1M236 137.5h1M247 138.5h1M243 140.5h1M243 113.5h1M235 145.5h1M235 155.5h1M227 150.5h1M242 147.5h1M227 131.5h1M237 143.5h1M230 149.5h1M244 145.5h1M237 145.5h1M239 149.5h1M230 127.5h1M234 144.5h1M236 153.5h1M232 128.5h1M241 148.5h1M237 144.5h1M234 146.5h1M245 147.5h1M232 141.5h1M240 130.5h1M240 122.5h1M233 134.5h1M248 131.5h1M227 148.5h1M234 151.5h1M240 140.5h1M228 140.5h1M234 150.5h1M236 134.5h1M234 140.5h1M232 138.5h1M250 135.5h1M241 124.5h1M243 118.5h1M223 131.5h1M230 146.5h1M233 129.5h1M238 123.5h1M237 129.5h1M247 116.5h1M237 130.5h1M240 130.5h1M239 140.5h1M255 141.5h1M232 146.5h1M235 137.5h1M249 118.5h1M244 124.5h1M234 135.5h1M236 146.5h1M234 136.5h1M242 134.5h1M229 144.5h1M232 146.5h1M226 144.5h1M242 141.5h1M246 125.5h1M244 143.5h1M234 134.5h1M230 153.5h1M235 147.5h1M239 127.5h1M238 152.5h1M241 145.5h1M225 150.5h1M240 129.5h1M235 138.5h1M231 142.5h1M232 152.5h1M241 122.5h1M238 134.5h1M234 131.5h1M223 144.5h1M230 153.5h1M235 122.5h1M245 130.5h1M247 129.5h1M232 151.5h1M231 146.5h1M234 151.5h1M246 126.5h1M235 141.5h1M229 144.5h1M241 136.5h1M226 138.5h1M233 124.5h1M234 144.5h1M235 138.5h1M232 153.5h1M241 136.5h1M240 151.5h1M237 152.5h1M241 136.5h1M245 122.5h1M235 151.5h1M241 150.5h1M241 121.5h1M243 134.5h1M246 124.5h1M241 130.5h1M242 136.5h1M241 120.5h1M238 138.5h1M228 140.5h1M233 151.5h1M239 127.5h1M237 132.5h1M228 136.5h1M228 152.5h1M237 124.5h1M240 125.5h1M230 141.5h1M233 135.5h1M242 134.5h1M241 139.5h1M235 146.5h1M228 151.5h1M231 137.5h1M233 142.5h1M235 128.5h1M242 122.5h1M237 149.5h1M241 122.5h1M243 135.5h1M241 126.5h1M232 152.5h1M232 142.5h1M244 128.5h1M234 148.5h1M236 149.5h1M243 115.5h1M234 132.5h1M250 148.5h1M235 155.5h1M237 145.5h1M233 143.5h1M227 146.5h1M238 144.5h1M241 145.5h1M237 143.5h1M238 143.5h1M237 140.5h1M229 151.5h1M239 148.5h1M242 120.5h1M244 124.5h1M246 139.5h1M240 150.5h1M238 128.5h1M242 134.5h1M234 134.5h1M231 142.5h1M228 146.5h1M243 115.5h1M238 151.5h1M236 152.5h1M229 151.5h1M242 138.5h1M242 125.5h1M238 138.5h1M241 136.5h1M235 151.5h1M244 123.5h1M237 146.5h1M233 140.5h1M229 133.5h1M233 146.5h1M233 149.5h1M227 134.5h1M236 124.5h1M242 123.5h1M233 141.5h1M230 151.5h1M233 147.5h1M235 133.5h1M235 141.5h1M238 146.5h1M237 145.5h1M237 142.5h1M239 144.5h1M242 132.5h1M234 138.5h1M244 115.5h1M240 142.5h1M242 128.5h1M246 137.5h1M243 122.5h1M233 151.5h1M241 140.5h1M243 135.5h1M235 140.5h1M229 138.5h1M233 148.5h1M242 129.5h1M232 145.5h1M234 142.5h1M238 141.5h1M230 142.5h1M237 155.5h1M241 119.5h1M242 136.5h1M243 130.5h1M236 136.5h1M234 144.5h1M247 127.5h1M238 148.5h1M242 112.5h1M233 145.5h1M240 127.5h1M232 147.5h1M246 127.5h1M237 151.5h1M247 120.5h1M235 153.5h1M241 132.5h1M244 134.5h1M253 137.5h1M235 152.5h1M236 138.5h1M238 122.5h1M230 149.5h1M233 146.5h1M238 131.5h1M230 148.5h1M228 144.5h1M233 137.5h1M234 137.5h1M242 126.5h1M239 143.5h1M238 147.5h1M229 144.5h1M235 142.5h1M240 135.5h1M229 149.5h1M234 151.5h1M230 144.5h1M235 138.5h1M252 129.5h1M239 137.5h1M228 148.5h1M233 143.5h1M235 148.5h1M244 116.5h1M231 150.5h1M237 143.5h1M243 128.5h1M234 149.5h1M237 117.5h1M229 140.5h1M240 120.5h1M235 152.5h1M234 143.5h1M246 128.5h1M247 140.5h1M233 137.5h1M234 141.5h1M230 152.5h1M233 153.5h1M231 153.5h1M241 133.5h1M237 142.5h1M238 125.5h1M243 134.5h1M236 142.5h1M232 140.5h1M235 117.5h1M233 135.5h1M242 137.5h1M232 150.5h1M237 151.5h1M238 119.5h1M236 129.5h1M228 150.5h1M233 148.5h1M229 128.5h1M230 153.5h1M236 151.5h1M246 131.5h1M247 131.5h1M234 128.5h1M241 133.5h1M238 130.5h1M232 151.5h1M235 152.5h1M231 144.5h1M227 127.5h1M245 132.5h1M242 145.5h1M231 133.5h1M235 146.5h1M238 144.5h1M237 153.5h1M240 130.5h1M237 134.5h1M244 113.5h1M239 143.5h1M239 132.5h1M238 145.5h1M240 146.5h1M237 150.5h1M248 135.5h1M242 134.5h1M228 133.5h1M238 136.5h1M236 149.5h1M235 146.5h1M238 130.5h1M236 131.5h1M233 141.5h1M233 153.5h1M234 144.5h1M234 144.5h1M238 123.5h1M237 133.5h1M240 125.5h1M237 145.5h1M233 142.5h1M233 127.5h1M242 123.5h1M237 132.5h1M240 130.5h1M231 134.5h1M231 131.5h1M233 121.5h1M232 135.5h1M234 140.5h1M225 144.5h1M229 152.5h1M235 138.5h1M233 134.5h1M232 133.5h1M247 126.5h1M241 135.5h1M232 150.5h1M235 146.5h1M242 126.5h1M230 152.5h1M226 139.5h1M239 147.5h1M234 143.5h1M236 132.5h1M239 153.5h1M241 133.5h1M236 129.5h1M236 145.5h1M237 133.5h1M231 133.5h1M249 144.5h1M230 145.5h1M237 128.5h1M235 144.5h1M248 135.5h1M242 146.5h1M238 137.5h1M235 149.5h1M251 136.5h1M248 133.5h1M236 130.5h1M239 130.5h1M238 125.5h1M240 118.5h1M238 136.5h1M240 150.5h1M232 143.5h1M226 130.5h1M228 150.5h1M232 122.5h1M233 140.5h1M241 120.5h1M227 147.5h1M226 128.5h1M242 123.5h1M239 131.5h1M231 144.5h1M233 148.5h1M236 133.5h1M237 148.5h1M239 145.5h1M233 117.5h1M230 148.5h1M244 125.5h1M241 131.5h1M231 147.5h1M235 138.5h1M233 145.5h1M230 147.5h1M231 145.5h1M238 116.5h1M230 134.5h1M237 129.5h1M239 118.5h1M238 144.5h1M233 137.5h1M232 119.5h1M234 149.5h1M230 142.5h1M240 126.5h1M237 133.5h1M234 125.5h1M232 128.5h1M238 144.5h1M236 120.5h1M238 136.5h1M239 141.5h1M231 143.5h1M231 147.5h1M235 136.5h1M232 151.5h1M234 143.5h1M229 147.5h1M233 143.5h1M235 132.5h1M242 121.5h1M237 137.5h1M229 142.5h1M235 144.5h1M229 147.5h1M230 142.5h1M239 129.5h1M224 128.5h1M238 123.5h1M233 152.5h1M236 139.5h1M234 156.5h1M235 149.5h1M233 147.5h1M238 135.5h1M233 148.5h1M232 144.5h1M237 134.5h1M237 145.5h1M242 146.5h1M243 123.5h1M238 141.5h1M232 150.5h1M232 141.5h1M230 147.5h1M240 118.5h1M236 150.5h1M244 118.5h1M233 148.5h1M232 133.5h1M234 150.5h1M237 141.5h1M233 150.5h1M241 140.5h1M244 128.5h1M244 137.5h1M240 138.5h1M249 119.5h1M243 114.5h1M236 139.5h1M237 135.5h1M229 145.5h1M236 144.5h1M244 120.5h1M234 137.5h1M241 116.5h1M237 112.5h1M239 151.5h1M237 124.5h1M239 134.5h1M243 135.5h1M236 136.5h1M242 134.5h1M237 148.5h1M238 125.5h1M238 148.5h1M243 139.5h1M241 124.5h1M237 148.5h1M242 128.5h1M242 140.5h1M238 134.5h1M239 123.5h1M230 145.5h1M235 138.5h1M245 119.5h1M243 131.5h1M238 123.5h1M237 139.5h1M229 154.5h1M232 144.5h1M229 154.5h1M227 138.5h1M235 122.5h1M230 146.5h1M231 140.5h1M239 142.5h1M233 148.5h1M231 147.5h1M235 150.5h1M236 139.5h1M230 128.5h1M239 142.5h1M236 133.5h1M235 140.5h1M243 112.5h1M241 115.5h1M239 133.5h1M237 133.5h1M230 133.5h1M238 145.5h1M235 148.5h1M228 142.5h1M237 137.5h1M232 134.5h1M244 122.5h1M228 148.5h1M243 136.5h1M231 139.5h1M243 122.5h1M246 109.5h1M247 138.5h1M238 136.5h1M234 149.5h1M238 141.5h1M245 127.5h1M241 126.5h1M241 135.5h1M251 129.5h1M238 150.5h1M237 136.5h1M246 122.5h1M238 142.5h1M234 151.5h1M239 137.5h1M235 122.5h1M243 118.5h1M236 142.5h1M245 131.5h1M239 150.5h1M233 125.5h1M240 118.5h1M238 123.5h1M241 126.5h1M234 144.5h1M237 149.5h1M232 122.5h1M235 151.5h1M236 148.5h1M239 135.5h1M240 147.5h1M232 132.5h1M236 122.5h1M236 135.5h1M240 136.5h1M242 130.5h1M232 139.5h1M235 145.5h1M240 121.5h1M233 125.5h1M245 132.5h1M240 143.5h1M243 129.5h1M229 154.5h1M240 123.5h1M233 143.5h1M241 132.5h1M229 132.5h1M236 149.5h1M236 140.5h1M245 124.5h1M237 127.5h1M236 145.5h1M236 130.5h1M227 141.5h1M232 143.5h1M239 142.5h1M240 143.5h1M234 141.5h1M235 137.5h1M234 145.5h1M241 122.5h1M240 124.5h1M238 123.5h1M237 141.5h1M249 137.5h1M240 129.5h1M237 152.5h1M227 142.5h1M241 126.5h1M230 151.5h1M247 127.5h1M242 134.5h1M235 156.5h1M234 146.5h1M242 122.5h1M227 148.5h1M233 152.5h1M229 151.5h1M240 140.5h1M242 115.5h1M233 150.5h1M231 137.5h1M238 145.5h1M238 132.5h1M235 141.5h1M229 147.5h1M231 151.5h1M235 148.5h1M238 133.5h1M241 140.5h1M237 139.5h1M237 137.5h1M235 140.5h1M239 144.5h1M232 137.5h1M232 139.5h1M239 136.5h1M227 135.5h1M238 147.5h1M238 142.5h1M231 148.5h1M231 143.5h1M233 141.5h1M238 154.5h1M241 145.5h1M233 133.5h1M242 138.5h1M237 140.5h1M235 147.5h1M232 144.5h1M240 145.5h1M237 139.5h1M233 142.5h1M234 150.5h1M238 146.5h1M230 136.5h1M239 145.5h1M235 150.5h1M233 153.5h1M240 133.5h1M233 141.5h1M233 144.5h1M242 140.5h1M241 140.5h1M228 135.5h1M237 141.5h1M240 145.5h1M229 142.5h1M235 150.5h1M236 141.5h1M237 147.5h1M229 144.5h1M234 139.5h1M232 146.5h1M240 145.5h1M234 141.5h1M236 133.5h1M236 154.5h1M236 149.5h1M233 145.5h1M239 149.5h1M230 134.5h1M237 146.5h1M236 147.5h1M238 146.5h1M230 147.5h1M235 136.5h1M234 145.5h1M239 145.5h1M240 151.5h1M236 143.5h1M239 145.5h1M242 146.5h1M229 148.5h1M232 144.5h1M238 145.5h1M238 144.5h1M237 144.5h1M237 146.5h1M239 137.5h1M234 142.5h1M232 143.5h1M240 145.5h1M236 143.5h1M234 135.5h1M238 146.5h1M243 140.5h1M236 139.5h1M233 145.5h1M237 147.5h1M232 145.5h1M232 146.5h1M236 145.5h1M235 146.5h1M237 143.5h1M236 138.5h1M240 143.5h1M237 140.5h1M233 145.5h1M241 143.5h1M231 141.5h1M239 134.5h1M242 152.5h1M237 127.5h1M234 138.5h1M224 146.5h1M235 142.5h1M237 143.5h1M236 144.5h1M233 146.5h1M241 135.5h1M239 138.5h1M236 146.5h1M241 150.5h1M232 145.5h1M240 152.5h1M235 135.5h1M240 144.5h1M234 145.5h1M235 149.5h1M239 135.5h1M238 140.5h1M234 135.5h1M234 137.5h1M230 140.5h1M231 131.5h1M240 142.5h1M239 143.5h1M237 150.5h1M233 136.5h1M233 152.5h1M241 141.5h1M240 145.5h1M239 143.5h1M227 143.5h1M237 138.5h1M232 145.5h1M239 146.5h1M233 149.5h1M231 135.5h1M237 138.5h1M231 144.5h1M238 145.5h1M236 145.5h1M235 138.5h1M238 150.5h1M237 146.5h1M237 140.5h1M234 135.5h1M240 140.5h1M236 139.5h1M235 139.5h1M239 146.5h1M236 142.5h1M236 144.5h1M234 143.5h1M236 143.5h1M235 145.5h1M240 143.5h1M238 142.5h1M233 138.5h1M234 140.5h1M236 135.5h1M229 142.5h1M232 136.5h1M235 142.5h1M239 144.5h1M227 144.5h1M235 146.5h1M236 142.5h1M232 147.5h1M230 138.5h1M234 135.5h1M232 139.5h1M235 144.5h1M241 145.5h1M238 149.5h1M231 148.5h1M236 137.5h1M239 144.5h1M230 146.5h1M234 141.5h1M231 141.5h1M237 144.5h1M237 149.5h1M234 152.5h1M237 148.5h1M234 136.5h1M235 150.5h1M234 140.5h1M234 141.5h1M240 141.5h1M233 141.5h1M236 146.5h1M236 141.5h1M238 137.5h1M234 140.5h1M237 141.5h1M236 143.5h1M236 153.5h1M240 150.5h1M237 143.5h1M237 146.5h1M237 140.5h1M234 137.5h1M237 137.5h1M232 141.5h1M230 129.5h1M236 136.5h1M230 153.5h1M238 136.5h1M234 142.5h1M244 141.5h1M235 137.5h1M234 143.5h1M235 144.5h1M228 145.5h1M241 142.5h1M224 139.5h1M233 139.5h1M230 140.5h1M236 151.5h1M232 130.5h1M229 145.5h1M232 138.5h1M235 152.5h1M239 146.5h1M231 143.5h1M239 153.5h1M235 146.5h1M240 138.5h1M236 148.5h1M235 149.5h1M241 145.5h1M232 145.5h1M234 136.5h1M238 132.5h1M234 134.5h1M235 146.5h1M229 144.5h1M240 145.5h1M239 145.5h1M234 149.5h1M243 138.5h1M240 141.5h1M227 139.5h1M237 143.5h1M239 138.5h1M236 138.5h1M241 149.5h1M241 143.5h1M227 144.5h1M232 141.5h1M239 148.5h1M241 142.5h1M234 140.5h1M230 138.5h1M231 147.5h1M242 140.5h1M235 131.5h1M234 138.5h1M229 143.5h1M229 136.5h1M239 148.5h1M232 144.5h1M241 142.5h1M236 154.5h1M235 143.5h1M239 138.5h1M234 143.5h1M237 148.5h1M243 148.5h1M239 143.5h1M229 137.5h1M235 149.5h1M224 146.5h1M233 142.5h1M240 148.5h1M241 153.5h1M235 142.5h1M233 151.5h1M241 149.5h1M234 142.5h1M234 143.5h1M235 143.5h1M237 138.5h1M231 141.5h1M235 141.5h1M235 142.5h1M241 137.5h1M237 140.5h1M233 140.5h1M233 148.5h1M236 142.5h1M234 135.5h1M239 145.5h1M226 137.5h1M232 140.5h1M237 128.5h1M238 140.5h1M228 152.5h1M245 146.5h1M234 138.5h1M226 141.5h1M241 148.5h1M242 136.5h1M226 149.5h1M227 138.5h1M226 141.5h1M242 152.5h1M235 127.5h1M242 131.5h1M211 138.5h1M227 140.5h1M231 129.5h1M225 139.5h1M233 129.5h1M223 129.5h1M236 134.5h1M234 154.5h1M238 136.5h1M230 144.5h1M236 142.5h1M225 156.5h1M244 141.5h1M219 135.5h1M238 131.5h1M226 126.5h1M239 155.5h1M246 143.5h1M240 129.5h1M245 148.5h1M221 149.5h1M217 154.5h1M231 145.5h1M228 146.5h1M227 140.5h1M238 141.5h1M234 145.5h1M246 126.5h1M230 136.5h1M243 129.5h1M242 144.5h1M239 118.5h1M233 140.5h1" stroke="#000" stroke-width="1" fill="none" opacity="1.0"/>
<polygon points="69,84 79.9,67.5 82.3,60.5 93.5,60.2 92.4,83.2" fill="none" stroke="#999" stroke-width="0.9" stroke-linejoin="round"/>
<polygon points="124.5,81.2 135.2,57.7 150.7,57.3 146.6,80.2" fill="none" stroke="#999" stroke-width="0.9" stroke-linejoin="round"/>
<polygon points="179.1,80.6 186.7,55.6 199,55.2 195.5,80.6" fill="none" stroke="#999" stroke-width="0.9" stroke-linejoin="round"/>
<polygon points="237.0,87.8 242.0,81.0 242.2,67.7 260.2,67.3 256.8,88.3" fill="none" stroke="#3a3a3a" stroke-width="1.3" stroke-linejoin="round"/>
<polygon points="69.6,152.9 81,141 83.4,130 92.9,129.7 92.5,151.7" fill="none" stroke="#999" stroke-width="0.9" stroke-linejoin="round"/>
<polygon points="124.6,152.6 140.5,129.7 151,129.7 146.7,151.7" fill="none" stroke="#999" stroke-width="0.9" stroke-linejoin="round"/>
<polygon points="179.6,151.2 189.3,125.8 198.7,125.3 196.4,150.8" fill="none" stroke="#999" stroke-width="0.9" stroke-linejoin="round"/>
<polygon points="237.0,153.2 244.0,145.0 245.0,132.5 259.7,132.3 256.8,153.5" fill="none" stroke="#3a3a3a" stroke-width="1.3" stroke-linejoin="round"/>
<rect x="45.75" y="27.25" width="217.35" height="131.50" fill="none" stroke="#444" stroke-width="1.3"/>
<line x1="100.25" y1="27.25" x2="100.25" y2="158.75" stroke="#444" stroke-width="1.3" />
<line x1="155" y1="27.25" x2="155" y2="158.75" stroke="#444" stroke-width="1.3" />
<line x1="209.4" y1="27.25" x2="209.4" y2="158.75" stroke="#444" stroke-width="1.3" />
<line x1="45.75" y1="98.1" x2="263.1" y2="98.1" stroke="#444" stroke-width="1.3" />
<text x="93" y="37.6" font-size="7" font-weight="normal" text-anchor="end" fill="#222" stroke="#222" stroke-width="0.22" >0.01</text>
<text x="147.8" y="37.6" font-size="7" font-weight="normal" text-anchor="end" fill="#222" stroke="#222" stroke-width="0.22" >0.01</text>
<text x="207.6" y="37.6" font-size="7" font-weight="normal" text-anchor="end" fill="#222" stroke="#222" stroke-width="0.22" >0.01</text>
<text x="259.2" y="37.6" font-size="7" font-weight="normal" text-anchor="end" fill="#222" stroke="#222" stroke-width="0.22" >0.01</text>
<text x="92" y="106.9" font-size="7" font-weight="normal" text-anchor="end" fill="#222" stroke="#222" stroke-width="0.22" >5.11</text>
<text x="147.6" y="106.9" font-size="7" font-weight="normal" text-anchor="end" fill="#222" stroke="#222" stroke-width="0.22" >6.17</text>
<text x="207.9" y="106.9" font-size="7" font-weight="normal" text-anchor="end" fill="#222" stroke="#222" stroke-width="0.22" >2.72</text>
<text x="260.5" y="106.9" font-size="7" font-weight="normal" text-anchor="end" fill="#222" stroke="#222" stroke-width="0.22" >7.85</text>
<line x1="38.4" y1="43.5" x2="38.4" y2="126.7" stroke="#111" stroke-width="1.3" />
<polyline points="34.9,47.2 38.4,43.2 42,47.2" fill="none" stroke="#000" stroke-width="1.8" stroke-linecap="round" stroke-linejoin="miter"/>
<text transform="translate(40.8,140.8) rotate(-90)" font-size="8" font-weight="bold" text-anchor="middle" fill="#111">SSC</text>
<text x="49.2" y="171.6" font-size="8" font-weight="bold" text-anchor="start" fill="#111" >ALDEFLUOR</text>
<line x1="106.2" y1="169" x2="189" y2="169" stroke="#555" stroke-width="1.5" />
<polyline points="185.2,165.5 189.4,168.7 185.2,172" fill="none" stroke="#000" stroke-width="1.8" stroke-linecap="round"/>
<text x="279.9" y="10.7" font-size="14" font-weight="bold" text-anchor="start" fill="#000" >B</text>
<rect x="353.60" y="1.70" width="7.50" height="7.00" fill="#000" stroke="none" stroke-width="1"/>
<text x="367.1" y="8.7" font-size="8" font-weight="normal" text-anchor="start" fill="#111" stroke="#111" stroke-width="0.22" >ALDH<tspan font-size="5.2" dy="-2.6">neg</tspan></text>
<rect x="415.10" y="2.50" width="6.50" height="5.80" fill="#fff" stroke="#222" stroke-width="1"/>
<text x="427.1" y="8.7" font-size="8" font-weight="normal" text-anchor="start" fill="#111" stroke="#111" stroke-width="0.22" >ALDH<tspan font-size="4.6" dy="-3">+</tspan></text>
<line x1="334.7" y1="28.4" x2="334.7" y2="119.5" stroke="#777" stroke-width="0.9" />
<line x1="334.7" y1="119.5" x2="409.7" y2="119.5" stroke="#777" stroke-width="0.9" />
<line x1="332.5" y1="119.5" x2="334.7" y2="119.5" stroke="#777" stroke-width="0.8" />
<text x="327.0" y="122.5" font-size="8.4" font-weight="normal" text-anchor="end" fill="#222" stroke="#222" stroke-width="0.22" >0</text>
<line x1="332.5" y1="109.4888888888889" x2="334.7" y2="109.4888888888889" stroke="#777" stroke-width="0.8" />
<text x="327.0" y="112.49" font-size="8.4" font-weight="normal" text-anchor="end" fill="#222" stroke="#222" stroke-width="0.22" >5</text>
<line x1="332.5" y1="99.47777777777777" x2="334.7" y2="99.47777777777777" stroke="#777" stroke-width="0.8" />
<text x="327.0" y="102.48" font-size="8.4" font-weight="normal" text-anchor="end" fill="#222" stroke="#222" stroke-width="0.22" >10</text>
<line x1="332.5" y1="89.46666666666667" x2="334.7" y2="89.46666666666667" stroke="#777" stroke-width="0.8" />
<text x="327.0" y="92.47" font-size="8.4" font-weight="normal" text-anchor="end" fill="#222" stroke="#222" stroke-width="0.22" >15</text>
<line x1="332.5" y1="79.45555555555555" x2="334.7" y2="79.45555555555555" stroke="#777" stroke-width="0.8" />
<text x="327.0" y="82.46" font-size="8.4" font-weight="normal" text-anchor="end" fill="#222" stroke="#222" stroke-width="0.22" >20</text>
<line x1="332.5" y1="69.44444444444446" x2="334.7" y2="69.44444444444446" stroke="#777" stroke-width="0.8" />
<text x="327.0" y="72.44" font-size="8.4" font-weight="normal" text-anchor="end" fill="#222" stroke="#222" stroke-width="0.22" >25</text>
<line x1="332.5" y1="59.43333333333334" x2="334.7" y2="59.43333333333334" stroke="#777" stroke-width="0.8" />
<text x="327.0" y="62.43" font-size="8.4" font-weight="normal" text-anchor="end" fill="#222" stroke="#222" stroke-width="0.22" >30</text>
<line x1="332.5" y1="49.42222222222223" x2="334.7" y2="49.42222222222223" stroke="#777" stroke-width="0.8" />
<text x="327.0" y="52.42" font-size="8.4" font-weight="normal" text-anchor="end" fill="#222" stroke="#222" stroke-width="0.22" >35</text>
<line x1="332.5" y1="39.41111111111111" x2="334.7" y2="39.41111111111111" stroke="#777" stroke-width="0.8" />
<text x="327.0" y="42.41" font-size="8.4" font-weight="normal" text-anchor="end" fill="#222" stroke="#222" stroke-width="0.22" >40</text>
<line x1="332.5" y1="29.400000000000006" x2="334.7" y2="29.400000000000006" stroke="#777" stroke-width="0.8" />
<text x="327.0" y="32.4" font-size="8.4" font-weight="normal" text-anchor="end" fill="#222" stroke="#222" stroke-width="0.22" >45</text>
<line x1="359.7" y1="119.5" x2="359.7" y2="122.0" stroke="#777" stroke-width="0.8" />
<line x1="384.7" y1="119.5" x2="384.7" y2="122.0" stroke="#777" stroke-width="0.8" />
<line x1="409.7" y1="119.5" x2="409.7" y2="122.0" stroke="#777" stroke-width="0.8" />
<rect x="340.20" y="105.48" width="7.00" height="14.02" fill="#000" stroke="none" stroke-width="1"/>
<line x1="343.7" y1="96.87488888888889" x2="343.7" y2="105.48444444444445" stroke="#000" stroke-width="0.9" />
<line x1="342.09999999999997" y1="96.87488888888889" x2="345.3" y2="96.87488888888889" stroke="#000" stroke-width="1.0" />
<rect x="347.65" y="69.84" width="6.80" height="49.66" fill="#fff" stroke="#111" stroke-width="0.9"/>
<line x1="351.05" y1="67.04177777777778" x2="351.05" y2="69.84488888888889" stroke="#000" stroke-width="0.9" />
<line x1="349.45" y1="67.04177777777778" x2="352.65000000000003" y2="67.04177777777778" stroke="#000" stroke-width="1.0" />
<rect x="365.20" y="106.49" width="7.00" height="13.01" fill="#000" stroke="none" stroke-width="1"/>
<line x1="368.7" y1="105.084" x2="368.7" y2="106.48555555555555" stroke="#000" stroke-width="0.9" />
<line x1="367.09999999999997" y1="105.084" x2="370.3" y2="105.084" stroke="#000" stroke-width="1.0" />
<rect x="372.65" y="89.47" width="6.80" height="30.03" fill="#fff" stroke="#111" stroke-width="0.9"/>
<line x1="376.05" y1="85.06177777777778" x2="376.05" y2="89.46666666666667" stroke="#000" stroke-width="0.9" />
<line x1="374.45" y1="85.06177777777778" x2="377.65000000000003" y2="85.06177777777778" stroke="#000" stroke-width="1.0" />
<rect x="390.20" y="104.48" width="7.00" height="15.02" fill="#000" stroke="none" stroke-width="1"/>
<line x1="393.7" y1="97.47555555555556" x2="393.7" y2="104.48333333333333" stroke="#000" stroke-width="0.9" />
<line x1="392.09999999999997" y1="97.47555555555556" x2="395.3" y2="97.47555555555556" stroke="#000" stroke-width="1.0" />
<rect x="397.65" y="43.42" width="6.80" height="76.08" fill="#fff" stroke="#111" stroke-width="0.9"/>
<line x1="401.05" y1="34.405555555555566" x2="401.05" y2="43.41555555555556" stroke="#000" stroke-width="0.9" />
<line x1="399.45" y1="34.405555555555566" x2="402.65000000000003" y2="34.405555555555566" stroke="#000" stroke-width="1.0" />
<line x1="429.3" y1="28.9" x2="429.3" y2="119.5" stroke="#777" stroke-width="0.9" />
<line x1="429.3" y1="119.5" x2="518.8" y2="119.5" stroke="#777" stroke-width="0.9" />
<line x1="427.1" y1="119.5" x2="429.3" y2="119.5" stroke="#777" stroke-width="0.8" />
<text x="421.6" y="122.5" font-size="8.1" font-weight="normal" text-anchor="end" fill="#222" stroke="#222" stroke-width="0.22" >0</text>
<line x1="427.1" y1="108.3" x2="429.3" y2="108.3" stroke="#777" stroke-width="0.8" />
<text x="421.6" y="111.3" font-size="8.1" font-weight="normal" text-anchor="end" fill="#222" stroke="#222" stroke-width="0.22" >100</text>
<line x1="427.1" y1="97.1" x2="429.3" y2="97.1" stroke="#777" stroke-width="0.8" />
<text x="421.6" y="100.1" font-size="8.1" font-weight="normal" text-anchor="end" fill="#222" stroke="#222" stroke-width="0.22" >200</text>
<line x1="427.1" y1="85.9" x2="429.3" y2="85.9" stroke="#777" stroke-width="0.8" />
<text x="421.6" y="88.9" font-size="8.1" font-weight="normal" text-anchor="end" fill="#222" stroke="#222" stroke-width="0.22" >300</text>
<line x1="427.1" y1="74.7" x2="429.3" y2="74.7" stroke="#777" stroke-width="0.8" />
<text x="421.6" y="77.7" font-size="8.1" font-weight="normal" text-anchor="end" fill="#222" stroke="#222" stroke-width="0.22" >400</text>
<line x1="427.1" y1="63.50000000000001" x2="429.3" y2="63.50000000000001" stroke="#777" stroke-width="0.8" />
<text x="421.6" y="66.5" font-size="8.1" font-weight="normal" text-anchor="end" fill="#222" stroke="#222" stroke-width="0.22" >500</text>
<line x1="427.1" y1="52.30000000000001" x2="429.3" y2="52.30000000000001" stroke="#777" stroke-width="0.8" />
<text x="421.6" y="55.3" font-size="8.1" font-weight="normal" text-anchor="end" fill="#222" stroke="#222" stroke-width="0.22" >600</text>
<line x1="427.1" y1="41.10000000000001" x2="429.3" y2="41.10000000000001" stroke="#777" stroke-width="0.8" />
<text x="421.6" y="44.1" font-size="8.1" font-weight="normal" text-anchor="end" fill="#222" stroke="#222" stroke-width="0.22" >700</text>
<line x1="427.1" y1="29.900000000000006" x2="429.3" y2="29.900000000000006" stroke="#777" stroke-width="0.8" />
<text x="421.6" y="32.9" font-size="8.1" font-weight="normal" text-anchor="end" fill="#222" stroke="#222" stroke-width="0.22" >800</text>
<line x1="459.1333333333333" y1="119.5" x2="459.1333333333333" y2="122.0" stroke="#777" stroke-width="0.8" />
<line x1="488.96666666666664" y1="119.5" x2="488.96666666666664" y2="122.0" stroke="#777" stroke-width="0.8" />
<line x1="518.8" y1="119.5" x2="518.8" y2="122.0" stroke="#777" stroke-width="0.8" />
<rect x="435.42" y="114.91" width="8.80" height="4.59" fill="#000" stroke="none" stroke-width="1"/>
<line x1="439.8166666666667" y1="113.116" x2="439.8166666666667" y2="114.908" stroke="#000" stroke-width="0.9" />
<line x1="438.2166666666667" y1="113.116" x2="441.41666666666674" y2="113.116" stroke="#000" stroke-width="1.0" />
<rect x="444.67" y="56.44" width="7.60" height="63.06" fill="#fff" stroke="#111" stroke-width="0.9"/>
<line x1="448.4666666666667" y1="46.7" x2="448.4666666666667" y2="56.44400000000001" stroke="#000" stroke-width="0.9" />
<line x1="446.8666666666667" y1="46.7" x2="450.0666666666667" y2="46.7" stroke="#000" stroke-width="1.0" />
<rect x="465.25" y="104.04" width="8.80" height="15.46" fill="#000" stroke="none" stroke-width="1"/>
<line x1="469.65" y1="96.988" x2="469.65" y2="104.044" stroke="#000" stroke-width="0.9" />
<line x1="468.04999999999995" y1="96.988" x2="471.25" y2="96.988" stroke="#000" stroke-width="1.0" />
<rect x="474.50" y="56.44" width="7.60" height="63.06" fill="#fff" stroke="#111" stroke-width="0.9"/>
<line x1="478.29999999999995" y1="52.524" x2="478.29999999999995" y2="56.44400000000001" stroke="#000" stroke-width="0.9" />
<line x1="476.69999999999993" y1="52.524" x2="479.9" y2="52.524" stroke="#000" stroke-width="1.0" />
<rect x="495.08" y="115.47" width="8.80" height="4.03" fill="#000" stroke="none" stroke-width="1"/>
<line x1="499.48333333333335" y1="111.884" x2="499.48333333333335" y2="115.468" stroke="#000" stroke-width="0.9" />
<line x1="497.8833333333333" y1="111.884" x2="501.08333333333337" y2="111.884" stroke="#000" stroke-width="1.0" />
<rect x="504.33" y="43.90" width="7.60" height="75.60" fill="#fff" stroke="#111" stroke-width="0.9"/>
<line x1="508.1333333333333" y1="37.74000000000001" x2="508.1333333333333" y2="43.900000000000006" stroke="#000" stroke-width="0.9" />
<line x1="506.5333333333333" y1="37.74000000000001" x2="509.73333333333335" y2="37.74000000000001" stroke="#000" stroke-width="1.0" />
<line x1="338.0" y1="55.1" x2="354.7" y2="55.1" stroke="#000" stroke-width="1.9" />
<text x="346.8" y="54.1" font-size="12" font-weight="bold" text-anchor="middle" fill="#000" >*</text>
<line x1="388.8" y1="30.7" x2="405.9" y2="30.7" stroke="#000" stroke-width="1.9" />
<text x="397.8" y="30.4" font-size="12" font-weight="bold" text-anchor="middle" fill="#000" >*</text>
<line x1="436.0" y1="40.7" x2="452.7" y2="40.7" stroke="#000" stroke-width="1.9" />
<text x="445.0" y="40.5" font-size="12" font-weight="bold" text-anchor="middle" fill="#000" >*</text>
<line x1="467.4" y1="45.9" x2="484.7" y2="45.9" stroke="#000" stroke-width="1.9" />
<text x="476.5" y="46.0" font-size="12" font-weight="bold" text-anchor="middle" fill="#000" >*</text>
<line x1="498.8" y1="34.9" x2="516.2" y2="34.9" stroke="#000" stroke-width="1.9" />
<text x="508.2" y="35.2" font-size="12" font-weight="bold" text-anchor="middle" fill="#000" >*</text>
<text transform="translate(309.4,74.9) rotate(-90)" font-size="9.1" font-weight="bold" text-anchor="middle" fill="#111">Number of Colonies</text>
<text transform="translate(347.5,134.4) rotate(-45)" font-size="7" text-anchor="end" fill="#222" stroke="#222" stroke-width="0.18">Granta519</text>
<text transform="translate(373.6,134.4) rotate(-45)" font-size="7" text-anchor="end" fill="#222" stroke="#222" stroke-width="0.18">Jeko-1</text>
<text transform="translate(399.0,134.4) rotate(-45)" font-size="7" text-anchor="end" fill="#222" stroke="#222" stroke-width="0.18">Rec-1</text>
<text transform="translate(445.2,134.4) rotate(-45)" font-size="7" text-anchor="end" fill="#222" stroke="#222" stroke-width="0.18">Granta519</text>
<text transform="translate(475.9,134.4) rotate(-45)" font-size="7" text-anchor="end" fill="#222" stroke="#222" stroke-width="0.18">Jeko-1</text>
<text transform="translate(506.3,134.4) rotate(-45)" font-size="7" text-anchor="end" fill="#222" stroke="#222" stroke-width="0.18">Rec-1</text>
<text x="318.8" y="168.0" font-size="9" font-weight="bold" text-anchor="start" fill="#111" >Primary Plating</text>
<text x="426.3" y="168.0" font-size="9" font-weight="bold" text-anchor="start" fill="#111" >Secondary Plating</text>
<text x="1.3" y="200.1" font-size="13" font-weight="bold" text-anchor="start" fill="#000" >C</text>
<line x1="49.8" y1="209.1" x2="154.5" y2="209.1" stroke="#777" stroke-width="1.0" />
<line x1="154.5" y1="209.1" x2="154.5" y2="327.6" stroke="#777" stroke-width="1.0" />
<line x1="51.3" y1="209.1" x2="51.3" y2="326.1" stroke="#888" stroke-width="0.9" stroke-dasharray="0.8 1.6"/>
<line x1="49.8" y1="326.1" x2="154.5" y2="326.1" stroke="#888" stroke-width="0.9" />
<line x1="51.3" y1="326.1" x2="51.3" y2="327.3" stroke="#888" stroke-width="0.6" />
<line x1="55.72918454935622" y1="326.1" x2="55.72918454935622" y2="327.3" stroke="#888" stroke-width="0.6" />
<line x1="60.15836909871244" y1="326.1" x2="60.15836909871244" y2="327.3" stroke="#888" stroke-width="0.6" />
<line x1="64.58755364806866" y1="326.1" x2="64.58755364806866" y2="327.3" stroke="#888" stroke-width="0.6" />
<line x1="69.01673819742489" y1="326.1" x2="69.01673819742489" y2="327.3" stroke="#888" stroke-width="0.6" />
<line x1="73.44592274678111" y1="326.1" x2="73.44592274678111" y2="327.3" stroke="#888" stroke-width="0.6" />
<line x1="77.87510729613734" y1="326.1" x2="77.87510729613734" y2="327.3" stroke="#888" stroke-width="0.6" />
<line x1="82.30429184549357" y1="326.1" x2="82.30429184549357" y2="327.3" stroke="#888" stroke-width="0.6" />
<line x1="86.73347639484979" y1="326.1" x2="86.73347639484979" y2="327.3" stroke="#888" stroke-width="0.6" />
<line x1="91.16266094420601" y1="326.1" x2="91.16266094420601" y2="327.3" stroke="#888" stroke-width="0.6" />
<line x1="95.59184549356223" y1="326.1" x2="95.59184549356223" y2="327.3" stroke="#888" stroke-width="0.6" />
<line x1="100.02103004291845" y1="326.1" x2="100.02103004291845" y2="327.3" stroke="#888" stroke-width="0.6" />
<line x1="104.45021459227468" y1="326.1" x2="104.45021459227468" y2="327.3" stroke="#888" stroke-width="0.6" />
<line x1="108.8793991416309" y1="326.1" x2="108.8793991416309" y2="327.3" stroke="#888" stroke-width="0.6" />
<line x1="113.30858369098712" y1="326.1" x2="113.30858369098712" y2="327.3" stroke="#888" stroke-width="0.6" />
<line x1="117.73776824034334" y1="326.1" x2="117.73776824034334" y2="327.3" stroke="#888" stroke-width="0.6" />
<line x1="122.16695278969956" y1="326.1" x2="122.16695278969956" y2="327.3" stroke="#888" stroke-width="0.6" />
<line x1="126.59613733905579" y1="326.1" x2="126.59613733905579" y2="327.3" stroke="#888" stroke-width="0.6" />
<line x1="131.025321888412" y1="326.1" x2="131.025321888412" y2="327.3" stroke="#888" stroke-width="0.6" />
<line x1="135.45450643776823" y1="326.1" x2="135.45450643776823" y2="327.3" stroke="#888" stroke-width="0.6" />
<line x1="139.88369098712445" y1="326.1" x2="139.88369098712445" y2="327.3" stroke="#888" stroke-width="0.6" />
<line x1="144.3128755364807" y1="326.1" x2="144.3128755364807" y2="327.3" stroke="#888" stroke-width="0.6" />
<line x1="148.7420600858369" y1="326.1" x2="148.7420600858369" y2="327.3" stroke="#888" stroke-width="0.6" />
<line x1="153.17124463519312" y1="326.1" x2="153.17124463519312" y2="327.3" stroke="#888" stroke-width="0.6" />
<line x1="155.1" y1="209.1" x2="259.8" y2="209.1" stroke="#777" stroke-width="1.0" />
<line x1="259.8" y1="209.1" x2="259.8" y2="326.6" stroke="#777" stroke-width="1.0" />
<line x1="156.6" y1="209.1" x2="156.6" y2="328.1" stroke="#888" stroke-width="0.9" />
<line x1="155.1" y1="326.6" x2="259.8" y2="326.6" stroke="#888" stroke-width="0.9" />
<line x1="156.6" y1="326.6" x2="156.6" y2="327.8" stroke="#888" stroke-width="0.6" />
<line x1="161.02918454935622" y1="326.6" x2="161.02918454935622" y2="327.8" stroke="#888" stroke-width="0.6" />
<line x1="165.45836909871244" y1="326.6" x2="165.45836909871244" y2="327.8" stroke="#888" stroke-width="0.6" />
<line x1="169.88755364806866" y1="326.6" x2="169.88755364806866" y2="327.8" stroke="#888" stroke-width="0.6" />
<line x1="174.31673819742488" y1="326.6" x2="174.31673819742488" y2="327.8" stroke="#888" stroke-width="0.6" />
<line x1="178.7459227467811" y1="326.6" x2="178.7459227467811" y2="327.8" stroke="#888" stroke-width="0.6" />
<line x1="183.17510729613733" y1="326.6" x2="183.17510729613733" y2="327.8" stroke="#888" stroke-width="0.6" />
<line x1="187.60429184549355" y1="326.6" x2="187.60429184549355" y2="327.8" stroke="#888" stroke-width="0.6" />
<line x1="192.0334763948498" y1="326.6" x2="192.0334763948498" y2="327.8" stroke="#888" stroke-width="0.6" />
<line x1="196.462660944206" y1="326.6" x2="196.462660944206" y2="327.8" stroke="#888" stroke-width="0.6" />
<line x1="200.89184549356224" y1="326.6" x2="200.89184549356224" y2="327.8" stroke="#888" stroke-width="0.6" />
<line x1="205.32103004291847" y1="326.6" x2="205.32103004291847" y2="327.8" stroke="#888" stroke-width="0.6" />
<line x1="209.7502145922747" y1="326.6" x2="209.7502145922747" y2="327.8" stroke="#888" stroke-width="0.6" />
<line x1="214.1793991416309" y1="326.6" x2="214.1793991416309" y2="327.8" stroke="#888" stroke-width="0.6" />
<line x1="218.60858369098713" y1="326.6" x2="218.60858369098713" y2="327.8" stroke="#888" stroke-width="0.6" />
<line x1="223.03776824034335" y1="326.6" x2="223.03776824034335" y2="327.8" stroke="#888" stroke-width="0.6" />
<line x1="227.46695278969958" y1="326.6" x2="227.46695278969958" y2="327.8" stroke="#888" stroke-width="0.6" />
<line x1="231.8961373390558" y1="326.6" x2="231.8961373390558" y2="327.8" stroke="#888" stroke-width="0.6" />
<line x1="236.32532188841202" y1="326.6" x2="236.32532188841202" y2="327.8" stroke="#888" stroke-width="0.6" />
<line x1="240.75450643776827" y1="326.6" x2="240.75450643776827" y2="327.8" stroke="#888" stroke-width="0.6" />
<line x1="245.18369098712446" y1="326.6" x2="245.18369098712446" y2="327.8" stroke="#888" stroke-width="0.6" />
<line x1="249.6128755364807" y1="326.6" x2="249.6128755364807" y2="327.8" stroke="#888" stroke-width="0.6" />
<line x1="254.0420600858369" y1="326.6" x2="254.0420600858369" y2="327.8" stroke="#888" stroke-width="0.6" />
<line x1="258.47124463519316" y1="326.6" x2="258.47124463519316" y2="327.8" stroke="#888" stroke-width="0.6" />
<line x1="49.4" y1="209.1" x2="51.3" y2="209.1" stroke="#888" stroke-width="0.8" />
<text x="47.2" y="210.9" font-size="4.8" font-weight="normal" text-anchor="end" fill="#555" >10<tspan font-size="3.2" dy="-2">4</tspan></text>
<line x1="49.4" y1="238.3" x2="51.3" y2="238.3" stroke="#888" stroke-width="0.8" />
<text x="47.2" y="240.10000000000002" font-size="4.8" font-weight="normal" text-anchor="end" fill="#555" >10<tspan font-size="3.2" dy="-2">3</tspan></text>
<line x1="49.4" y1="267.0" x2="51.3" y2="267.0" stroke="#888" stroke-width="0.8" />
<text x="47.2" y="268.8" font-size="4.8" font-weight="normal" text-anchor="end" fill="#555" >10<tspan font-size="3.2" dy="-2">2</tspan></text>
<line x1="49.4" y1="297.3" x2="51.3" y2="297.3" stroke="#888" stroke-width="0.8" />
<text x="47.2" y="299.1" font-size="4.8" font-weight="normal" text-anchor="end" fill="#555" >10<tspan font-size="3.2" dy="-2">1</tspan></text>
<line x1="49.4" y1="325.4" x2="51.3" y2="325.4" stroke="#888" stroke-width="0.8" />
<text x="47.2" y="327.2" font-size="4.8" font-weight="normal" text-anchor="end" fill="#555" >10<tspan font-size="3.2" dy="-2">0</tspan></text>
<text x="52.1" y="337.5" font-size="5.2" font-weight="normal" text-anchor="middle" fill="#555" >0</text>
<text x="71.8" y="337.5" font-size="5.2" font-weight="normal" text-anchor="middle" fill="#555" >200</text>
<text x="91.5" y="337.5" font-size="5.2" font-weight="normal" text-anchor="middle" fill="#555" >400</text>
<text x="111.2" y="337.5" font-size="5.2" font-weight="normal" text-anchor="middle" fill="#555" >600</text>
<text x="130.9" y="337.5" font-size="5.2" font-weight="normal" text-anchor="middle" fill="#555" >800</text>
<text x="150.6" y="337.5" font-size="5.2" font-weight="normal" text-anchor="middle" fill="#555" >1000</text>
<text x="156.5" y="337.5" font-size="5.2" font-weight="normal" text-anchor="middle" fill="#555" >0</text>
<text x="176.7" y="337.5" font-size="5.2" font-weight="normal" text-anchor="middle" fill="#555" >200</text>
<text x="196.9" y="337.5" font-size="5.2" font-weight="normal" text-anchor="middle" fill="#555" >400</text>
<text x="217.1" y="337.5" font-size="5.2" font-weight="normal" text-anchor="middle" fill="#555" >600</text>
<text x="237.3" y="337.5" font-size="5.2" font-weight="normal" text-anchor="middle" fill="#555" >800</text>
<text x="257.5" y="337.5" font-size="5.2" font-weight="normal" text-anchor="middle" fill="#555" >1000</text>
<path d="M79 289.5h1M80 285.5h1M79 282.5h1M78 284.5h1M85 283.5h1M80 281.5h1M83 282.5h1M85 278.5h1M84 286.5h1M85 281.5h1M81 287.5h1M83 286.5h1M78 280.5h1M82 276.5h1M87 281.5h1M81 286.5h1M83 294.5h1M74 281.5h1M79 283.5h1M75 281.5h1M77 286.5h1M78 268.5h1M82 287.5h1M76 285.5h1M84 281.5h1M84 277.5h1M84 282.5h1M82 284.5h1M76 275.5h1M76 286.5h1M77 283.5h1M82 278.5h1M83 289.5h1M74 284.5h1M83 285.5h1M79 281.5h1M78 283.5h1M80 279.5h1M83 274.5h1M85 287.5h1M85 285.5h1M79 279.5h1M76 281.5h1M82 282.5h1M82 288.5h1M84 284.5h1M84 286.5h1M80 275.5h1M80 278.5h1M81 284.5h1M75 286.5h1M82 285.5h1M78 284.5h1M79 288.5h1M84 283.5h1M82 270.5h1M78 281.5h1M83 280.5h1M77 279.5h1M80 289.5h1M76 282.5h1M78 276.5h1M79 278.5h1M79 283.5h1M81 279.5h1M76 284.5h1M77 285.5h1M78 282.5h1M80 282.5h1M84 277.5h1M82 276.5h1M74 282.5h1M77 283.5h1M82 282.5h1M87 277.5h1M79 278.5h1M84 281.5h1M83 281.5h1M83 285.5h1M73 278.5h1M80 281.5h1M79 275.5h1M83 279.5h1M76 282.5h1M83 284.5h1M81 283.5h1M85 289.5h1M81 277.5h1M78 286.5h1M84 285.5h1M80 274.5h1M77 281.5h1M80 278.5h1M78 278.5h1M80 286.5h1M78 285.5h1M84 284.5h1M81 281.5h1M79 288.5h1M80 283.5h1M77 278.5h1M84 277.5h1M76 281.5h1M83 291.5h1M81 282.5h1M80 280.5h1M87 280.5h1M81 281.5h1M85 283.5h1M77 284.5h1M77 285.5h1M83 282.5h1M86 290.5h1M79 281.5h1M83 276.5h1M82 285.5h1M84 284.5h1M84 285.5h1M79 282.5h1M79 285.5h1M75 280.5h1M79 281.5h1M83 281.5h1M74 290.5h1M85 284.5h1M81 282.5h1M77 286.5h1M83 283.5h1M81 277.5h1M76 282.5h1M78 275.5h1M84 276.5h1M80 280.5h1M84 291.5h1M80 286.5h1M83 287.5h1M80 277.5h1M77 284.5h1M81 280.5h1M82 277.5h1M79 278.5h1M84 284.5h1M81 277.5h1M79 289.5h1M82 284.5h1M81 284.5h1M82 280.5h1M76 285.5h1M81 283.5h1M79 287.5h1M80 285.5h1M78 287.5h1M84 281.5h1M84 289.5h1M78 284.5h1M81 283.5h1M81 288.5h1M82 278.5h1M79 279.5h1M82 281.5h1M88 284.5h1M80 279.5h1M82 286.5h1M78 281.5h1M79 284.5h1M80 286.5h1M78 280.5h1M78 282.5h1M85 274.5h1M79 280.5h1M81 283.5h1M78 280.5h1M80 279.5h1M74 277.5h1M82 284.5h1M79 284.5h1M83 280.5h1M82 282.5h1M79 276.5h1M77 281.5h1M82 286.5h1M80 282.5h1M78 276.5h1M80 282.5h1M82 287.5h1M78 280.5h1M83 272.5h1M81 283.5h1M81 277.5h1M82 285.5h1M76 280.5h1M80 277.5h1M82 286.5h1M79 288.5h1M79 285.5h1M86 284.5h1M81 280.5h1M84 286.5h1M82 285.5h1M83 286.5h1M83 284.5h1M78 284.5h1M78 281.5h1M80 281.5h1M81 281.5h1M76 280.5h1M80 278.5h1M79 286.5h1M82 287.5h1M81 282.5h1M76 284.5h1M87 283.5h1M74 280.5h1M86 286.5h1M80 282.5h1M90 290.5h1M81 292.5h1M83 278.5h1M81 278.5h1M78 277.5h1M75 284.5h1M78 282.5h1M79 284.5h1M81 273.5h1M83 281.5h1M82 286.5h1M81 281.5h1M83 284.5h1M82 283.5h1M86 283.5h1M87 288.5h1M81 290.5h1M81 285.5h1M84 280.5h1M82 293.5h1M82 286.5h1M78 283.5h1M79 278.5h1M82 286.5h1M82 281.5h1M78 278.5h1M77 283.5h1M79 281.5h1M80 283.5h1M80 281.5h1M77 283.5h1M73 284.5h1M80 275.5h1M81 282.5h1M87 276.5h1M80 286.5h1M80 283.5h1M84 280.5h1M83 284.5h1M82 283.5h1M75 277.5h1M81 280.5h1M83 281.5h1M82 285.5h1M78 284.5h1M77 284.5h1M85 280.5h1M84 278.5h1M81 284.5h1M82 287.5h1M78 277.5h1M85 279.5h1M82 285.5h1M87 286.5h1M81 285.5h1M82 281.5h1M80 279.5h1M81 287.5h1M84 281.5h1M84 276.5h1M81 284.5h1M83 284.5h1M83 284.5h1M83 281.5h1M80 284.5h1M78 287.5h1M79 276.5h1M80 282.5h1M88 290.5h1M74 281.5h1M81 280.5h1M84 278.5h1M75 285.5h1M83 288.5h1M78 282.5h1M77 283.5h1M81 285.5h1M81 282.5h1M81 284.5h1M81 286.5h1M76 281.5h1M84 284.5h1M81 279.5h1M80 280.5h1M82 284.5h1M78 289.5h1M77 285.5h1M78 282.5h1M80 286.5h1M77 281.5h1M79 277.5h1M78 282.5h1M79 283.5h1M85 288.5h1M80 278.5h1M80 285.5h1M83 285.5h1M81 282.5h1M85 278.5h1M79 285.5h1M81 287.5h1M77 281.5h1M81 287.5h1M83 288.5h1M80 289.5h1M82 281.5h1M83 279.5h1M75 285.5h1M79 281.5h1M83 272.5h1M81 281.5h1M80 279.5h1M81 285.5h1M81 286.5h1M79 282.5h1M80 280.5h1M81 287.5h1M85 281.5h1M80 284.5h1M78 285.5h1M80 283.5h1M83 280.5h1M82 290.5h1M78 278.5h1M82 279.5h1M81 283.5h1M82 284.5h1M83 278.5h1M81 281.5h1M78 280.5h1M76 280.5h1M79 287.5h1M83 278.5h1M81 288.5h1M77 283.5h1M76 284.5h1M80 280.5h1M76 274.5h1M81 279.5h1M80 281.5h1M76 279.5h1M80 280.5h1M78 282.5h1M79 293.5h1M82 280.5h1M77 282.5h1M84 283.5h1M85 281.5h1M79 274.5h1M84 285.5h1M73 284.5h1M79 286.5h1M75 281.5h1M79 282.5h1M87 285.5h1M75 274.5h1M84 281.5h1M82 272.5h1M75 279.5h1M83 283.5h1M78 284.5h1M79 278.5h1M84 284.5h1M83 277.5h1M77 283.5h1M81 281.5h1M80 281.5h1M81 282.5h1M85 286.5h1M81 290.5h1M85 280.5h1M80 276.5h1M83 283.5h1M78 282.5h1M79 283.5h1M78 285.5h1M81 281.5h1M78 286.5h1M78 280.5h1M80 285.5h1M78 286.5h1M83 280.5h1M75 280.5h1M78 285.5h1M82 283.5h1M84 287.5h1M85 288.5h1M86 296.5h1M82 290.5h1M84 290.5h1M83 280.5h1M85 289.5h1M82 287.5h1M84 292.5h1M80 292.5h1M80 293.5h1M87 287.5h1M88 285.5h1M78 280.5h1M88 277.5h1M84 287.5h1M87 284.5h1M84 286.5h1M85 287.5h1M79 284.5h1M84 286.5h1M75 284.5h1M72 287.5h1M82 290.5h1M84 286.5h1M81 280.5h1M86 292.5h1M85 283.5h1M83 282.5h1M83 292.5h1M81 291.5h1M81 280.5h1M83 284.5h1M77 285.5h1M81 285.5h1M78 282.5h1M82 282.5h1M85 275.5h1M88 288.5h1M81 284.5h1M77 297.5h1M88 286.5h1M81 284.5h1M87 291.5h1M89 287.5h1M76 283.5h1M82 294.5h1M81 289.5h1M80 287.5h1M79 289.5h1M83 288.5h1M80 289.5h1M84 291.5h1M82 288.5h1M82 288.5h1M83 288.5h1M81 281.5h1M82 281.5h1M81 290.5h1M80 285.5h1M85 275.5h1M86 288.5h1M87 283.5h1M86 281.5h1M81 286.5h1M75 286.5h1M83 287.5h1M73 290.5h1M81 284.5h1M80 286.5h1M82 287.5h1M76 291.5h1M81 286.5h1M80 284.5h1M77 292.5h1M77 278.5h1M81 288.5h1M78 285.5h1M69 296.5h1M84 284.5h1M121 277.5h1M115 283.5h1M110 283.5h1M108 278.5h1M108 280.5h1M115 279.5h1M108 285.5h1M117 280.5h1M117 276.5h1M108 285.5h1M107 282.5h1M108 288.5h1M116 278.5h1M115 283.5h1M99 281.5h1M112 280.5h1M117 276.5h1M106 286.5h1M112 278.5h1M107 284.5h1M108 278.5h1M116 285.5h1M118 281.5h1M119 278.5h1M108 279.5h1M113 280.5h1M115 290.5h1M113 285.5h1M115 282.5h1M117 287.5h1M113 279.5h1M117 279.5h1M114 283.5h1M109 280.5h1M109 277.5h1M104 282.5h1M116 279.5h1M113 284.5h1M117 276.5h1M112 279.5h1M114 282.5h1M115 280.5h1M120 277.5h1M111 279.5h1M114 286.5h1M115 279.5h1M113 280.5h1M111 281.5h1M111 277.5h1M111 281.5h1M116 280.5h1M116 279.5h1M111 282.5h1M117 279.5h1M103 285.5h1M112 283.5h1M123 284.5h1M111 274.5h1M103 283.5h1M119 282.5h1M118 278.5h1M116 276.5h1M119 281.5h1M115 282.5h1M128 286.5h1M121 280.5h1M112 285.5h1M114 288.5h1M112 280.5h1M108 281.5h1M108 275.5h1M111 287.5h1M114 276.5h1M102 279.5h1M112 283.5h1M118 278.5h1M116 284.5h1M113 282.5h1M114 280.5h1M108 278.5h1M112 285.5h1M114 281.5h1M120 279.5h1M110 284.5h1M110 283.5h1M110 282.5h1M115 281.5h1M114 282.5h1M108 284.5h1M110 278.5h1M127 281.5h1M107 277.5h1M118 290.5h1M104 281.5h1M113 284.5h1M119 278.5h1M115 274.5h1M111 282.5h1M110 279.5h1M108 283.5h1M117 282.5h1M121 284.5h1M111 284.5h1M109 284.5h1M113 285.5h1M116 279.5h1M103 285.5h1M118 281.5h1M108 286.5h1M111 279.5h1M118 281.5h1M119 278.5h1M118 285.5h1M106 282.5h1M116 285.5h1M116 278.5h1M115 278.5h1M117 282.5h1M118 283.5h1M102 281.5h1M117 284.5h1M106 280.5h1M118 281.5h1M111 279.5h1M114 276.5h1M114 279.5h1M117 283.5h1M113 282.5h1M106 279.5h1M112 283.5h1M104 282.5h1M111 281.5h1M117 285.5h1M120 278.5h1M116 283.5h1M110 278.5h1M117 284.5h1M113 285.5h1M110 278.5h1M112 283.5h1M114 283.5h1M109 278.5h1M113 277.5h1M107 281.5h1M115 280.5h1M109 282.5h1M109 284.5h1M112 285.5h1M108 281.5h1M104 283.5h1M109 278.5h1M128 285.5h1M107 287.5h1M108 291.5h1M113 286.5h1M117 279.5h1M103 278.5h1M117 281.5h1M112 291.5h1M128 279.5h1M120 295.5h1M100 277.5h1M104 275.5h1M115 292.5h1M104 274.5h1M99 279.5h1M113 277.5h1M101 286.5h1M111 285.5h1M111 290.5h1M122 280.5h1M113 283.5h1M121 276.5h1M119 280.5h1M117 276.5h1M114 273.5h1M109 290.5h1M113 282.5h1M118 278.5h1M101 284.5h1M114 272.5h1M130 285.5h1M116 283.5h1M117 281.5h1M108 280.5h1M114 280.5h1M102 283.5h1M106 285.5h1M114 288.5h1M108 285.5h1M107 287.5h1M126 295.5h1M122 279.5h1M101 288.5h1M113 295.5h1M101 286.5h1M111 291.5h1M116 275.5h1M112 292.5h1M115 278.5h1M117 275.5h1M104 284.5h1M105 276.5h1M111 287.5h1M114 278.5h1M101 268.5h1M93 280.5h1M108 284.5h1M108 281.5h1M117 281.5h1M114 283.5h1M104 278.5h1M117 280.5h1M129 274.5h1M119 278.5h1M119 290.5h1M119 290.5h1M87 259.5h1M88 258.5h1M79 267.5h1M95 254.5h1M111 263.5h1M89 261.5h1M89 259.5h1M93 260.5h1M83 262.5h1M109 260.5h1M100 260.5h1M84 259.5h1M75 268.5h1M105 254.5h1M95 261.5h1M113 253.5h1M109 260.5h1M99 255.5h1M85 266.5h1M92 263.5h1M111 258.5h1M83 264.5h1M113 256.5h1M100 258.5h1M95 266.5h1M116 262.5h1M93 256.5h1M113 258.5h1M109 260.5h1M87 259.5h1M112 254.5h1M106 253.5h1M96 260.5h1M113 258.5h1M103 254.5h1M95 257.5h1M114 256.5h1M94 260.5h1M112 263.5h1M97 257.5h1M107 262.5h1M96 257.5h1M93 259.5h1M82 267.5h1M112 260.5h1M78 266.5h1M97 261.5h1M106 264.5h1M82 259.5h1M89 265.5h1M93 262.5h1M90 255.5h1M112 259.5h1M85 260.5h1M101 255.5h1M106 267.5h1M99 255.5h1M101 258.5h1M84 263.5h1M97 258.5h1M99 257.5h1M110 257.5h1M102 252.5h1M90 260.5h1M80 264.5h1M74 265.5h1M93 261.5h1M101 264.5h1M76 267.5h1M107 255.5h1M79 268.5h1M94 262.5h1M94 256.5h1M94 254.5h1M90 261.5h1M98 264.5h1M115 254.5h1M113 262.5h1M106 259.5h1M97 252.5h1M103 258.5h1M96 257.5h1M72 268.5h1M80 260.5h1M103 256.5h1M102 255.5h1M98 260.5h1M96 259.5h1M74 265.5h1M114 258.5h1M95 259.5h1M98 255.5h1M100 257.5h1M110 257.5h1M98 258.5h1M86 263.5h1M104 258.5h1M110 257.5h1M85 265.5h1M116 254.5h1M103 256.5h1M85 263.5h1M105 262.5h1M97 262.5h1M111 259.5h1M90 260.5h1M105 261.5h1M104 262.5h1M95 250.5h1M93 267.5h1M99 254.5h1M70 266.5h1M108 250.5h1M84 255.5h1M90 259.5h1M118 257.5h1M105 253.5h1M91 259.5h1M90 265.5h1M83 252.5h1M98 262.5h1M108 252.5h1M78 267.5h1M117 258.5h1M104 265.5h1M107 257.5h1M106 262.5h1M103 260.5h1M118 255.5h1M102 249.5h1M110 255.5h1M76 265.5h1M89 255.5h1M102 260.5h1M115 260.5h1M86 259.5h1M88 257.5h1M102 257.5h1M76 260.5h1M98 258.5h1M90 256.5h1M85 261.5h1M106 249.5h1M92 260.5h1M77 261.5h1M101 258.5h1M113 265.5h1M114 254.5h1M109 254.5h1M94 258.5h1M100 261.5h1M101 260.5h1M86 265.5h1M93 259.5h1M115 258.5h1M81 260.5h1M99 264.5h1M101 257.5h1M106 255.5h1M101 253.5h1M106 263.5h1M92 259.5h1M104 254.5h1M91 253.5h1M86 265.5h1M116 257.5h1M90 262.5h1M99 254.5h1M96 262.5h1M102 256.5h1M87 264.5h1M114 260.5h1M103 262.5h1M105 264.5h1M110 259.5h1M109 259.5h1M78 259.5h1M107 250.5h1M116 253.5h1M101 250.5h1M98 267.5h1M78 272.5h1M73 266.5h1M80 259.5h1M111 258.5h1M115 260.5h1M104 249.5h1M98 257.5h1M96 256.5h1M85 263.5h1M99 256.5h1M85 261.5h1M95 259.5h1M87 266.5h1M90 256.5h1M88 259.5h1M86 263.5h1M97 267.5h1M84 271.5h1M114 257.5h1M103 249.5h1M115 263.5h1M82 266.5h1M81 264.5h1M86 268.5h1M106 263.5h1M104 262.5h1M89 265.5h1M77 266.5h1M110 255.5h1M79 267.5h1M90 261.5h1M95 261.5h1M97 263.5h1M95 261.5h1M108 255.5h1M95 265.5h1M110 261.5h1M104 269.5h1M81 261.5h1M96 259.5h1M98 260.5h1M96 258.5h1M93 256.5h1M85 264.5h1M79 261.5h1M97 252.5h1M84 262.5h1M110 261.5h1M105 262.5h1M85 252.5h1M100 260.5h1M84 264.5h1M97 263.5h1M82 264.5h1M117 259.5h1M79 264.5h1M97 256.5h1M106 251.5h1M99 261.5h1M102 256.5h1M75 264.5h1M93 270.5h1M105 264.5h1M95 260.5h1M83 273.5h1M86 265.5h1M114 254.5h1M82 259.5h1M81 267.5h1M101 252.5h1M78 263.5h1M92 264.5h1M99 254.5h1M93 254.5h1M111 253.5h1M112 254.5h1M92 253.5h1M104 255.5h1M106 259.5h1M97 251.5h1M99 260.5h1M88 264.5h1M93 254.5h1M83 268.5h1M100 257.5h1M108 261.5h1M93 258.5h1M108 259.5h1M96 253.5h1M76 272.5h1M109 254.5h1M109 257.5h1M83 263.5h1M113 258.5h1M94 260.5h1M105 257.5h1M97 255.5h1M115 260.5h1M87 262.5h1M87 271.5h1M88 259.5h1M112 260.5h1M87 258.5h1M78 261.5h1M96 256.5h1M101 260.5h1M90 260.5h1M108 261.5h1M98 261.5h1M87 257.5h1M104 265.5h1M76 264.5h1M106 258.5h1M91 267.5h1M89 256.5h1M86 270.5h1M86 270.5h1M92 265.5h1M114 253.5h1M79 265.5h1M110 258.5h1M93 262.5h1M107 256.5h1M81 270.5h1M72 268.5h1M80 267.5h1M104 262.5h1M79 260.5h1M93 261.5h1M110 261.5h1M84 257.5h1M84 267.5h1M109 256.5h1M84 260.5h1M94 249.5h1M100 257.5h1M108 262.5h1M103 267.5h1M86 262.5h1M80 265.5h1M93 259.5h1M81 267.5h1M98 251.5h1M76 268.5h1M97 254.5h1M102 257.5h1M90 261.5h1M112 259.5h1M76 259.5h1M102 255.5h1M97 264.5h1M92 259.5h1M98 256.5h1M95 263.5h1M82 266.5h1M108 253.5h1M89 266.5h1M80 264.5h1M82 263.5h1M92 262.5h1M77 264.5h1M88 259.5h1M101 256.5h1M84 266.5h1M93 255.5h1M100 260.5h1M81 269.5h1M76 267.5h1M106 261.5h1M98 260.5h1M107 260.5h1M85 264.5h1M111 256.5h1M104 268.5h1M105 261.5h1M102 265.5h1M100 261.5h1M100 259.5h1M91 259.5h1M104 260.5h1M82 265.5h1M87 259.5h1M83 261.5h1M92 262.5h1M104 260.5h1M100 258.5h1M84 266.5h1M84 267.5h1M96 261.5h1M92 258.5h1M96 258.5h1M93 254.5h1M100 261.5h1M109 258.5h1M87 261.5h1M88 264.5h1M107 258.5h1M79 265.5h1M84 269.5h1M88 264.5h1M111 263.5h1M88 266.5h1M78 261.5h1M110 257.5h1M111 257.5h1M109 263.5h1M84 263.5h1M80 266.5h1M91 267.5h1M83 264.5h1M94 264.5h1M95 260.5h1M101 256.5h1M102 262.5h1M88 261.5h1M89 266.5h1M81 265.5h1M82 257.5h1M105 265.5h1M88 261.5h1M97 261.5h1M84 263.5h1M96 258.5h1M94 259.5h1M83 267.5h1M98 262.5h1M106 251.5h1M103 261.5h1M115 259.5h1M90 263.5h1M106 254.5h1M95 257.5h1M106 260.5h1M86 262.5h1M111 257.5h1M97 259.5h1M86 255.5h1M105 257.5h1M94 261.5h1M81 256.5h1M89 258.5h1M94 259.5h1M97 257.5h1M97 264.5h1M79 264.5h1M82 259.5h1M111 258.5h1M94 261.5h1M101 259.5h1M90 267.5h1M95 256.5h1M113 259.5h1M109 259.5h1M109 254.5h1M100 262.5h1M87 254.5h1M106 256.5h1M97 260.5h1M114 255.5h1M80 265.5h1M105 262.5h1M78 263.5h1M83 267.5h1M81 266.5h1M82 263.5h1M89 264.5h1M78 267.5h1M78 269.5h1M111 249.5h1M92 266.5h1M104 260.5h1M114 256.5h1M83 260.5h1M82 263.5h1M108 256.5h1M102 258.5h1M99 254.5h1M100 251.5h1M83 265.5h1M106 257.5h1M105 257.5h1M85 260.5h1M99 265.5h1M104 262.5h1M86 256.5h1M88 258.5h1M115 256.5h1M91 267.5h1M91 262.5h1M96 253.5h1M82 262.5h1M84 263.5h1M83 265.5h1M96 258.5h1M85 255.5h1M110 261.5h1M84 271.5h1M100 262.5h1M107 259.5h1M87 259.5h1M88 257.5h1M108 253.5h1M118 255.5h1M108 257.5h1M117 256.5h1M112 261.5h1M110 256.5h1M86 259.5h1M88 264.5h1M95 268.5h1M111 261.5h1M100 257.5h1M97 255.5h1M80 254.5h1M97 258.5h1M100 260.5h1M88 263.5h1M105 261.5h1M96 266.5h1M107 259.5h1M95 265.5h1M103 259.5h1M81 263.5h1M90 263.5h1M88 258.5h1M112 255.5h1M101 265.5h1M87 267.5h1M106 258.5h1M97 254.5h1M89 253.5h1M81 264.5h1M98 261.5h1M104 262.5h1M110 262.5h1M100 263.5h1M100 265.5h1M99 257.5h1M82 260.5h1M107 256.5h1M91 256.5h1M95 257.5h1M78 269.5h1M111 253.5h1M106 252.5h1M114 255.5h1M89 258.5h1M78 261.5h1M87 267.5h1M80 263.5h1M89 258.5h1M85 266.5h1M108 251.5h1M95 263.5h1M105 257.5h1M85 261.5h1M83 259.5h1M82 267.5h1M93 264.5h1M101 255.5h1M78 257.5h1M114 263.5h1M106 252.5h1M90 263.5h1M110 257.5h1M98 262.5h1M74 265.5h1M105 257.5h1M97 263.5h1M95 262.5h1M76 264.5h1M107 256.5h1M110 258.5h1M105 256.5h1M95 264.5h1M87 264.5h1M85 251.5h1M77 266.5h1M99 260.5h1M97 259.5h1M90 269.5h1M98 266.5h1M92 266.5h1M102 259.5h1M84 259.5h1M87 262.5h1M111 257.5h1M84 261.5h1M107 253.5h1M99 254.5h1M102 251.5h1M87 260.5h1M99 261.5h1M110 260.5h1M84 261.5h1M86 262.5h1M108 251.5h1M81 260.5h1M75 263.5h1M108 253.5h1M117 256.5h1M95 258.5h1M111 253.5h1M103 259.5h1M102 247.5h1M87 267.5h1M111 253.5h1M94 255.5h1M94 254.5h1M96 263.5h1M96 255.5h1M77 266.5h1M97 262.5h1M82 264.5h1M100 255.5h1M101 247.5h1M103 263.5h1M77 265.5h1M96 249.5h1M106 256.5h1M76 266.5h1M97 257.5h1M78 264.5h1M96 250.5h1M94 258.5h1M86 265.5h1M78 266.5h1M77 267.5h1M91 263.5h1M84 260.5h1M98 263.5h1M105 256.5h1M81 262.5h1M109 258.5h1M87 270.5h1M79 270.5h1M82 262.5h1M99 255.5h1M76 272.5h1M114 261.5h1M88 257.5h1M85 261.5h1M79 266.5h1M104 253.5h1M76 266.5h1M101 261.5h1M88 264.5h1M86 261.5h1M117 259.5h1M108 259.5h1M103 260.5h1M101 262.5h1M95 268.5h1M112 262.5h1M87 257.5h1M90 265.5h1M100 264.5h1M92 262.5h1M86 257.5h1M100 256.5h1M108 259.5h1M96 256.5h1M93 261.5h1M91 266.5h1M94 260.5h1M91 259.5h1M82 264.5h1M103 256.5h1M98 253.5h1M116 261.5h1M96 260.5h1M102 260.5h1M90 256.5h1M76 264.5h1M78 266.5h1M107 266.5h1M111 255.5h1M86 268.5h1M96 259.5h1M108 259.5h1M81 263.5h1M92 267.5h1M79 268.5h1M86 267.5h1M88 253.5h1M108 263.5h1M80 262.5h1M79 261.5h1M106 251.5h1M87 261.5h1M93 257.5h1M107 265.5h1M81 261.5h1M85 259.5h1M103 258.5h1M97 261.5h1M84 265.5h1M82 261.5h1M95 263.5h1M98 259.5h1M99 255.5h1M102 260.5h1M92 254.5h1M98 254.5h1M112 260.5h1M86 268.5h1M97 265.5h1M90 254.5h1M101 255.5h1M95 259.5h1M95 266.5h1M84 266.5h1M79 263.5h1M90 261.5h1M88 250.5h1M92 273.5h1M96 254.5h1M82 262.5h1M85 270.5h1M94 257.5h1M103 262.5h1M92 252.5h1M88 254.5h1M83 272.5h1M84 270.5h1M118 254.5h1M83 264.5h1M77 269.5h1M88 266.5h1M90 266.5h1M85 262.5h1M93 262.5h1M112 261.5h1M91 263.5h1M95 266.5h1M108 263.5h1M104 265.5h1M95 255.5h1M110 256.5h1M99 258.5h1M112 261.5h1M106 260.5h1M100 259.5h1M109 256.5h1M101 253.5h1M89 258.5h1M106 255.5h1M99 251.5h1M110 260.5h1M78 267.5h1M85 265.5h1M86 262.5h1M76 262.5h1M92 260.5h1M108 248.5h1M108 257.5h1M87 259.5h1M95 262.5h1M86 261.5h1M109 257.5h1M94 265.5h1M97 264.5h1M102 258.5h1M115 253.5h1M77 260.5h1M87 261.5h1M89 267.5h1M108 259.5h1M93 259.5h1M105 254.5h1M109 257.5h1M85 262.5h1M90 255.5h1M111 257.5h1M93 250.5h1M84 262.5h1M76 255.5h1M99 259.5h1M77 263.5h1M107 256.5h1M89 262.5h1M77 270.5h1M109 255.5h1M100 255.5h1M102 250.5h1M103 261.5h1M101 254.5h1M77 260.5h1M88 267.5h1M75 266.5h1M102 261.5h1M87 263.5h1M83 269.5h1M85 259.5h1M92 263.5h1M83 268.5h1M98 259.5h1M86 259.5h1M81 265.5h1M102 259.5h1M86 259.5h1M92 266.5h1M98 252.5h1M112 254.5h1M102 257.5h1M93 260.5h1M84 260.5h1M90 261.5h1M82 264.5h1M81 264.5h1M98 257.5h1M112 259.5h1M102 266.5h1M91 263.5h1M113 252.5h1M78 259.5h1M112 260.5h1M91 264.5h1M74 261.5h1M102 255.5h1M105 253.5h1M96 255.5h1M96 262.5h1M90 256.5h1M96 252.5h1M99 262.5h1M99 258.5h1M109 255.5h1M116 256.5h1M102 259.5h1M103 260.5h1M99 256.5h1M91 266.5h1M96 256.5h1M109 267.5h1M110 263.5h1M88 264.5h1M103 263.5h1M109 248.5h1M83 262.5h1M88 256.5h1M99 254.5h1M111 259.5h1M113 255.5h1M114 255.5h1M84 260.5h1M97 260.5h1M106 256.5h1M83 265.5h1M109 259.5h1M94 266.5h1M106 268.5h1M108 261.5h1M85 258.5h1M99 259.5h1M85 264.5h1M96 260.5h1M86 263.5h1M112 257.5h1M92 261.5h1M91 254.5h1M73 274.5h1M102 260.5h1M97 265.5h1M106 255.5h1M82 266.5h1M101 256.5h1M107 254.5h1M94 255.5h1M84 266.5h1M110 251.5h1M116 265.5h1M103 257.5h1M107 259.5h1M79 264.5h1M115 266.5h1M74 265.5h1M77 267.5h1M93 258.5h1M87 259.5h1M105 255.5h1M88 259.5h1M81 273.5h1M103 255.5h1M98 257.5h1M80 260.5h1M95 261.5h1M103 255.5h1M81 264.5h1M94 260.5h1M106 259.5h1M100 261.5h1M93 262.5h1M77 263.5h1M107 260.5h1M92 262.5h1M89 263.5h1M76 261.5h1M81 258.5h1M101 257.5h1M77 260.5h1M92 255.5h1M82 260.5h1M103 256.5h1M112 257.5h1M82 258.5h1M77 266.5h1M94 256.5h1M78 266.5h1M79 267.5h1M97 262.5h1M93 267.5h1M94 254.5h1M91 262.5h1M72 263.5h1M86 268.5h1M99 263.5h1M91 263.5h1M98 264.5h1M103 254.5h1M88 267.5h1M103 259.5h1M114 262.5h1M88 260.5h1M82 265.5h1M93 262.5h1M100 260.5h1M77 262.5h1M101 257.5h1M113 259.5h1M81 266.5h1M98 256.5h1M109 256.5h1M102 256.5h1M118 259.5h1M89 259.5h1M103 253.5h1M104 252.5h1M106 261.5h1M114 258.5h1M110 262.5h1M112 257.5h1M86 258.5h1M104 254.5h1M106 261.5h1M91 267.5h1M104 265.5h1M89 261.5h1M91 264.5h1M108 256.5h1M86 265.5h1M95 256.5h1M100 255.5h1M105 261.5h1M113 262.5h1M111 269.5h1M110 259.5h1M115 257.5h1M77 271.5h1M106 264.5h1M75 265.5h1M101 260.5h1M98 259.5h1M92 262.5h1M105 251.5h1M99 263.5h1M106 259.5h1M90 265.5h1M89 261.5h1M93 266.5h1M95 257.5h1M75 264.5h1M88 263.5h1M91 258.5h1M92 259.5h1M98 250.5h1M84 263.5h1M86 258.5h1M104 266.5h1M107 259.5h1M103 260.5h1M103 259.5h1M97 260.5h1M101 263.5h1M106 260.5h1M88 255.5h1M101 265.5h1M110 251.5h1M93 263.5h1M81 266.5h1M100 244.5h1M78 266.5h1M95 262.5h1M104 256.5h1M108 258.5h1M111 257.5h1M111 254.5h1M105 258.5h1M101 258.5h1M103 269.5h1M92 260.5h1M84 268.5h1M93 258.5h1M84 260.5h1M75 267.5h1M104 252.5h1M98 254.5h1M100 262.5h1M97 259.5h1M76 265.5h1M92 261.5h1M89 262.5h1M87 259.5h1M105 254.5h1M100 261.5h1M78 259.5h1M79 265.5h1M106 257.5h1M127 258.5h1M116 264.5h1M117 260.5h1M79 266.5h1M90 250.5h1M83 249.5h1M80 263.5h1M97 258.5h1M88 272.5h1M100 257.5h1M98 254.5h1M109 259.5h1M110 254.5h1M112 260.5h1M96 270.5h1M79 259.5h1M95 252.5h1M88 257.5h1M118 266.5h1M118 257.5h1M100 265.5h1M117 267.5h1M92 257.5h1M104 266.5h1M86 269.5h1M111 265.5h1M108 265.5h1M88 259.5h1M116 262.5h1M114 269.5h1M114 269.5h1M77 263.5h1M91 279.5h1M99 255.5h1M102 267.5h1M93 260.5h1M125 258.5h1M104 271.5h1M88 264.5h1M97 256.5h1M86 256.5h1M121 263.5h1M96 261.5h1M76 261.5h1M106 299.5h1M119 264.5h1M104 281.5h1M123 254.5h1M86 262.5h1M101 258.5h1M112 303.5h1M75 276.5h1M99 274.5h1M79 295.5h1M105 273.5h1M128 267.5h1M99 275.5h1M90 275.5h1M122 277.5h1" stroke="#000" stroke-width="1" fill="none" opacity="1.0"/>
<path d="M200 285.5h1M197 285.5h1M197 288.5h1M191 285.5h1M194 282.5h1M196 286.5h1M194 275.5h1M200 284.5h1M202 277.5h1M194 285.5h1M186 291.5h1M184 285.5h1M194 288.5h1M192 284.5h1M193 291.5h1M194 293.5h1M195 286.5h1M195 288.5h1M192 285.5h1M197 288.5h1M200 283.5h1M189 295.5h1M193 296.5h1M195 290.5h1M190 289.5h1M193 284.5h1M193 281.5h1M195 287.5h1M202 279.5h1M196 285.5h1M192 283.5h1M198 284.5h1M202 280.5h1M199 288.5h1M192 282.5h1M191 281.5h1M194 287.5h1M192 282.5h1M193 285.5h1M185 288.5h1M195 290.5h1M190 291.5h1M190 294.5h1M193 290.5h1M192 285.5h1M193 286.5h1M197 290.5h1M195 286.5h1M206 292.5h1M191 281.5h1M196 280.5h1M195 285.5h1M187 283.5h1M198 286.5h1M197 294.5h1M191 289.5h1M195 286.5h1M194 288.5h1M199 281.5h1M191 291.5h1M194 287.5h1M190 286.5h1M195 287.5h1M191 288.5h1M185 286.5h1M190 281.5h1M187 288.5h1M196 281.5h1M194 281.5h1M193 289.5h1M194 289.5h1M194 289.5h1M191 287.5h1M195 286.5h1M198 278.5h1M191 293.5h1M190 283.5h1M199 288.5h1M195 285.5h1M200 284.5h1M197 279.5h1M193 289.5h1M200 285.5h1M200 289.5h1M186 284.5h1M196 276.5h1M196 286.5h1M195 289.5h1M198 287.5h1M194 287.5h1M192 292.5h1M196 278.5h1M195 286.5h1M187 290.5h1M195 283.5h1M188 281.5h1M197 284.5h1M191 285.5h1M193 287.5h1M191 288.5h1M190 288.5h1M203 287.5h1M194 291.5h1M195 288.5h1M199 286.5h1M197 285.5h1M190 282.5h1M191 291.5h1M188 283.5h1M190 285.5h1M193 283.5h1M199 287.5h1M195 295.5h1M197 286.5h1M191 288.5h1M194 288.5h1M200 284.5h1M192 286.5h1M195 285.5h1M197 277.5h1M191 293.5h1M195 287.5h1M201 289.5h1M193 279.5h1M199 295.5h1M193 290.5h1M195 281.5h1M196 277.5h1M193 284.5h1M194 286.5h1M195 287.5h1M194 288.5h1M196 283.5h1M193 286.5h1M198 287.5h1M192 292.5h1M191 284.5h1M198 284.5h1M199 282.5h1M194 284.5h1M196 288.5h1M197 292.5h1M197 281.5h1M191 281.5h1M195 288.5h1M195 284.5h1M190 289.5h1M201 285.5h1M197 286.5h1M200 287.5h1M197 286.5h1M197 290.5h1M193 286.5h1M191 292.5h1M194 288.5h1M186 284.5h1M199 282.5h1M196 291.5h1M192 284.5h1M192 286.5h1M193 284.5h1M194 293.5h1M189 288.5h1M189 280.5h1M199 284.5h1M191 281.5h1M194 285.5h1M199 285.5h1M192 288.5h1M199 283.5h1M196 282.5h1M196 284.5h1M188 286.5h1M191 278.5h1M192 291.5h1M198 287.5h1M192 279.5h1M193 282.5h1M196 291.5h1M203 294.5h1M197 285.5h1M196 286.5h1M194 288.5h1M190 283.5h1M197 287.5h1M191 285.5h1M185 283.5h1M193 291.5h1M198 285.5h1M192 294.5h1M195 281.5h1M197 279.5h1M199 281.5h1M195 294.5h1M193 282.5h1M197 294.5h1M194 279.5h1M197 293.5h1M196 285.5h1M197 283.5h1M192 295.5h1M197 286.5h1M197 281.5h1M193 280.5h1M190 283.5h1M188 285.5h1M188 280.5h1M196 284.5h1M194 285.5h1M195 280.5h1M197 297.5h1M193 285.5h1M191 271.5h1M197 290.5h1M186 288.5h1M188 289.5h1M198 289.5h1M190 283.5h1M190 285.5h1M193 286.5h1M191 287.5h1M194 283.5h1M193 286.5h1M181 275.5h1M198 286.5h1M196 290.5h1M194 288.5h1M189 292.5h1M199 282.5h1M193 287.5h1M201 291.5h1M203 284.5h1M200 285.5h1M202 286.5h1M192 293.5h1M183 285.5h1M194 282.5h1M199 294.5h1M196 280.5h1M189 274.5h1M198 283.5h1M195 287.5h1M195 282.5h1M193 284.5h1M195 289.5h1M190 288.5h1M191 281.5h1M199 297.5h1M199 288.5h1M190 285.5h1M191 290.5h1M196 275.5h1M195 280.5h1M202 283.5h1M194 290.5h1M188 283.5h1M190 280.5h1M200 285.5h1M195 282.5h1M194 271.5h1M191 285.5h1M192 289.5h1M196 288.5h1M193 280.5h1M196 292.5h1M191 282.5h1M195 283.5h1M199 282.5h1M198 286.5h1M194 284.5h1M193 285.5h1M191 290.5h1M196 293.5h1M190 282.5h1M198 284.5h1M197 289.5h1M197 283.5h1M202 279.5h1M202 292.5h1M199 286.5h1M194 292.5h1M191 281.5h1M197 287.5h1M193 281.5h1M192 285.5h1M192 283.5h1M196 293.5h1M200 287.5h1M192 281.5h1M196 282.5h1M198 284.5h1M201 288.5h1M188 292.5h1M195 288.5h1M192 284.5h1M195 291.5h1M191 285.5h1M190 282.5h1M202 288.5h1M195 284.5h1M193 282.5h1M200 285.5h1M195 287.5h1M187 289.5h1M198 290.5h1M193 291.5h1M199 288.5h1M196 292.5h1M199 280.5h1M201 290.5h1M194 291.5h1M187 289.5h1M189 291.5h1M194 283.5h1M194 290.5h1M197 285.5h1M198 279.5h1M198 283.5h1M192 288.5h1M193 289.5h1M190 289.5h1M186 290.5h1M188 284.5h1M193 282.5h1M193 286.5h1M203 284.5h1M190 284.5h1M195 283.5h1M191 281.5h1M192 280.5h1M193 285.5h1M191 290.5h1M191 284.5h1M196 286.5h1M201 294.5h1M192 288.5h1M196 289.5h1M191 293.5h1M188 281.5h1M193 293.5h1M183 288.5h1M188 284.5h1M198 295.5h1M200 285.5h1M194 285.5h1M191 286.5h1M197 288.5h1M197 279.5h1M196 284.5h1M194 287.5h1M192 285.5h1M197 288.5h1M196 288.5h1M193 289.5h1M199 284.5h1M194 288.5h1M195 289.5h1M187 281.5h1M194 294.5h1M191 293.5h1M193 283.5h1M193 280.5h1M195 285.5h1M191 286.5h1M191 285.5h1M196 284.5h1M190 289.5h1M194 298.5h1M199 290.5h1M191 291.5h1M186 281.5h1M190 291.5h1M189 294.5h1M190 284.5h1M197 280.5h1M187 287.5h1M190 288.5h1M193 281.5h1M194 285.5h1M195 289.5h1M195 286.5h1M191 285.5h1M192 286.5h1M188 281.5h1M197 293.5h1M193 292.5h1M201 291.5h1M194 283.5h1M187 292.5h1M197 282.5h1M192 287.5h1M194 283.5h1M195 284.5h1M189 287.5h1M196 291.5h1M192 285.5h1M198 284.5h1M189 286.5h1M189 279.5h1M196 286.5h1M191 285.5h1M193 286.5h1M197 292.5h1M192 293.5h1M190 283.5h1M194 286.5h1M193 281.5h1M193 280.5h1M192 280.5h1M191 293.5h1M193 280.5h1M194 288.5h1M194 281.5h1M202 286.5h1M193 277.5h1M194 293.5h1M196 292.5h1M192 285.5h1M189 285.5h1M190 282.5h1M190 283.5h1M195 290.5h1M196 283.5h1M197 281.5h1M198 286.5h1M196 289.5h1M198 280.5h1M197 285.5h1M197 278.5h1M195 289.5h1M200 287.5h1M203 279.5h1M187 290.5h1M195 281.5h1M196 286.5h1M192 284.5h1M193 284.5h1M191 277.5h1M193 288.5h1M192 289.5h1M198 288.5h1M192 288.5h1M190 287.5h1M197 290.5h1M191 286.5h1M196 282.5h1M201 289.5h1M190 290.5h1M198 283.5h1M199 293.5h1M189 276.5h1M200 286.5h1M204 284.5h1M196 289.5h1M195 286.5h1M198 289.5h1M196 282.5h1M197 281.5h1M196 287.5h1M194 294.5h1M190 285.5h1M200 292.5h1M192 288.5h1M196 283.5h1M198 292.5h1M190 289.5h1M196 288.5h1M196 285.5h1M195 287.5h1M200 285.5h1M195 273.5h1M192 286.5h1M197 288.5h1M200 282.5h1M193 284.5h1M190 288.5h1M198 288.5h1M197 276.5h1M190 286.5h1M188 291.5h1M190 286.5h1M193 286.5h1M197 282.5h1M200 281.5h1M202 296.5h1M200 286.5h1M194 286.5h1M201 285.5h1M198 293.5h1M190 285.5h1M201 280.5h1M192 296.5h1M191 283.5h1M190 293.5h1M190 283.5h1M195 291.5h1M197 289.5h1M191 286.5h1M193 284.5h1M199 285.5h1M190 283.5h1M196 284.5h1M190 284.5h1M199 280.5h1M195 284.5h1M195 280.5h1M189 290.5h1M200 285.5h1M196 293.5h1M205 282.5h1M193 286.5h1M192 293.5h1M195 284.5h1M195 281.5h1M196 282.5h1M192 294.5h1M190 291.5h1M194 292.5h1M195 282.5h1M197 289.5h1M197 291.5h1M207 283.5h1M198 283.5h1M196 281.5h1M197 288.5h1M198 280.5h1M195 284.5h1M187 292.5h1M193 277.5h1M193 282.5h1M194 284.5h1M192 285.5h1M187 281.5h1M195 280.5h1M200 288.5h1M194 280.5h1M199 289.5h1M191 286.5h1M193 287.5h1M191 291.5h1M191 286.5h1M196 278.5h1M193 276.5h1M194 287.5h1M188 285.5h1M193 286.5h1M191 285.5h1M193 283.5h1M199 284.5h1M194 284.5h1M195 280.5h1M195 284.5h1M190 290.5h1M191 283.5h1M198 283.5h1M197 295.5h1M195 295.5h1M193 283.5h1M193 288.5h1M191 295.5h1M201 285.5h1M193 283.5h1M200 288.5h1M194 289.5h1M188 285.5h1M198 279.5h1M184 288.5h1M189 287.5h1M189 288.5h1M187 292.5h1M194 281.5h1M193 283.5h1M199 292.5h1M192 277.5h1M193 282.5h1M193 286.5h1M190 289.5h1M191 288.5h1M186 287.5h1M198 284.5h1M189 289.5h1M193 289.5h1M190 288.5h1M196 284.5h1M198 292.5h1M191 286.5h1M200 286.5h1M196 284.5h1M192 284.5h1M194 283.5h1M196 283.5h1M201 281.5h1M191 282.5h1M186 283.5h1M190 279.5h1M194 284.5h1M191 279.5h1M189 284.5h1M188 286.5h1M197 285.5h1M194 292.5h1M195 286.5h1M192 286.5h1M194 284.5h1M180 289.5h1M196 282.5h1M195 289.5h1M203 290.5h1M193 280.5h1M203 281.5h1M196 293.5h1M191 289.5h1M190 281.5h1M190 284.5h1M199 283.5h1M197 290.5h1M193 280.5h1M198 287.5h1M193 287.5h1M193 283.5h1M193 280.5h1M188 295.5h1M193 286.5h1M193 291.5h1M195 288.5h1M191 288.5h1M191 288.5h1M199 276.5h1M192 288.5h1M193 291.5h1M192 294.5h1M196 282.5h1M196 289.5h1M193 281.5h1M190 296.5h1M193 276.5h1M201 288.5h1M192 291.5h1M193 281.5h1M198 288.5h1M197 292.5h1M193 285.5h1M192 293.5h1M199 284.5h1M195 277.5h1M193 286.5h1M195 277.5h1M190 284.5h1M190 280.5h1M200 277.5h1M194 282.5h1M190 281.5h1M199 283.5h1M195 281.5h1M198 285.5h1M193 285.5h1M197 288.5h1M196 284.5h1M190 292.5h1M195 286.5h1M198 296.5h1M191 286.5h1M192 285.5h1M189 283.5h1M194 285.5h1M193 291.5h1M193 282.5h1M191 281.5h1M203 287.5h1M196 282.5h1M190 289.5h1M197 281.5h1M188 279.5h1M197 289.5h1M199 279.5h1M185 280.5h1M196 287.5h1M191 285.5h1M193 287.5h1M197 283.5h1M190 293.5h1M202 282.5h1M191 278.5h1M200 284.5h1M199 281.5h1M196 285.5h1M194 282.5h1M196 283.5h1M196 279.5h1M197 283.5h1M186 296.5h1M195 273.5h1M195 284.5h1M202 294.5h1M194 280.5h1M196 280.5h1M187 287.5h1M190 290.5h1M191 287.5h1M195 280.5h1M188 293.5h1M197 287.5h1M194 290.5h1M186 285.5h1M199 296.5h1M196 286.5h1M199 281.5h1M190 289.5h1M193 285.5h1M199 282.5h1M192 282.5h1M185 288.5h1M195 285.5h1M192 278.5h1M189 280.5h1M192 287.5h1M199 284.5h1M193 290.5h1M200 286.5h1M195 282.5h1M197 291.5h1M192 291.5h1M192 287.5h1M187 283.5h1M196 288.5h1M196 285.5h1M194 294.5h1M197 271.5h1M196 282.5h1M196 287.5h1M193 285.5h1M193 281.5h1M190 290.5h1M190 286.5h1M192 283.5h1M198 294.5h1M199 290.5h1M197 284.5h1M185 286.5h1M191 280.5h1M190 278.5h1M191 283.5h1M197 287.5h1M195 294.5h1M191 281.5h1M194 280.5h1M189 288.5h1M197 289.5h1M194 286.5h1M199 278.5h1M196 283.5h1M197 283.5h1M186 282.5h1M193 290.5h1M198 276.5h1M200 285.5h1M201 276.5h1M207 276.5h1M186 289.5h1M198 297.5h1M199 282.5h1M201 289.5h1M199 285.5h1M192 288.5h1M196 283.5h1M202 289.5h1M197 291.5h1M187 286.5h1M195 281.5h1M202 276.5h1M194 285.5h1M190 282.5h1M189 291.5h1M204 286.5h1M189 295.5h1M191 280.5h1M195 291.5h1M193 288.5h1M191 281.5h1M198 276.5h1M199 282.5h1M190 268.5h1M198 287.5h1M181 279.5h1M192 292.5h1M206 288.5h1M216 289.5h1M195 288.5h1M191 286.5h1M205 291.5h1M206 291.5h1M207 282.5h1M203 280.5h1M192 280.5h1M199 281.5h1M196 286.5h1M189 280.5h1M193 289.5h1M190 287.5h1M198 282.5h1M199 280.5h1M189 281.5h1M190 288.5h1M187 285.5h1M191 290.5h1M192 291.5h1M197 288.5h1M203 284.5h1M190 282.5h1M200 286.5h1M194 288.5h1M191 277.5h1M204 289.5h1M200 288.5h1M192 288.5h1M187 293.5h1M199 281.5h1M192 286.5h1M199 286.5h1M196 281.5h1M186 285.5h1M195 295.5h1M196 289.5h1M186 278.5h1M194 281.5h1M206 278.5h1M198 291.5h1M188 288.5h1M195 297.5h1M201 287.5h1M192 282.5h1M191 282.5h1M194 278.5h1M183 293.5h1M187 293.5h1M207 293.5h1M192 296.5h1M194 285.5h1M196 285.5h1M191 287.5h1M193 285.5h1M204 290.5h1M191 288.5h1M203 292.5h1M189 282.5h1M200 290.5h1M195 278.5h1M195 285.5h1M194 278.5h1M195 289.5h1M197 289.5h1M192 287.5h1M191 283.5h1M196 277.5h1M194 288.5h1M200 288.5h1M207 286.5h1M198 276.5h1M189 280.5h1M190 286.5h1M196 289.5h1M202 289.5h1M198 291.5h1M194 292.5h1M196 281.5h1M203 285.5h1M176 285.5h1M199 275.5h1M187 279.5h1M182 286.5h1M238 285.5h1M232 280.5h1M224 285.5h1M227 281.5h1M228 285.5h1M240 279.5h1M243 278.5h1M237 277.5h1M224 284.5h1M232 285.5h1M237 281.5h1M234 280.5h1M229 284.5h1M232 283.5h1M220 284.5h1M235 274.5h1M237 280.5h1M226 284.5h1M221 281.5h1M245 281.5h1M226 277.5h1M236 279.5h1M231 283.5h1M239 280.5h1M235 284.5h1M233 285.5h1M231 281.5h1M233 288.5h1M235 277.5h1M225 283.5h1M236 278.5h1M229 281.5h1M231 284.5h1M234 280.5h1M227 279.5h1M227 285.5h1M228 279.5h1M233 284.5h1M233 279.5h1M225 287.5h1M230 281.5h1M225 277.5h1M223 284.5h1M242 278.5h1M236 286.5h1M242 276.5h1M241 280.5h1M224 277.5h1M230 285.5h1M237 281.5h1M237 280.5h1M234 282.5h1M228 281.5h1M240 277.5h1M236 278.5h1M239 282.5h1M232 285.5h1M232 281.5h1M236 281.5h1M240 278.5h1M229 286.5h1M226 288.5h1M242 278.5h1M233 291.5h1M238 283.5h1M232 278.5h1M221 280.5h1M227 283.5h1M223 283.5h1M234 277.5h1M234 293.5h1M223 282.5h1M217 266.5h1M236 285.5h1M231 285.5h1M243 286.5h1M241 291.5h1M226 282.5h1M228 286.5h1M249 276.5h1M232 287.5h1M247 260.5h1M220 274.5h1M229 280.5h1M238 292.5h1M189 260.5h1M187 259.5h1M190 253.5h1M186 270.5h1M190 257.5h1M191 254.5h1M187 259.5h1M188 257.5h1M186 254.5h1M190 255.5h1M188 255.5h1M194 259.5h1M198 259.5h1M184 261.5h1M192 249.5h1M192 250.5h1M193 262.5h1M186 265.5h1M189 260.5h1M186 264.5h1M186 255.5h1M184 253.5h1M189 266.5h1M185 262.5h1M193 259.5h1M191 252.5h1M192 264.5h1M188 253.5h1M190 254.5h1M190 254.5h1M189 246.5h1M196 255.5h1M187 263.5h1M186 263.5h1M189 248.5h1M192 264.5h1M189 262.5h1M187 257.5h1M186 257.5h1M189 258.5h1M190 249.5h1M190 264.5h1M185 263.5h1M190 264.5h1M184 254.5h1M187 265.5h1M188 258.5h1M189 259.5h1M191 256.5h1M192 254.5h1M193 258.5h1M192 257.5h1M194 255.5h1M186 260.5h1M194 266.5h1M191 254.5h1M187 259.5h1M185 257.5h1M190 261.5h1M189 256.5h1M186 259.5h1M186 265.5h1M189 263.5h1M194 258.5h1M185 265.5h1M186 261.5h1M186 271.5h1M186 260.5h1M190 256.5h1M186 262.5h1M187 254.5h1M190 262.5h1M189 261.5h1M191 250.5h1M189 253.5h1M191 258.5h1M187 260.5h1M186 257.5h1M186 262.5h1M195 255.5h1M187 260.5h1M185 256.5h1M195 258.5h1M187 249.5h1M189 250.5h1M188 253.5h1M191 253.5h1M183 260.5h1M186 255.5h1M190 253.5h1M192 261.5h1M186 261.5h1M196 259.5h1M189 262.5h1M187 259.5h1M188 258.5h1M190 258.5h1M189 259.5h1M186 254.5h1M188 259.5h1M192 252.5h1M179 255.5h1M190 259.5h1M187 262.5h1M184 246.5h1M189 263.5h1M192 261.5h1M192 258.5h1M189 263.5h1M190 256.5h1M192 261.5h1M188 267.5h1M189 254.5h1M190 259.5h1M192 264.5h1M186 260.5h1M190 255.5h1M191 253.5h1M189 259.5h1M191 260.5h1M190 255.5h1M186 266.5h1M188 267.5h1M187 264.5h1M183 256.5h1M186 263.5h1M194 253.5h1M187 252.5h1M187 254.5h1M192 265.5h1M188 256.5h1M191 251.5h1M182 264.5h1M181 260.5h1M192 266.5h1M188 260.5h1M197 261.5h1M197 267.5h1M188 263.5h1M185 255.5h1M188 259.5h1M192 257.5h1M196 250.5h1M195 243.5h1M191 263.5h1M190 251.5h1M192 267.5h1M185 259.5h1M192 263.5h1M189 255.5h1M187 263.5h1M187 264.5h1M184 260.5h1M187 256.5h1M189 259.5h1M187 267.5h1M185 260.5h1M188 271.5h1M187 252.5h1M188 265.5h1M181 267.5h1M192 264.5h1M189 265.5h1M187 259.5h1M186 259.5h1M189 255.5h1M193 253.5h1M189 257.5h1M184 268.5h1M184 265.5h1M192 260.5h1M190 258.5h1M193 257.5h1M189 262.5h1M192 259.5h1M185 270.5h1M180 262.5h1M188 259.5h1M200 258.5h1M190 261.5h1M190 259.5h1M190 264.5h1M191 266.5h1M187 253.5h1M190 251.5h1M186 256.5h1M187 257.5h1M185 264.5h1M188 263.5h1M195 251.5h1M188 254.5h1M190 265.5h1M190 260.5h1M191 259.5h1M193 250.5h1M182 264.5h1M191 256.5h1M191 266.5h1M190 263.5h1M191 251.5h1M191 261.5h1M184 254.5h1M187 261.5h1M191 257.5h1M184 253.5h1M189 257.5h1M180 253.5h1M192 248.5h1M187 262.5h1M192 253.5h1M190 261.5h1M189 260.5h1M193 265.5h1M182 260.5h1M190 260.5h1M188 254.5h1M184 252.5h1M189 256.5h1M188 259.5h1M190 260.5h1M184 264.5h1M187 267.5h1M189 266.5h1M189 266.5h1M188 266.5h1M194 269.5h1M187 266.5h1M193 258.5h1M194 271.5h1M186 269.5h1M190 269.5h1M192 270.5h1M182 263.5h1M190 261.5h1M185 264.5h1M187 262.5h1M187 275.5h1M193 265.5h1M190 271.5h1M189 265.5h1M186 268.5h1M189 264.5h1M189 267.5h1M188 269.5h1M192 265.5h1M187 263.5h1M191 268.5h1M190 259.5h1M188 266.5h1M180 265.5h1M189 263.5h1M190 265.5h1M186 274.5h1M190 267.5h1M189 266.5h1M187 260.5h1M189 268.5h1M190 267.5h1M189 266.5h1M189 258.5h1M193 264.5h1M192 262.5h1M192 274.5h1M188 261.5h1M191 264.5h1M181 268.5h1M193 266.5h1M186 266.5h1M188 265.5h1M189 268.5h1M193 253.5h1M195 250.5h1M209 264.5h1M208 252.5h1M233 251.5h1M226 252.5h1M188 259.5h1M207 250.5h1M202 259.5h1M192 249.5h1M203 257.5h1M222 252.5h1M213 252.5h1M221 248.5h1M223 246.5h1M213 254.5h1M219 255.5h1M200 250.5h1M213 247.5h1M204 255.5h1M202 251.5h1M209 249.5h1M192 251.5h1M206 251.5h1M193 242.5h1M209 255.5h1M210 252.5h1M205 255.5h1M193 261.5h1M197 256.5h1M220 251.5h1M206 245.5h1M212 259.5h1M207 250.5h1M192 262.5h1M215 242.5h1M197 255.5h1M214 245.5h1M188 260.5h1M208 245.5h1M203 251.5h1M217 255.5h1M212 246.5h1M200 250.5h1M214 255.5h1M213 253.5h1M206 256.5h1M206 246.5h1M193 257.5h1M221 252.5h1M196 258.5h1M212 249.5h1M192 257.5h1M206 259.5h1M201 255.5h1M217 256.5h1M225 249.5h1M216 250.5h1M219 248.5h1M196 255.5h1M195 253.5h1M227 248.5h1M227 251.5h1M194 252.5h1M193 259.5h1M207 253.5h1M214 245.5h1M224 246.5h1M219 264.5h1M205 242.5h1M210 255.5h1M191 260.5h1M208 256.5h1M194 253.5h1M218 249.5h1M207 253.5h1M194 257.5h1M204 258.5h1M205 251.5h1M195 253.5h1M220 248.5h1M207 253.5h1M212 246.5h1M209 252.5h1M187 264.5h1M200 255.5h1M216 260.5h1M215 248.5h1M215 247.5h1M211 251.5h1M221 247.5h1M213 255.5h1M214 253.5h1M202 260.5h1M227 255.5h1M200 248.5h1M191 255.5h1M196 259.5h1M211 252.5h1M213 247.5h1M208 248.5h1M203 255.5h1M222 245.5h1M194 250.5h1M195 252.5h1M210 251.5h1M214 252.5h1M202 250.5h1M201 257.5h1M207 247.5h1M201 256.5h1M198 257.5h1M214 255.5h1M199 255.5h1M208 260.5h1M205 250.5h1M200 248.5h1M194 261.5h1M221 259.5h1M222 246.5h1M221 255.5h1M200 257.5h1M215 256.5h1M228 254.5h1M220 256.5h1M196 248.5h1M192 250.5h1M204 252.5h1M217 245.5h1M199 244.5h1M191 258.5h1M198 267.5h1M209 253.5h1M199 250.5h1M221 252.5h1M196 251.5h1M208 247.5h1M209 250.5h1M219 249.5h1M189 257.5h1M213 257.5h1M190 256.5h1M217 249.5h1M201 251.5h1M200 253.5h1M190 246.5h1M218 256.5h1M219 249.5h1M210 256.5h1M200 247.5h1M202 257.5h1M209 254.5h1M210 252.5h1M204 250.5h1M214 247.5h1M214 263.5h1M205 253.5h1M213 247.5h1M227 253.5h1M192 257.5h1M207 253.5h1M203 252.5h1M205 248.5h1M182 253.5h1M217 257.5h1M208 257.5h1M210 250.5h1M199 257.5h1M192 250.5h1M212 253.5h1M234 250.5h1M191 256.5h1M224 253.5h1M205 254.5h1M213 262.5h1M219 251.5h1M215 251.5h1M216 253.5h1M203 255.5h1M197 250.5h1M218 250.5h1M203 241.5h1M197 249.5h1M214 239.5h1M220 252.5h1M198 253.5h1M205 250.5h1M197 249.5h1M215 252.5h1M190 259.5h1M223 253.5h1M222 256.5h1M213 255.5h1M217 258.5h1M216 253.5h1M215 240.5h1M193 259.5h1M191 260.5h1M198 251.5h1M217 245.5h1M218 258.5h1M221 243.5h1M205 248.5h1M217 251.5h1M217 252.5h1M224 241.5h1M208 257.5h1M203 255.5h1M198 254.5h1M187 260.5h1M205 253.5h1M220 253.5h1M231 256.5h1M225 249.5h1M214 252.5h1M197 255.5h1M212 243.5h1M212 251.5h1M212 255.5h1M199 255.5h1M207 253.5h1M220 258.5h1M208 249.5h1M198 259.5h1M212 248.5h1M207 245.5h1M201 254.5h1M214 258.5h1M205 250.5h1M189 250.5h1M205 259.5h1M203 253.5h1M206 244.5h1M205 254.5h1M204 259.5h1M193 254.5h1M216 251.5h1M228 255.5h1M211 250.5h1M193 250.5h1M210 252.5h1M193 248.5h1M229 246.5h1M191 260.5h1M207 263.5h1M194 257.5h1M236 250.5h1M197 250.5h1M202 257.5h1M228 250.5h1M201 254.5h1M209 254.5h1M212 258.5h1M195 255.5h1M192 258.5h1M217 249.5h1M217 256.5h1M212 248.5h1M214 257.5h1M210 249.5h1M201 257.5h1M194 260.5h1M219 252.5h1M189 256.5h1M202 253.5h1M227 253.5h1M212 253.5h1M201 256.5h1M214 254.5h1M209 257.5h1M228 252.5h1M214 246.5h1M205 259.5h1M215 255.5h1M202 251.5h1M219 240.5h1M209 249.5h1M222 256.5h1M221 251.5h1M193 257.5h1M200 249.5h1M200 256.5h1M220 249.5h1M209 257.5h1M221 255.5h1M188 262.5h1M197 252.5h1M210 248.5h1M188 258.5h1M194 250.5h1M218 257.5h1M213 250.5h1M203 256.5h1M203 239.5h1M209 262.5h1M213 255.5h1M221 240.5h1M211 248.5h1M204 260.5h1M209 258.5h1M201 239.5h1M201 268.5h1M213 261.5h1M188 240.5h1M199 250.5h1M189 261.5h1M203 265.5h1M218 251.5h1M212 260.5h1M200 247.5h1M198 254.5h1M207 243.5h1M198 249.5h1M206 254.5h1M199 251.5h1M182 247.5h1M212 245.5h1M207 269.5h1M241 261.5h1M209 261.5h1M202 243.5h1M221 263.5h1M196 250.5h1M222 250.5h1M208 245.5h1M190 259.5h1M216 252.5h1M184 259.5h1M177 258.5h1M218 250.5h1M209 264.5h1M215 254.5h1M203 252.5h1M199 257.5h1M198 249.5h1M202 247.5h1M224 264.5h1M212 257.5h1M221 262.5h1M224 244.5h1M213 267.5h1M196 257.5h1M190 253.5h1M218 254.5h1M202 246.5h1M217 253.5h1M235 258.5h1M210 259.5h1M213 264.5h1M200 264.5h1M204 262.5h1M231 255.5h1M221 253.5h1M204 252.5h1M205 244.5h1M197 259.5h1M188 259.5h1M218 256.5h1M207 261.5h1M194 254.5h1M191 252.5h1M208 242.5h1M221 251.5h1M183 256.5h1M207 258.5h1M204 253.5h1M189 251.5h1M223 251.5h1M202 257.5h1M186 250.5h1M228 251.5h1M204 248.5h1M212 252.5h1M208 250.5h1M199 251.5h1M193 268.5h1M199 253.5h1M215 238.5h1M207 252.5h1M195 254.5h1M190 262.5h1M202 269.5h1M216 248.5h1M190 255.5h1M186 252.5h1M212 253.5h1M200 258.5h1M230 265.5h1M212 245.5h1M208 269.5h1M200 274.5h1M199 258.5h1M207 250.5h1M242 253.5h1M224 235.5h1M214 270.5h1M219 246.5h1M235 263.5h1M202 285.5h1M190 275.5h1M218 288.5h1M208 246.5h1M198 250.5h1M219 260.5h1M192 262.5h1M240 270.5h1M224 252.5h1M185 246.5h1M201 263.5h1" stroke="#000" stroke-width="1" fill="none" opacity="1.0"/>
<rect x="64.25" y="232.60" width="69.60" height="76.90" fill="none" stroke="#222" stroke-width="1.3"/>
<line x1="64.25" y1="275.6" x2="133.85" y2="275.6" stroke="#222" stroke-width="1.3" />
<line x1="96.3" y1="275.6" x2="96.3" y2="309.5" stroke="#222" stroke-width="1.3" />
<rect x="171.40" y="229.10" width="79.90" height="80.70" fill="none" stroke="#222" stroke-width="1.3"/>
<line x1="171.4" y1="271.2" x2="251.3" y2="271.2" stroke="#222" stroke-width="1.3" />
<line x1="208.3" y1="271.2" x2="208.3" y2="309.8" stroke="#222" stroke-width="1.3" />
<text x="73.5" y="225" font-size="8" font-weight="normal" text-anchor="start" fill="#222" stroke="#222" stroke-width="0.22" >Jeko-1 ALDH<tspan font-size="5.6" dy="-1.6">neg</tspan></text>
<text x="189" y="223.2" font-size="8" font-weight="normal" text-anchor="start" fill="#222" stroke="#222" stroke-width="0.22" >Jeko-1 ALDH<tspan font-size="5.2" dy="-3">+</tspan></text>
<text x="131.2" y="246.9" font-size="9.0" font-weight="bold" text-anchor="end" fill="#111" >66.2</text>
<text x="70.7" y="305.6" font-size="8.8" font-weight="bold" text-anchor="start" fill="#111" >23</text>
<text x="131.6" y="307.5" font-size="9.0" font-weight="bold" text-anchor="end" fill="#111" >10</text>
<text x="243.7" y="243.2" font-size="9.0" font-weight="bold" text-anchor="end" fill="#111" >29.8</text>
<text x="177.8" y="307.5" font-size="8.9" font-weight="bold" text-anchor="start" fill="#111" >64.4</text>
<text x="249" y="307.5" font-size="8.9" font-weight="bold" text-anchor="end" fill="#111" >5.3</text>
<line x1="35.0" y1="217" x2="35.0" y2="304.7" stroke="#000" stroke-width="1.8" />
<polyline points="31.3,221.9 35.0,216.4 38.7,221.9" fill="none" stroke="#000" stroke-width="2" stroke-linecap="round"/>
<text transform="translate(34.9,319.9) rotate(-90)" font-size="8" font-weight="bold" text-anchor="middle" fill="#111">BrdU</text>
<text x="49.4" y="350.6" font-size="8" font-weight="bold" text-anchor="start" fill="#111" >7AAD</text>
<line x1="76.7" y1="345.1" x2="243" y2="345.1" stroke="#000" stroke-width="2.0" />
<polyline points="239.4,341.8 243.5,345.1 239.4,348.3" fill="none" stroke="#000" stroke-width="2" stroke-linecap="round"/>
<text x="279.6" y="200.6" font-size="13" font-weight="bold" text-anchor="start" fill="#000" >D</text>
<line x1="310.9" y1="199.5" x2="310.9" y2="335.3" stroke="#777" stroke-width="0.9" />
<line x1="310.9" y1="335.3" x2="444.5" y2="335.3" stroke="#777" stroke-width="0.9" />
<line x1="308.7" y1="335.3" x2="310.9" y2="335.3" stroke="#777" stroke-width="0.8" />
<text x="303.6" y="338.2" font-size="8" font-weight="normal" text-anchor="end" fill="#222" stroke="#222" stroke-width="0.22" >0</text>
<line x1="308.7" y1="315.90000000000003" x2="310.9" y2="315.90000000000003" stroke="#777" stroke-width="0.8" />
<text x="303.6" y="318.8" font-size="8" font-weight="normal" text-anchor="end" fill="#222" stroke="#222" stroke-width="0.22" >10</text>
<line x1="308.7" y1="296.5" x2="310.9" y2="296.5" stroke="#777" stroke-width="0.8" />
<text x="303.6" y="299.4" font-size="8" font-weight="normal" text-anchor="end" fill="#222" stroke="#222" stroke-width="0.22" >20</text>
<line x1="308.7" y1="277.1" x2="310.9" y2="277.1" stroke="#777" stroke-width="0.8" />
<text x="303.6" y="280.0" font-size="8" font-weight="normal" text-anchor="end" fill="#222" stroke="#222" stroke-width="0.22" >30</text>
<line x1="308.7" y1="257.7" x2="310.9" y2="257.7" stroke="#777" stroke-width="0.8" />
<text x="303.6" y="260.6" font-size="8" font-weight="normal" text-anchor="end" fill="#222" stroke="#222" stroke-width="0.22" >40</text>
<line x1="308.7" y1="238.3" x2="310.9" y2="238.3" stroke="#777" stroke-width="0.8" />
<text x="303.6" y="241.2" font-size="8" font-weight="normal" text-anchor="end" fill="#222" stroke="#222" stroke-width="0.22" >50</text>
<line x1="308.7" y1="218.9" x2="310.9" y2="218.9" stroke="#777" stroke-width="0.8" />
<text x="303.6" y="221.8" font-size="8" font-weight="normal" text-anchor="end" fill="#222" stroke="#222" stroke-width="0.22" >60</text>
<line x1="308.7" y1="199.5" x2="310.9" y2="199.5" stroke="#777" stroke-width="0.8" />
<text x="303.6" y="202.4" font-size="8" font-weight="normal" text-anchor="end" fill="#222" stroke="#222" stroke-width="0.22" >70</text>
<line x1="354.26666666666665" y1="335.3" x2="354.26666666666665" y2="337.8" stroke="#777" stroke-width="0.8" />
<line x1="397.6333333333333" y1="335.3" x2="397.6333333333333" y2="337.8" stroke="#777" stroke-width="0.8" />
<line x1="441.0" y1="335.3" x2="441.0" y2="337.8" stroke="#777" stroke-width="0.8" />
<rect x="320.98" y="297.86" width="11.60" height="37.44" fill="#000" stroke="none" stroke-width="1"/>
<line x1="326.7833333333333" y1="291.844" x2="326.7833333333333" y2="297.858" stroke="#000" stroke-width="0.9" />
<line x1="324.9833333333333" y1="291.844" x2="328.5833333333333" y2="291.844" stroke="#000" stroke-width="1.0" />
<rect x="333.08" y="255.76" width="12.00" height="79.54" fill="#fff" stroke="#111" stroke-width="1.0"/>
<line x1="339.0833333333333" y1="243.15" x2="339.0833333333333" y2="255.76" stroke="#000" stroke-width="0.9" />
<line x1="337.2833333333333" y1="243.15" x2="340.8833333333333" y2="243.15" stroke="#000" stroke-width="1.0" />
<line x1="324.8" y1="238.8" x2="342.1" y2="238.8" stroke="#000" stroke-width="1.8" />
<text x="333.5" y="229.7" font-size="12" font-weight="bold" text-anchor="middle" fill="#000" >*</text>
<text x="332.58" y="349.8" font-size="6.8" font-weight="normal" text-anchor="middle" fill="#222" stroke="#222" stroke-width="0.22" >Granta519</text>
<rect x="364.35" y="290.10" width="11.60" height="45.20" fill="#000" stroke="none" stroke-width="1"/>
<line x1="370.15" y1="282.92" x2="370.15" y2="290.098" stroke="#000" stroke-width="0.9" />
<line x1="368.34999999999997" y1="282.92" x2="371.95" y2="282.92" stroke="#000" stroke-width="1.0" />
<rect x="376.45" y="226.27" width="12.00" height="109.03" fill="#fff" stroke="#111" stroke-width="1.0"/>
<line x1="382.45" y1="217.736" x2="382.45" y2="226.272" stroke="#000" stroke-width="0.9" />
<line x1="380.65" y1="217.736" x2="384.25" y2="217.736" stroke="#000" stroke-width="1.0" />
<line x1="368.1" y1="206.9" x2="385.6" y2="206.9" stroke="#000" stroke-width="1.8" />
<text x="378.8" y="199.6" font-size="12" font-weight="bold" text-anchor="middle" fill="#000" >*</text>
<text x="375.95" y="349.8" font-size="6.8" font-weight="normal" text-anchor="middle" fill="#222" stroke="#222" stroke-width="0.22" >Jeko-1</text>
<rect x="407.72" y="314.93" width="11.60" height="20.37" fill="#000" stroke="none" stroke-width="1"/>
<line x1="413.51666666666665" y1="292.426" x2="413.51666666666665" y2="314.93" stroke="#000" stroke-width="0.9" />
<line x1="411.71666666666664" y1="292.426" x2="415.31666666666666" y2="292.426" stroke="#000" stroke-width="1.0" />
<rect x="419.82" y="263.71" width="12.00" height="71.59" fill="#fff" stroke="#111" stroke-width="1.0"/>
<line x1="425.81666666666666" y1="252.462" x2="425.81666666666666" y2="263.714" stroke="#000" stroke-width="0.9" />
<line x1="424.01666666666665" y1="252.462" x2="427.6166666666667" y2="252.462" stroke="#000" stroke-width="1.0" />
<line x1="411.4" y1="246.9" x2="429.3" y2="246.9" stroke="#000" stroke-width="1.8" />
<text x="422.5" y="239.7" font-size="12" font-weight="bold" text-anchor="middle" fill="#000" >*</text>
<text x="419.32" y="349.8" font-size="6.8" font-weight="normal" text-anchor="middle" fill="#222" stroke="#222" stroke-width="0.22" >Rec-1</text>
<text transform="translate(285.4,267.6) rotate(-90)" font-size="8.15" font-weight="bold" text-anchor="middle" fill="#111">Percent Go/G1 Phase</text>
<rect x="402.80" y="197.30" width="5.30" height="5.50" fill="#000" stroke="none" stroke-width="1"/>
<text x="411.5" y="204" font-size="7.7" font-weight="normal" text-anchor="start" fill="#111" stroke="#111" stroke-width="0.22" >ALDH<tspan font-size="5.4" dy="-2">neg</tspan></text>
<rect x="403.30" y="214.10" width="4.40" height="4.40" fill="#fff" stroke="#222" stroke-width="1"/>
<text x="411.5" y="220.4" font-size="7.7" font-weight="normal" text-anchor="start" fill="#111" stroke="#111" stroke-width="0.22" >ALDH<tspan font-size="5.2" dy="-3">+</tspan></text>
</svg></body></html>
